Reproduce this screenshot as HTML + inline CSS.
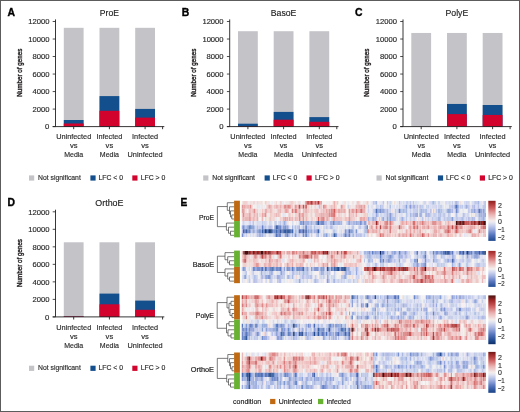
<!DOCTYPE html><html><head><meta charset="utf-8"><style>html,body{margin:0;padding:0;background:#fff;width:520px;height:412px;overflow:hidden;font-family:"Liberation Sans",sans-serif}</style></head><body><div style="position:absolute;left:0;top:0;width:520px;height:412px;will-change:transform"><svg width="520" height="412" viewBox="0 0 520 412" style="position:absolute;left:0;top:0" font-family="&quot;Liberation Sans&quot;, sans-serif">
<rect width="520" height="412" fill="#fff"/>
<defs><filter id="bl" x="-0.01" y="-0.05" width="1.02" height="1.1"><feGaussianBlur stdDeviation="0.45"/></filter></defs>
<path d="M55.50 19.40V126.60" stroke="#231f20" stroke-width="0.9" fill="none"/>
<path d="M52.70 126.60H55.50" stroke="#231f20" stroke-width="0.8"/>
<text x="45.10" y="129.45" font-size="6.9" textLength="4.3" lengthAdjust="spacingAndGlyphs" fill="#2a2a2a" stroke="#2a2a2a" stroke-width="0.15">0</text>
<path d="M52.70 109.08H55.50" stroke="#231f20" stroke-width="0.8"/>
<text x="32.40" y="111.93" font-size="6.9" textLength="17.0" lengthAdjust="spacingAndGlyphs" fill="#2a2a2a" stroke="#2a2a2a" stroke-width="0.15">2000</text>
<path d="M52.70 91.57H55.50" stroke="#231f20" stroke-width="0.8"/>
<text x="32.40" y="94.42" font-size="6.9" textLength="17.0" lengthAdjust="spacingAndGlyphs" fill="#2a2a2a" stroke="#2a2a2a" stroke-width="0.15">4000</text>
<path d="M52.70 74.05H55.50" stroke="#231f20" stroke-width="0.8"/>
<text x="32.40" y="76.90" font-size="6.9" textLength="17.0" lengthAdjust="spacingAndGlyphs" fill="#2a2a2a" stroke="#2a2a2a" stroke-width="0.15">6000</text>
<path d="M52.70 56.53H55.50" stroke="#231f20" stroke-width="0.8"/>
<text x="32.40" y="59.38" font-size="6.9" textLength="17.0" lengthAdjust="spacingAndGlyphs" fill="#2a2a2a" stroke="#2a2a2a" stroke-width="0.15">8000</text>
<path d="M52.70 39.02H55.50" stroke="#231f20" stroke-width="0.8"/>
<text x="28.20" y="41.87" font-size="6.9" textLength="21.2" lengthAdjust="spacingAndGlyphs" fill="#2a2a2a" stroke="#2a2a2a" stroke-width="0.15">10000</text>
<path d="M52.70 21.50H55.50" stroke="#231f20" stroke-width="0.8"/>
<text x="28.20" y="24.35" font-size="6.9" textLength="21.2" lengthAdjust="spacingAndGlyphs" fill="#2a2a2a" stroke="#2a2a2a" stroke-width="0.15">12000</text>
<rect x="63.80" y="27.81" width="19.8" height="98.79" fill="#c4c3c8"/>
<rect x="63.80" y="120.00" width="19.8" height="6.60" fill="#134f8c"/>
<rect x="63.80" y="123.50" width="19.8" height="3.10" fill="#d2042d"/>
<rect x="99.50" y="27.81" width="19.8" height="98.79" fill="#c4c3c8"/>
<rect x="99.50" y="96.10" width="19.8" height="30.50" fill="#134f8c"/>
<rect x="99.50" y="110.80" width="19.8" height="15.80" fill="#d2042d"/>
<rect x="135.20" y="27.81" width="19.8" height="98.79" fill="#c4c3c8"/>
<rect x="135.20" y="108.91" width="19.8" height="17.69" fill="#134f8c"/>
<rect x="135.20" y="117.61" width="19.8" height="8.99" fill="#d2042d"/>
<path d="M52.70 126.60H164.30" stroke="#231f20" stroke-width="0.9" fill="none"/>
<path d="M73.70 126.60V129.20" stroke="#231f20" stroke-width="0.9"/>
<path d="M109.40 126.60V129.20" stroke="#231f20" stroke-width="0.9"/>
<path d="M145.10 126.60V129.20" stroke="#231f20" stroke-width="0.9"/>
<path d="M162.60 126.60V129.20" stroke="#231f20" stroke-width="0.9"/>
<text x="73.70" y="139.20" font-size="7.4" text-anchor="middle" textLength="35.1" lengthAdjust="spacingAndGlyphs" fill="#2a2a2a" stroke="#2a2a2a" stroke-width="0.15">Uninfected</text>
<text x="73.70" y="148.30" font-size="7.4" text-anchor="middle" textLength="7.6" lengthAdjust="spacingAndGlyphs" fill="#2a2a2a" stroke="#2a2a2a" stroke-width="0.15">vs</text>
<text x="73.70" y="157.40" font-size="7.4" text-anchor="middle" textLength="19.1" lengthAdjust="spacingAndGlyphs" fill="#2a2a2a" stroke="#2a2a2a" stroke-width="0.15">Media</text>
<text x="109.40" y="139.20" font-size="7.4" text-anchor="middle" textLength="26.0" lengthAdjust="spacingAndGlyphs" fill="#2a2a2a" stroke="#2a2a2a" stroke-width="0.15">Infected</text>
<text x="109.40" y="148.30" font-size="7.4" text-anchor="middle" textLength="7.6" lengthAdjust="spacingAndGlyphs" fill="#2a2a2a" stroke="#2a2a2a" stroke-width="0.15">vs</text>
<text x="109.40" y="157.40" font-size="7.4" text-anchor="middle" textLength="19.1" lengthAdjust="spacingAndGlyphs" fill="#2a2a2a" stroke="#2a2a2a" stroke-width="0.15">Media</text>
<text x="145.10" y="139.20" font-size="7.4" text-anchor="middle" textLength="26.0" lengthAdjust="spacingAndGlyphs" fill="#2a2a2a" stroke="#2a2a2a" stroke-width="0.15">Infected</text>
<text x="145.10" y="148.30" font-size="7.4" text-anchor="middle" textLength="7.6" lengthAdjust="spacingAndGlyphs" fill="#2a2a2a" stroke="#2a2a2a" stroke-width="0.15">vs</text>
<text x="145.10" y="157.40" font-size="7.4" text-anchor="middle" textLength="35.1" lengthAdjust="spacingAndGlyphs" fill="#2a2a2a" stroke="#2a2a2a" stroke-width="0.15">Uninfected</text>
<text transform="translate(21.50,72.70) rotate(-90)" x="0" y="0" font-size="8.0" text-anchor="middle" textLength="48" lengthAdjust="spacingAndGlyphs" fill="#231f20" stroke="#231f20" stroke-width="0.4">Number of genes</text>
<text x="109.40" y="15.80" font-size="9.8" text-anchor="middle" textLength="19.1" lengthAdjust="spacingAndGlyphs" fill="#222" stroke="#222" stroke-width="0.15">ProE</text>
<text x="7.50" y="15.60" font-size="10.4" font-weight="bold" fill="#000" stroke="#000" stroke-width="0.35">A</text>
<rect x="29.00" y="175.40" width="5.2" height="5.2" fill="#c4c3c8"/>
<text x="38.10" y="180.10" font-size="6.9" textLength="42.7" lengthAdjust="spacingAndGlyphs" fill="#2a2a2a" stroke="#2a2a2a" stroke-width="0.15">Not significant</text>
<rect x="90.40" y="175.40" width="5.2" height="5.2" fill="#134f8c"/>
<text x="98.50" y="180.10" font-size="6.9" textLength="24.5" lengthAdjust="spacingAndGlyphs" fill="#2a2a2a" stroke="#2a2a2a" stroke-width="0.15">LFC &lt; 0</text>
<rect x="132.30" y="175.40" width="5.2" height="5.2" fill="#d2042d"/>
<text x="140.70" y="180.10" font-size="6.9" textLength="24.7" lengthAdjust="spacingAndGlyphs" fill="#2a2a2a" stroke="#2a2a2a" stroke-width="0.15">LFC &gt; 0</text>
<path d="M229.70 19.40V126.60" stroke="#231f20" stroke-width="0.9" fill="none"/>
<path d="M226.90 126.60H229.70" stroke="#231f20" stroke-width="0.8"/>
<text x="219.30" y="129.45" font-size="6.9" textLength="4.3" lengthAdjust="spacingAndGlyphs" fill="#2a2a2a" stroke="#2a2a2a" stroke-width="0.15">0</text>
<path d="M226.90 109.08H229.70" stroke="#231f20" stroke-width="0.8"/>
<text x="206.60" y="111.93" font-size="6.9" textLength="17.0" lengthAdjust="spacingAndGlyphs" fill="#2a2a2a" stroke="#2a2a2a" stroke-width="0.15">2000</text>
<path d="M226.90 91.57H229.70" stroke="#231f20" stroke-width="0.8"/>
<text x="206.60" y="94.42" font-size="6.9" textLength="17.0" lengthAdjust="spacingAndGlyphs" fill="#2a2a2a" stroke="#2a2a2a" stroke-width="0.15">4000</text>
<path d="M226.90 74.05H229.70" stroke="#231f20" stroke-width="0.8"/>
<text x="206.60" y="76.90" font-size="6.9" textLength="17.0" lengthAdjust="spacingAndGlyphs" fill="#2a2a2a" stroke="#2a2a2a" stroke-width="0.15">6000</text>
<path d="M226.90 56.53H229.70" stroke="#231f20" stroke-width="0.8"/>
<text x="206.60" y="59.38" font-size="6.9" textLength="17.0" lengthAdjust="spacingAndGlyphs" fill="#2a2a2a" stroke="#2a2a2a" stroke-width="0.15">8000</text>
<path d="M226.90 39.02H229.70" stroke="#231f20" stroke-width="0.8"/>
<text x="202.40" y="41.87" font-size="6.9" textLength="21.2" lengthAdjust="spacingAndGlyphs" fill="#2a2a2a" stroke="#2a2a2a" stroke-width="0.15">10000</text>
<path d="M226.90 21.50H229.70" stroke="#231f20" stroke-width="0.8"/>
<text x="202.40" y="24.35" font-size="6.9" textLength="21.2" lengthAdjust="spacingAndGlyphs" fill="#2a2a2a" stroke="#2a2a2a" stroke-width="0.15">12000</text>
<rect x="238.00" y="31.22" width="19.8" height="95.38" fill="#c4c3c8"/>
<rect x="238.00" y="123.71" width="19.8" height="2.89" fill="#134f8c"/>
<rect x="238.00" y="126.25" width="19.8" height="0.35" fill="#d2042d"/>
<rect x="273.70" y="31.22" width="19.8" height="95.38" fill="#c4c3c8"/>
<rect x="273.70" y="111.90" width="19.8" height="14.70" fill="#134f8c"/>
<rect x="273.70" y="119.70" width="19.8" height="6.90" fill="#d2042d"/>
<rect x="309.40" y="31.22" width="19.8" height="95.38" fill="#c4c3c8"/>
<rect x="309.40" y="117.11" width="19.8" height="9.49" fill="#134f8c"/>
<rect x="309.40" y="121.80" width="19.8" height="4.80" fill="#d2042d"/>
<path d="M226.90 126.60H338.50" stroke="#231f20" stroke-width="0.9" fill="none"/>
<path d="M247.90 126.60V129.20" stroke="#231f20" stroke-width="0.9"/>
<path d="M283.60 126.60V129.20" stroke="#231f20" stroke-width="0.9"/>
<path d="M319.30 126.60V129.20" stroke="#231f20" stroke-width="0.9"/>
<path d="M336.80 126.60V129.20" stroke="#231f20" stroke-width="0.9"/>
<text x="247.90" y="139.20" font-size="7.4" text-anchor="middle" textLength="35.1" lengthAdjust="spacingAndGlyphs" fill="#2a2a2a" stroke="#2a2a2a" stroke-width="0.15">Uninfected</text>
<text x="247.90" y="148.30" font-size="7.4" text-anchor="middle" textLength="7.6" lengthAdjust="spacingAndGlyphs" fill="#2a2a2a" stroke="#2a2a2a" stroke-width="0.15">vs</text>
<text x="247.90" y="157.40" font-size="7.4" text-anchor="middle" textLength="19.1" lengthAdjust="spacingAndGlyphs" fill="#2a2a2a" stroke="#2a2a2a" stroke-width="0.15">Media</text>
<text x="283.60" y="139.20" font-size="7.4" text-anchor="middle" textLength="26.0" lengthAdjust="spacingAndGlyphs" fill="#2a2a2a" stroke="#2a2a2a" stroke-width="0.15">Infected</text>
<text x="283.60" y="148.30" font-size="7.4" text-anchor="middle" textLength="7.6" lengthAdjust="spacingAndGlyphs" fill="#2a2a2a" stroke="#2a2a2a" stroke-width="0.15">vs</text>
<text x="283.60" y="157.40" font-size="7.4" text-anchor="middle" textLength="19.1" lengthAdjust="spacingAndGlyphs" fill="#2a2a2a" stroke="#2a2a2a" stroke-width="0.15">Media</text>
<text x="319.30" y="139.20" font-size="7.4" text-anchor="middle" textLength="26.0" lengthAdjust="spacingAndGlyphs" fill="#2a2a2a" stroke="#2a2a2a" stroke-width="0.15">Infected</text>
<text x="319.30" y="148.30" font-size="7.4" text-anchor="middle" textLength="7.6" lengthAdjust="spacingAndGlyphs" fill="#2a2a2a" stroke="#2a2a2a" stroke-width="0.15">vs</text>
<text x="319.30" y="157.40" font-size="7.4" text-anchor="middle" textLength="35.1" lengthAdjust="spacingAndGlyphs" fill="#2a2a2a" stroke="#2a2a2a" stroke-width="0.15">Uninfected</text>
<text transform="translate(195.70,72.70) rotate(-90)" x="0" y="0" font-size="8.0" text-anchor="middle" textLength="48" lengthAdjust="spacingAndGlyphs" fill="#231f20" stroke="#231f20" stroke-width="0.4">Number of genes</text>
<text x="283.60" y="15.80" font-size="9.8" text-anchor="middle" textLength="25.7" lengthAdjust="spacingAndGlyphs" fill="#222" stroke="#222" stroke-width="0.15">BasoE</text>
<text x="181.70" y="15.60" font-size="10.4" font-weight="bold" fill="#000" stroke="#000" stroke-width="0.35">B</text>
<rect x="203.20" y="175.40" width="5.2" height="5.2" fill="#c4c3c8"/>
<text x="212.30" y="180.10" font-size="6.9" textLength="42.7" lengthAdjust="spacingAndGlyphs" fill="#2a2a2a" stroke="#2a2a2a" stroke-width="0.15">Not significant</text>
<rect x="264.60" y="175.40" width="5.2" height="5.2" fill="#134f8c"/>
<text x="272.70" y="180.10" font-size="6.9" textLength="24.5" lengthAdjust="spacingAndGlyphs" fill="#2a2a2a" stroke="#2a2a2a" stroke-width="0.15">LFC &lt; 0</text>
<rect x="306.50" y="175.40" width="5.2" height="5.2" fill="#d2042d"/>
<text x="314.90" y="180.10" font-size="6.9" textLength="24.7" lengthAdjust="spacingAndGlyphs" fill="#2a2a2a" stroke="#2a2a2a" stroke-width="0.15">LFC &gt; 0</text>
<path d="M403.00 19.40V126.60" stroke="#231f20" stroke-width="0.9" fill="none"/>
<path d="M400.20 126.60H403.00" stroke="#231f20" stroke-width="0.8"/>
<text x="392.60" y="129.45" font-size="6.9" textLength="4.3" lengthAdjust="spacingAndGlyphs" fill="#2a2a2a" stroke="#2a2a2a" stroke-width="0.15">0</text>
<path d="M400.20 109.08H403.00" stroke="#231f20" stroke-width="0.8"/>
<text x="379.90" y="111.93" font-size="6.9" textLength="17.0" lengthAdjust="spacingAndGlyphs" fill="#2a2a2a" stroke="#2a2a2a" stroke-width="0.15">2000</text>
<path d="M400.20 91.57H403.00" stroke="#231f20" stroke-width="0.8"/>
<text x="379.90" y="94.42" font-size="6.9" textLength="17.0" lengthAdjust="spacingAndGlyphs" fill="#2a2a2a" stroke="#2a2a2a" stroke-width="0.15">4000</text>
<path d="M400.20 74.05H403.00" stroke="#231f20" stroke-width="0.8"/>
<text x="379.90" y="76.90" font-size="6.9" textLength="17.0" lengthAdjust="spacingAndGlyphs" fill="#2a2a2a" stroke="#2a2a2a" stroke-width="0.15">6000</text>
<path d="M400.20 56.53H403.00" stroke="#231f20" stroke-width="0.8"/>
<text x="379.90" y="59.38" font-size="6.9" textLength="17.0" lengthAdjust="spacingAndGlyphs" fill="#2a2a2a" stroke="#2a2a2a" stroke-width="0.15">8000</text>
<path d="M400.20 39.02H403.00" stroke="#231f20" stroke-width="0.8"/>
<text x="375.70" y="41.87" font-size="6.9" textLength="21.2" lengthAdjust="spacingAndGlyphs" fill="#2a2a2a" stroke="#2a2a2a" stroke-width="0.15">10000</text>
<path d="M400.20 21.50H403.00" stroke="#231f20" stroke-width="0.8"/>
<text x="375.70" y="24.35" font-size="6.9" textLength="21.2" lengthAdjust="spacingAndGlyphs" fill="#2a2a2a" stroke="#2a2a2a" stroke-width="0.15">12000</text>
<rect x="411.30" y="32.97" width="19.8" height="93.63" fill="#c4c3c8"/>
<rect x="447.00" y="32.97" width="19.8" height="93.63" fill="#c4c3c8"/>
<rect x="447.00" y="103.95" width="19.8" height="22.65" fill="#134f8c"/>
<rect x="447.00" y="114.10" width="19.8" height="12.50" fill="#d2042d"/>
<rect x="482.70" y="32.97" width="19.8" height="93.63" fill="#c4c3c8"/>
<rect x="482.70" y="105.00" width="19.8" height="21.60" fill="#134f8c"/>
<rect x="482.70" y="114.95" width="19.8" height="11.65" fill="#d2042d"/>
<path d="M400.20 126.60H511.80" stroke="#231f20" stroke-width="0.9" fill="none"/>
<path d="M421.20 126.60V129.20" stroke="#231f20" stroke-width="0.9"/>
<path d="M456.90 126.60V129.20" stroke="#231f20" stroke-width="0.9"/>
<path d="M492.60 126.60V129.20" stroke="#231f20" stroke-width="0.9"/>
<path d="M510.10 126.60V129.20" stroke="#231f20" stroke-width="0.9"/>
<text x="421.20" y="139.20" font-size="7.4" text-anchor="middle" textLength="35.1" lengthAdjust="spacingAndGlyphs" fill="#2a2a2a" stroke="#2a2a2a" stroke-width="0.15">Uninfected</text>
<text x="421.20" y="148.30" font-size="7.4" text-anchor="middle" textLength="7.6" lengthAdjust="spacingAndGlyphs" fill="#2a2a2a" stroke="#2a2a2a" stroke-width="0.15">vs</text>
<text x="421.20" y="157.40" font-size="7.4" text-anchor="middle" textLength="19.1" lengthAdjust="spacingAndGlyphs" fill="#2a2a2a" stroke="#2a2a2a" stroke-width="0.15">Media</text>
<text x="456.90" y="139.20" font-size="7.4" text-anchor="middle" textLength="26.0" lengthAdjust="spacingAndGlyphs" fill="#2a2a2a" stroke="#2a2a2a" stroke-width="0.15">Infected</text>
<text x="456.90" y="148.30" font-size="7.4" text-anchor="middle" textLength="7.6" lengthAdjust="spacingAndGlyphs" fill="#2a2a2a" stroke="#2a2a2a" stroke-width="0.15">vs</text>
<text x="456.90" y="157.40" font-size="7.4" text-anchor="middle" textLength="19.1" lengthAdjust="spacingAndGlyphs" fill="#2a2a2a" stroke="#2a2a2a" stroke-width="0.15">Media</text>
<text x="492.60" y="139.20" font-size="7.4" text-anchor="middle" textLength="26.0" lengthAdjust="spacingAndGlyphs" fill="#2a2a2a" stroke="#2a2a2a" stroke-width="0.15">Infected</text>
<text x="492.60" y="148.30" font-size="7.4" text-anchor="middle" textLength="7.6" lengthAdjust="spacingAndGlyphs" fill="#2a2a2a" stroke="#2a2a2a" stroke-width="0.15">vs</text>
<text x="492.60" y="157.40" font-size="7.4" text-anchor="middle" textLength="35.1" lengthAdjust="spacingAndGlyphs" fill="#2a2a2a" stroke="#2a2a2a" stroke-width="0.15">Uninfected</text>
<text transform="translate(369.00,72.70) rotate(-90)" x="0" y="0" font-size="8.0" text-anchor="middle" textLength="48" lengthAdjust="spacingAndGlyphs" fill="#231f20" stroke="#231f20" stroke-width="0.4">Number of genes</text>
<text x="456.90" y="15.80" font-size="9.8" text-anchor="middle" textLength="22.8" lengthAdjust="spacingAndGlyphs" fill="#222" stroke="#222" stroke-width="0.15">PolyE</text>
<text x="355.00" y="15.60" font-size="10.4" font-weight="bold" fill="#000" stroke="#000" stroke-width="0.35">C</text>
<rect x="376.50" y="175.40" width="5.2" height="5.2" fill="#c4c3c8"/>
<text x="385.60" y="180.10" font-size="6.9" textLength="42.7" lengthAdjust="spacingAndGlyphs" fill="#2a2a2a" stroke="#2a2a2a" stroke-width="0.15">Not significant</text>
<rect x="437.90" y="175.40" width="5.2" height="5.2" fill="#134f8c"/>
<text x="446.00" y="180.10" font-size="6.9" textLength="24.5" lengthAdjust="spacingAndGlyphs" fill="#2a2a2a" stroke="#2a2a2a" stroke-width="0.15">LFC &lt; 0</text>
<rect x="479.80" y="175.40" width="5.2" height="5.2" fill="#d2042d"/>
<text x="488.20" y="180.10" font-size="6.9" textLength="24.7" lengthAdjust="spacingAndGlyphs" fill="#2a2a2a" stroke="#2a2a2a" stroke-width="0.15">LFC &gt; 0</text>
<path d="M55.50 209.70V316.90" stroke="#231f20" stroke-width="0.9" fill="none"/>
<path d="M52.70 316.90H55.50" stroke="#231f20" stroke-width="0.8"/>
<text x="45.10" y="319.75" font-size="6.9" textLength="4.3" lengthAdjust="spacingAndGlyphs" fill="#2a2a2a" stroke="#2a2a2a" stroke-width="0.15">0</text>
<path d="M52.70 299.38H55.50" stroke="#231f20" stroke-width="0.8"/>
<text x="32.40" y="302.23" font-size="6.9" textLength="17.0" lengthAdjust="spacingAndGlyphs" fill="#2a2a2a" stroke="#2a2a2a" stroke-width="0.15">2000</text>
<path d="M52.70 281.87H55.50" stroke="#231f20" stroke-width="0.8"/>
<text x="32.40" y="284.72" font-size="6.9" textLength="17.0" lengthAdjust="spacingAndGlyphs" fill="#2a2a2a" stroke="#2a2a2a" stroke-width="0.15">4000</text>
<path d="M52.70 264.35H55.50" stroke="#231f20" stroke-width="0.8"/>
<text x="32.40" y="267.20" font-size="6.9" textLength="17.0" lengthAdjust="spacingAndGlyphs" fill="#2a2a2a" stroke="#2a2a2a" stroke-width="0.15">6000</text>
<path d="M52.70 246.83H55.50" stroke="#231f20" stroke-width="0.8"/>
<text x="32.40" y="249.68" font-size="6.9" textLength="17.0" lengthAdjust="spacingAndGlyphs" fill="#2a2a2a" stroke="#2a2a2a" stroke-width="0.15">8000</text>
<path d="M52.70 229.32H55.50" stroke="#231f20" stroke-width="0.8"/>
<text x="28.20" y="232.17" font-size="6.9" textLength="21.2" lengthAdjust="spacingAndGlyphs" fill="#2a2a2a" stroke="#2a2a2a" stroke-width="0.15">10000</text>
<path d="M52.70 211.80H55.50" stroke="#231f20" stroke-width="0.8"/>
<text x="28.20" y="214.65" font-size="6.9" textLength="21.2" lengthAdjust="spacingAndGlyphs" fill="#2a2a2a" stroke="#2a2a2a" stroke-width="0.15">12000</text>
<rect x="63.80" y="242.28" width="19.8" height="74.62" fill="#c4c3c8"/>
<rect x="63.80" y="316.37" width="19.8" height="0.53" fill="#134f8c"/>
<rect x="63.80" y="316.37" width="19.8" height="0.53" fill="#d2042d"/>
<rect x="99.50" y="242.28" width="19.8" height="74.62" fill="#c4c3c8"/>
<rect x="99.50" y="293.60" width="19.8" height="23.30" fill="#134f8c"/>
<rect x="99.50" y="304.31" width="19.8" height="12.59" fill="#d2042d"/>
<rect x="135.20" y="242.28" width="19.8" height="74.62" fill="#c4c3c8"/>
<rect x="135.20" y="300.60" width="19.8" height="16.30" fill="#134f8c"/>
<rect x="135.20" y="309.81" width="19.8" height="7.09" fill="#d2042d"/>
<path d="M52.70 316.90H164.30" stroke="#231f20" stroke-width="0.9" fill="none"/>
<path d="M73.70 316.90V319.50" stroke="#231f20" stroke-width="0.9"/>
<path d="M109.40 316.90V319.50" stroke="#231f20" stroke-width="0.9"/>
<path d="M145.10 316.90V319.50" stroke="#231f20" stroke-width="0.9"/>
<path d="M162.60 316.90V319.50" stroke="#231f20" stroke-width="0.9"/>
<text x="73.70" y="329.50" font-size="7.4" text-anchor="middle" textLength="35.1" lengthAdjust="spacingAndGlyphs" fill="#2a2a2a" stroke="#2a2a2a" stroke-width="0.15">Uninfected</text>
<text x="73.70" y="338.60" font-size="7.4" text-anchor="middle" textLength="7.6" lengthAdjust="spacingAndGlyphs" fill="#2a2a2a" stroke="#2a2a2a" stroke-width="0.15">vs</text>
<text x="73.70" y="347.70" font-size="7.4" text-anchor="middle" textLength="19.1" lengthAdjust="spacingAndGlyphs" fill="#2a2a2a" stroke="#2a2a2a" stroke-width="0.15">Media</text>
<text x="109.40" y="329.50" font-size="7.4" text-anchor="middle" textLength="26.0" lengthAdjust="spacingAndGlyphs" fill="#2a2a2a" stroke="#2a2a2a" stroke-width="0.15">Infected</text>
<text x="109.40" y="338.60" font-size="7.4" text-anchor="middle" textLength="7.6" lengthAdjust="spacingAndGlyphs" fill="#2a2a2a" stroke="#2a2a2a" stroke-width="0.15">vs</text>
<text x="109.40" y="347.70" font-size="7.4" text-anchor="middle" textLength="19.1" lengthAdjust="spacingAndGlyphs" fill="#2a2a2a" stroke="#2a2a2a" stroke-width="0.15">Media</text>
<text x="145.10" y="329.50" font-size="7.4" text-anchor="middle" textLength="26.0" lengthAdjust="spacingAndGlyphs" fill="#2a2a2a" stroke="#2a2a2a" stroke-width="0.15">Infected</text>
<text x="145.10" y="338.60" font-size="7.4" text-anchor="middle" textLength="7.6" lengthAdjust="spacingAndGlyphs" fill="#2a2a2a" stroke="#2a2a2a" stroke-width="0.15">vs</text>
<text x="145.10" y="347.70" font-size="7.4" text-anchor="middle" textLength="35.1" lengthAdjust="spacingAndGlyphs" fill="#2a2a2a" stroke="#2a2a2a" stroke-width="0.15">Uninfected</text>
<text transform="translate(21.50,263.00) rotate(-90)" x="0" y="0" font-size="8.0" text-anchor="middle" textLength="48" lengthAdjust="spacingAndGlyphs" fill="#231f20" stroke="#231f20" stroke-width="0.4">Number of genes</text>
<text x="109.40" y="206.10" font-size="9.8" text-anchor="middle" textLength="28.2" lengthAdjust="spacingAndGlyphs" fill="#222" stroke="#222" stroke-width="0.15">OrthoE</text>
<text x="7.50" y="205.90" font-size="10.4" font-weight="bold" fill="#000" stroke="#000" stroke-width="0.35">D</text>
<rect x="29.00" y="365.70" width="5.2" height="5.2" fill="#c4c3c8"/>
<text x="38.10" y="370.40" font-size="6.9" textLength="42.7" lengthAdjust="spacingAndGlyphs" fill="#2a2a2a" stroke="#2a2a2a" stroke-width="0.15">Not significant</text>
<rect x="90.40" y="365.70" width="5.2" height="5.2" fill="#134f8c"/>
<text x="98.50" y="370.40" font-size="6.9" textLength="24.5" lengthAdjust="spacingAndGlyphs" fill="#2a2a2a" stroke="#2a2a2a" stroke-width="0.15">LFC &lt; 0</text>
<rect x="132.30" y="365.70" width="5.2" height="5.2" fill="#d2042d"/>
<text x="140.70" y="370.40" font-size="6.9" textLength="24.7" lengthAdjust="spacingAndGlyphs" fill="#2a2a2a" stroke="#2a2a2a" stroke-width="0.15">LFC &gt; 0</text>
<text x="180.50" y="205.90" font-size="10.2" font-weight="bold" fill="#000" stroke="#000" stroke-width="0.35">E</text>
<g stroke-width="4.07" filter="url(#bl)">
<path stroke="#f0e8e0" d="M241.7 202.73h1.4M268.8 202.73h1.4M328.5 202.73h1.4M338.0 202.73h1.4M309.5 206.80h1.4M366.5 206.80h1.4M434.3 210.88h1.4M268.8 214.94h1.4M267.5 219.01h1.4M426.1 231.22h1.4M468.2 235.29h1.4"/>
<path stroke="#f0d0d0" d="M243.1 202.73h4.1M252.5 202.73h1.4M279.7 202.73h1.4M289.2 202.73h1.4M291.9 202.73h1.4M335.3 202.73h1.4M266.1 206.80h1.4M271.5 206.80h1.4M310.9 206.80h1.4M329.8 206.80h1.4M332.6 206.80h1.4M244.4 210.88h1.4M256.6 210.88h1.4M267.5 210.88h2.7M271.5 210.88h1.4M277.0 210.88h1.4M290.5 210.88h1.4M300.0 210.88h1.4M313.6 210.88h1.4M317.6 210.88h1.4M321.7 210.88h1.4M350.2 210.88h1.4M251.2 214.94h1.4M266.1 214.94h1.4M271.5 214.94h1.4M294.6 214.94h2.7M304.1 214.94h1.4M306.8 214.94h1.4M310.9 214.94h1.4M338.0 214.94h2.7M343.4 214.94h1.4M362.4 214.94h1.4M268.8 219.01h1.4M274.2 219.01h1.4M279.7 219.01h1.4M287.8 219.01h1.4M306.8 219.01h1.4M310.9 219.01h2.7M352.9 219.01h2.7M424.8 219.01h1.4M370.5 223.08h1.4M382.7 223.08h1.4M446.5 223.08h1.4M451.9 223.08h1.4M377.3 227.16h1.4M388.2 227.16h1.4M392.2 227.16h2.7M476.3 227.16h1.4M380.0 231.22h1.4M385.4 231.22h1.4M388.2 231.22h1.4M390.9 231.22h6.8M404.4 231.22h1.4M415.3 231.22h1.4M418.0 231.22h1.4M422.1 231.22h1.4M430.2 231.22h1.4M437.0 231.22h1.4M442.4 231.22h1.4M450.5 231.22h1.4M462.7 231.22h2.7M481.7 231.22h1.4M413.9 235.29h2.7M428.8 235.29h1.4"/>
<path stroke="#f0d8d8" d="M247.1 202.73h1.4M253.9 202.73h1.4M256.6 202.73h1.4M259.3 202.73h1.4M266.1 202.73h1.4M275.6 202.73h1.4M281.0 202.73h1.4M293.2 202.73h1.4M343.4 202.73h1.4M272.9 206.80h1.4M314.9 206.80h1.4M365.1 206.80h1.4M259.3 210.88h1.4M263.4 210.88h1.4M274.2 210.88h1.4M281.0 210.88h2.7M309.5 210.88h1.4M365.1 210.88h1.4M392.2 210.88h1.4M272.9 214.94h1.4M287.8 214.94h1.4M309.5 214.94h1.4M340.7 214.94h1.4M358.3 214.94h1.4M470.9 214.94h1.4M264.8 219.01h1.4M272.9 219.01h1.4M308.1 219.01h1.4M342.1 219.01h1.4M344.8 227.16h1.4M404.4 227.16h1.4M420.7 227.16h1.4M437.0 227.16h1.4M462.7 227.16h1.4M399.0 231.22h1.4M401.7 231.22h1.4M411.2 231.22h1.4M424.8 231.22h1.4M431.6 231.22h1.4M439.7 231.22h1.4M367.8 235.29h1.4M370.5 235.29h1.4M376.0 235.29h1.4M396.3 235.29h1.4M443.8 235.29h2.7M456.0 235.29h1.4M458.7 235.29h1.4M480.4 235.29h1.4"/>
<path stroke="#f0e8e8" d="M248.5 202.73h1.4M262.0 202.73h1.4M278.3 202.73h1.4M285.1 202.73h4.1M304.1 202.73h1.4M359.7 202.73h1.4M363.8 202.73h1.4M378.7 202.73h1.4M394.9 202.73h1.4M461.4 202.73h1.4M255.3 206.80h1.4M260.7 206.80h2.7M293.2 206.80h1.4M312.2 206.80h1.4M339.3 206.80h1.4M351.5 206.80h2.7M373.2 206.80h1.4M258.0 210.88h1.4M260.7 210.88h1.4M289.2 210.88h1.4M258.0 214.94h1.4M267.5 214.94h1.4M293.2 214.94h1.4M313.6 214.94h1.4M336.6 214.94h1.4M342.1 214.94h1.4M347.5 214.94h1.4M359.7 214.94h1.4M403.1 214.94h1.4M472.2 214.94h2.7M278.3 219.01h1.4M314.9 219.01h1.4M380.0 219.01h1.4M287.8 223.08h1.4M293.2 223.08h1.4M343.4 223.08h1.4M366.5 223.08h1.4M443.8 223.08h1.4M325.8 231.22h1.4M342.1 231.22h1.4M427.5 231.22h1.4M476.3 231.22h1.4M247.1 235.29h2.7M371.9 235.29h1.4M437.0 235.29h1.4M466.8 235.29h1.4M469.5 235.29h1.4M481.7 235.29h1.4"/>
<path stroke="#f0e0e0" d="M249.8 202.73h2.7M255.3 202.73h1.4M258.0 202.73h1.4M267.5 202.73h1.4M274.2 202.73h1.4M297.3 202.73h2.7M351.5 202.73h1.4M355.6 202.73h1.4M362.4 202.73h1.4M365.1 202.73h1.4M367.8 202.73h1.4M460.0 202.73h1.4M256.6 206.80h1.4M313.6 206.80h1.4M316.3 206.80h1.4M321.7 206.80h1.4M327.1 206.80h1.4M344.8 206.80h1.4M348.8 206.80h2.7M354.3 206.80h1.4M245.8 210.88h1.4M275.6 210.88h1.4M290.5 214.94h1.4M312.2 214.94h1.4M354.3 214.94h1.4M357.0 214.94h1.4M258.0 219.01h1.4M293.2 219.01h1.4M309.5 219.01h1.4M355.6 219.01h1.4M418.0 219.01h1.4M378.7 223.08h1.4M393.6 223.08h1.4M396.3 223.08h1.4M442.4 223.08h1.4M450.5 223.08h1.4M453.3 223.08h1.4M373.2 227.16h1.4M381.4 231.22h1.4M420.7 231.22h1.4M423.4 231.22h1.4M472.2 231.22h1.4M390.9 235.29h1.4M461.4 235.29h1.4"/>
<path stroke="#f0e0d8" d="M260.7 202.73h1.4M294.6 202.73h1.4M344.8 202.73h1.4M393.6 202.73h1.4M272.9 210.88h1.4M347.5 210.88h1.4M308.1 214.94h1.4M361.0 214.94h1.4M260.7 219.01h1.4M266.1 219.01h1.4M313.6 219.01h1.4M358.3 219.01h1.4M399.0 223.08h1.4M479.0 227.16h1.4M441.0 231.22h1.4M453.3 235.29h1.4"/>
<path stroke="#f8f0e8" d="M263.4 202.73h1.4M302.7 202.73h1.4M324.4 202.73h1.4M331.2 202.73h1.4M392.2 202.73h1.4M252.5 206.80h1.4M277.0 219.01h1.4M272.9 227.16h1.4M290.5 227.16h1.4M367.8 227.16h1.4M397.7 231.22h1.4M369.2 235.29h1.4"/>
<path stroke="#f0d0c8" d="M264.8 202.73h1.4M332.6 202.73h1.4M306.8 206.80h1.4M310.9 210.88h1.4M363.8 214.94h1.4M343.4 219.01h1.4M394.9 227.16h1.4M408.5 231.22h1.4"/>
<path stroke="#f0f0f0" d="M270.2 202.73h1.4M277.0 202.73h1.4M321.7 202.73h1.4M325.8 202.73h2.7M346.1 202.73h1.4M348.8 202.73h1.4M354.3 202.73h1.4M369.2 202.73h1.4M384.1 202.73h1.4M443.8 202.73h1.4M462.7 202.73h1.4M469.5 202.73h1.4M253.9 206.80h1.4M264.8 206.80h1.4M336.6 206.80h2.7M369.2 206.80h1.4M384.1 206.80h1.4M394.9 206.80h1.4M443.8 206.80h1.4M247.1 210.88h1.4M460.0 210.88h1.4M464.1 210.88h2.7M286.5 214.94h1.4M423.4 214.94h1.4M469.5 214.94h1.4M263.4 219.01h1.4M357.0 219.01h1.4M397.7 219.01h1.4M416.6 219.01h1.4M476.3 219.01h1.4M267.5 223.08h1.4M277.0 223.08h1.4M297.3 223.08h1.4M300.0 227.16h1.4M321.7 227.16h1.4M338.0 227.16h1.4M346.1 227.16h1.4M355.6 227.16h2.7M328.5 231.22h2.7M338.0 231.22h1.4M358.3 231.22h1.4M361.0 231.22h1.4M428.8 231.22h1.4M266.1 235.29h1.4M374.6 235.29h1.4M457.3 235.29h1.4"/>
<path stroke="#e8e8f0" d="M271.5 202.73h1.4M300.0 202.73h1.4M342.1 202.73h1.4M347.5 202.73h1.4M352.9 202.73h1.4M380.0 202.73h1.4M396.3 202.73h2.7M419.4 202.73h1.4M422.1 202.73h1.4M427.5 202.73h1.4M435.6 202.73h2.7M439.7 202.73h4.1M453.3 202.73h1.4M458.7 202.73h1.4M470.9 202.73h1.4M258.0 206.80h2.7M263.4 206.80h1.4M385.4 206.80h1.4M388.2 206.80h1.4M390.9 206.80h1.4M397.7 206.80h1.4M446.5 206.80h2.7M319.0 210.88h1.4M366.5 210.88h1.4M369.2 210.88h2.7M390.9 210.88h1.4M393.6 210.88h1.4M461.4 210.88h1.4M283.7 214.94h2.7M370.5 214.94h1.4M378.7 214.94h1.4M397.7 214.94h1.4M404.4 214.94h1.4M418.0 214.94h1.4M446.5 214.94h1.4M458.7 214.94h2.7M275.6 219.01h1.4M329.8 219.01h1.4M407.1 219.01h1.4M244.4 223.08h4.1M251.2 223.08h1.4M253.9 223.08h1.4M271.5 223.08h1.4M295.9 223.08h1.4M344.8 223.08h1.4M394.9 223.08h1.4M397.7 223.08h1.4M312.2 227.16h1.4M340.7 227.16h1.4M350.2 227.16h1.4M405.8 227.16h1.4M320.4 231.22h2.7M331.2 231.22h1.4M336.6 231.22h1.4M359.7 231.22h1.4M403.1 231.22h1.4M473.6 231.22h1.4M251.2 235.29h1.4M253.9 235.29h1.4M267.5 235.29h1.4M309.5 235.29h1.4M312.2 235.29h1.4M314.9 235.29h1.4M321.7 235.29h1.4M329.8 235.29h1.4M465.5 235.29h1.4"/>
<path stroke="#f8f0f0" d="M272.9 202.73h1.4M283.7 202.73h1.4M295.9 202.73h1.4M301.4 202.73h1.4M323.1 202.73h1.4M329.8 202.73h1.4M339.3 202.73h2.7M350.2 202.73h1.4M361.0 202.73h1.4M385.4 202.73h1.4M420.7 202.73h1.4M346.1 206.80h1.4M301.4 210.88h1.4M346.1 210.88h1.4M431.6 210.88h1.4M281.0 214.94h1.4M346.1 214.94h1.4M450.5 214.94h4.1M259.3 219.01h1.4M377.3 219.01h1.4M272.9 223.08h1.4M289.2 223.08h2.7M294.6 223.08h1.4M407.1 227.16h1.4M373.2 235.29h1.4M462.7 235.29h1.4"/>
<path stroke="#e0e8f0" d="M282.4 202.73h1.4M370.5 202.73h1.4M401.7 202.73h1.4M413.9 202.73h1.4M416.6 202.73h2.7M437.0 206.80h1.4M418.0 210.88h1.4M462.7 210.88h1.4M367.8 214.94h1.4M441.0 219.01h1.4M343.4 227.16h1.4M354.3 227.16h1.4M324.4 231.22h1.4M327.1 231.22h1.4"/>
<path stroke="#f0c8c8" d="M290.5 202.73h1.4M336.6 202.73h1.4M357.0 202.73h2.7M251.2 206.80h1.4M281.0 206.80h1.4M290.5 206.80h2.7M308.1 206.80h1.4M251.2 210.88h1.4M255.3 210.88h1.4M262.0 210.88h1.4M283.7 210.88h1.4M306.8 210.88h2.7M314.9 210.88h1.4M245.8 214.94h1.4M252.5 214.94h1.4M259.3 214.94h1.4M277.0 214.94h1.4M297.3 214.94h1.4M314.9 214.94h4.1M335.3 214.94h1.4M350.2 214.94h2.7M365.1 214.94h1.4M241.7 219.01h1.4M255.3 219.01h1.4M301.4 219.01h1.4M324.4 219.01h1.4M328.5 219.01h1.4M331.2 219.01h1.4M338.0 219.01h4.1M351.5 219.01h1.4M378.7 219.01h1.4M381.4 223.08h1.4M388.2 223.08h1.4M404.4 223.08h1.4M407.1 223.08h2.7M418.0 223.08h1.4M441.0 223.08h1.4M396.3 227.16h1.4M401.7 227.16h1.4M430.2 227.16h2.7M465.5 227.16h2.7M475.0 227.16h1.4M377.3 231.22h1.4M382.7 231.22h1.4M407.1 231.22h1.4M432.9 231.22h1.4M453.3 231.22h1.4M385.4 235.29h1.4M392.2 235.29h1.4M407.1 235.29h1.4M424.8 235.29h1.4M430.2 235.29h2.7M442.4 235.29h1.4M454.6 235.29h1.4M460.0 235.29h1.4M470.9 235.29h1.4"/>
<path stroke="#d88080" d="M305.4 202.73h1.4M319.0 202.73h1.4M285.1 206.80h1.4M289.2 206.80h1.4M323.1 206.80h1.4M291.9 210.88h1.4M332.6 214.94h1.4M320.4 219.01h1.4M377.3 223.08h1.4M386.8 223.08h1.4M457.3 227.16h1.4M457.3 231.22h1.4M468.2 231.22h1.4"/>
<path stroke="#d06060" d="M306.8 202.73h1.4M314.9 202.73h1.4M331.2 214.94h1.4M317.6 219.01h1.4M466.8 223.08h1.4M447.8 231.22h1.4M456.0 231.22h1.4"/>
<path stroke="#c05050" d="M308.1 202.73h1.4M302.7 206.80h1.4M399.0 227.16h1.4M484.4 227.16h1.4"/>
<path stroke="#c85858" d="M309.5 202.73h1.4M312.2 202.73h1.4M483.1 227.16h1.4"/>
<path stroke="#b03838" d="M310.9 202.73h1.4M468.2 223.08h1.4M380.0 227.16h1.4M456.0 227.16h1.4"/>
<path stroke="#e08888" d="M313.6 202.73h1.4M287.8 206.80h1.4M324.4 206.80h1.4M295.9 210.88h1.4M328.5 210.88h1.4M359.7 210.88h1.4M298.7 214.94h1.4M298.7 219.01h1.4M412.6 227.16h1.4M454.6 231.22h1.4M381.4 235.29h1.4M423.4 235.29h1.4M427.5 235.29h1.4"/>
<path stroke="#d87878" d="M316.3 202.73h1.4M294.6 210.88h1.4M355.6 210.88h1.4M243.1 214.94h1.4M328.5 214.94h1.4M323.1 219.01h1.4M376.0 227.16h1.4M454.6 227.16h1.4M445.1 231.22h1.4M449.2 231.22h1.4M479.0 231.22h1.4"/>
<path stroke="#a83030" d="M317.6 202.73h1.4M472.2 223.08h1.4"/>
<path stroke="#e09090" d="M320.4 202.73h1.4M249.8 206.80h1.4M283.7 206.80h1.4M253.9 210.88h1.4M332.6 210.88h1.4M343.4 210.88h1.4M351.5 210.88h1.4M264.8 214.94h1.4M320.4 214.94h1.4M248.5 219.01h1.4M321.7 219.01h1.4M432.9 223.08h1.4M384.1 227.16h1.4M386.8 227.16h1.4M423.4 227.16h1.4M434.3 227.16h1.4M449.2 227.16h1.4M460.0 227.16h2.7M480.4 227.16h2.7M367.8 231.22h1.4M434.3 231.22h1.4M382.7 235.29h1.4M419.4 235.29h1.4"/>
<path stroke="#e8b0b0" d="M333.9 202.73h1.4M275.6 206.80h1.4M279.7 206.80h1.4M300.0 206.80h1.4M304.1 206.80h1.4M333.9 206.80h1.4M359.7 206.80h1.4M362.4 206.80h1.4M252.5 210.88h1.4M264.8 210.88h2.7M270.2 210.88h1.4M278.3 210.88h1.4M297.3 210.88h1.4M316.3 210.88h1.4M340.7 210.88h1.4M354.3 210.88h1.4M363.8 210.88h1.4M278.3 214.94h1.4M324.4 214.94h1.4M355.6 214.94h1.4M243.1 219.01h1.4M247.1 219.01h1.4M252.5 219.01h1.4M256.6 219.01h1.4M332.6 219.01h1.4M400.4 223.08h1.4M403.1 223.08h1.4M420.7 223.08h1.4M435.6 223.08h1.4M447.8 223.08h1.4M371.9 227.16h1.4M408.5 227.16h1.4M419.4 227.16h1.4M426.1 227.16h1.4M441.0 227.16h1.4M443.8 227.16h1.4M468.2 227.16h1.4M371.9 231.22h1.4M405.8 231.22h1.4M413.9 231.22h1.4M438.3 231.22h1.4M443.8 231.22h1.4M480.4 231.22h1.4M401.7 235.29h1.4M404.4 235.29h1.4M412.6 235.29h1.4M416.6 235.29h1.4M420.7 235.29h1.4M432.9 235.29h1.4M439.7 235.29h1.4M446.5 235.29h1.4M473.6 235.29h2.7M484.4 235.29h1.4"/>
<path stroke="#f0c8c0" d="M366.5 202.73h1.4M335.3 206.80h1.4M336.6 210.88h1.4M432.9 210.88h1.4M366.5 214.94h1.4M411.2 223.08h1.4M374.6 227.16h1.4M477.7 227.16h1.4M460.0 231.22h1.4M451.9 235.29h1.4"/>
<path stroke="#e0e0f0" d="M371.9 202.73h1.4M388.2 202.73h1.4M404.4 202.73h1.4M450.5 202.73h1.4M317.6 206.80h1.4M371.9 206.80h1.4M378.7 206.80h1.4M393.6 206.80h1.4M400.4 206.80h1.4M418.0 206.80h1.4M423.4 206.80h1.4M428.8 206.80h1.4M442.4 206.80h1.4M445.1 206.80h1.4M462.7 206.80h1.4M469.5 206.80h2.7M371.9 210.88h1.4M411.2 210.88h1.4M428.8 210.88h1.4M453.3 210.88h1.4M458.7 210.88h1.4M282.4 214.94h1.4M393.6 214.94h1.4M399.0 214.94h1.4M401.7 214.94h1.4M431.6 214.94h1.4M437.0 214.94h1.4M457.3 214.94h1.4M461.4 214.94h1.4M465.5 214.94h1.4M404.4 219.01h1.4M420.7 219.01h1.4M426.1 219.01h1.4M428.8 219.01h2.7M475.0 219.01h1.4M241.7 223.08h1.4M255.3 223.08h1.4M281.0 223.08h1.4M286.5 223.08h1.4M342.1 223.08h1.4M320.4 227.16h1.4M328.5 227.16h1.4M336.6 227.16h1.4M339.3 227.16h1.4M342.1 227.16h1.4M347.5 227.16h1.4M354.3 231.22h1.4M362.4 231.22h1.4M244.4 235.29h1.4M271.5 235.29h1.4M300.0 235.29h1.4M354.3 235.29h1.4M365.1 235.29h1.4M464.1 235.29h1.4"/>
<path stroke="#b0c0e8" d="M373.2 202.73h1.4M476.3 202.73h1.4M380.0 206.80h1.4M416.6 206.80h1.4M461.4 206.80h1.4M466.8 206.80h1.4M483.1 206.80h1.4M404.4 210.88h1.4M422.1 210.88h2.7M441.0 210.88h1.4M450.5 210.88h1.4M484.4 210.88h1.4M377.3 214.94h1.4M390.9 214.94h1.4M428.8 214.94h1.4M442.4 214.94h1.4M456.0 214.94h1.4M390.9 219.01h4.1M481.7 219.01h1.4M309.5 223.08h1.4M245.8 227.16h1.4M253.9 227.16h1.4M256.6 227.16h1.4M263.4 227.16h1.4M268.8 227.16h1.4M352.9 231.22h1.4M295.9 235.29h1.4M306.8 235.29h2.7M316.3 235.29h1.4M327.1 235.29h1.4M331.2 235.29h1.4M351.5 235.29h1.4"/>
<path stroke="#c0c8e8" d="M374.6 202.73h1.4M382.7 202.73h1.4M386.8 202.73h1.4M399.0 202.73h1.4M407.1 202.73h1.4M409.9 202.73h1.4M412.6 202.73h1.4M475.0 202.73h1.4M411.2 206.80h1.4M415.3 206.80h1.4M427.5 206.80h1.4M438.3 206.80h1.4M450.5 206.80h1.4M453.3 206.80h1.4M460.0 206.80h1.4M394.9 210.88h1.4M416.6 210.88h1.4M435.6 210.88h1.4M442.4 210.88h1.4M454.6 210.88h1.4M385.4 214.94h1.4M388.2 214.94h1.4M392.2 214.94h1.4M394.9 214.94h1.4M411.2 214.94h1.4M443.8 214.94h1.4M447.8 214.94h1.4M464.1 214.94h1.4M477.7 214.94h1.4M376.0 219.01h1.4M394.9 219.01h1.4M405.8 219.01h1.4M431.6 219.01h1.4M434.3 219.01h1.4M443.8 219.01h1.4M456.0 219.01h2.7M462.7 219.01h1.4M465.5 219.01h1.4M262.0 223.08h1.4M279.7 223.08h1.4M282.4 223.08h1.4M312.2 223.08h2.7M267.5 227.16h1.4M306.8 227.16h1.4M309.5 227.16h2.7M325.8 227.16h1.4M351.5 227.16h2.7M358.3 227.16h2.7M363.8 227.16h1.4M251.2 231.22h1.4M255.3 231.22h1.4M297.3 231.22h1.4M332.6 231.22h1.4M363.8 231.22h1.4M258.0 235.29h1.4M263.4 235.29h1.4M283.7 235.29h1.4M340.7 235.29h1.4M357.0 235.29h1.4M361.0 235.29h1.4"/>
<path stroke="#a8b8e0" d="M376.0 202.73h1.4M432.9 202.73h1.4M477.7 202.73h1.4M389.5 206.80h1.4M408.5 206.80h1.4M412.6 206.80h1.4M384.1 210.88h1.4M386.8 210.88h1.4M400.4 210.88h1.4M405.8 210.88h1.4M419.4 210.88h1.4M426.1 210.88h1.4M470.9 210.88h2.7M386.8 214.94h1.4M409.9 214.94h1.4M420.7 214.94h1.4M434.3 214.94h1.4M438.3 214.94h1.4M371.9 219.01h1.4M381.4 219.01h1.4M336.6 223.08h1.4M340.7 223.08h1.4M352.9 223.08h2.7M357.0 223.08h2.7M291.9 227.16h1.4M298.7 227.16h1.4M302.7 227.16h1.4M253.9 231.22h1.4M294.6 231.22h1.4M346.1 231.22h1.4M365.1 231.22h1.4M274.2 235.29h1.4M289.2 235.29h1.4M291.9 235.29h1.4M317.6 235.29h1.4M323.1 235.29h2.7M352.9 235.29h1.4M358.3 235.29h1.4"/>
<path stroke="#f0e8f0" d="M377.3 202.73h1.4M426.1 202.73h1.4M481.7 202.73h1.4M374.6 206.80h1.4M424.8 206.80h1.4M466.8 210.88h1.4M423.4 219.01h1.4M475.0 231.22h1.4M313.6 235.29h1.4M319.0 235.29h1.4"/>
<path stroke="#d8d8f0" d="M381.4 202.73h1.4M400.4 202.73h1.4M445.1 202.73h2.7M386.8 206.80h1.4M401.7 206.80h1.4M431.6 206.80h2.7M475.0 206.80h1.4M427.5 210.88h1.4M396.3 214.94h1.4M454.6 214.94h1.4M396.3 219.01h1.4M399.0 219.01h1.4M411.2 219.01h1.4M415.3 219.01h1.4M466.8 219.01h1.4M256.6 223.08h1.4M266.1 223.08h1.4M317.6 227.16h2.7M332.6 227.16h1.4M335.3 227.16h1.4M340.7 231.22h1.4M343.4 231.22h1.4M252.5 235.29h1.4M255.3 235.29h1.4M268.8 235.29h1.4M338.0 235.29h1.4"/>
<path stroke="#c0d0e8" d="M389.5 202.73h1.4M426.1 206.80h1.4M470.9 219.01h1.4"/>
<path stroke="#d8e0f0" d="M390.9 202.73h1.4M411.2 202.73h1.4M428.8 202.73h1.4M447.8 202.73h1.4M480.4 202.73h1.4M370.5 206.80h1.4M392.2 206.80h1.4M479.0 206.80h2.7M408.5 210.88h1.4M443.8 210.88h1.4M369.2 214.94h1.4M382.7 214.94h1.4M408.5 214.94h1.4M422.1 214.94h1.4M408.5 219.01h1.4M419.4 219.01h1.4M258.0 223.08h1.4M260.7 223.08h1.4M291.9 223.08h1.4M289.2 227.16h1.4M333.9 227.16h1.4M348.8 227.16h1.4M361.0 227.16h1.4M339.3 231.22h1.4M249.8 235.29h1.4"/>
<path stroke="#d0d8f0" d="M403.1 202.73h1.4M408.5 202.73h1.4M415.3 202.73h1.4M424.8 202.73h1.4M464.1 202.73h1.4M466.8 202.73h1.4M472.2 202.73h1.4M479.0 202.73h1.4M483.1 202.73h1.4M382.7 206.80h1.4M396.3 206.80h1.4M407.1 206.80h1.4M430.2 206.80h1.4M458.7 206.80h1.4M476.3 206.80h1.4M481.7 206.80h1.4M407.1 210.88h1.4M437.0 210.88h1.4M445.1 210.88h1.4M469.5 210.88h1.4M371.9 214.94h1.4M380.0 214.94h2.7M400.4 214.94h1.4M435.6 214.94h1.4M441.0 214.94h1.4M445.1 214.94h1.4M466.8 214.94h2.7M475.0 214.94h1.4M384.1 219.01h1.4M412.6 219.01h1.4M432.9 219.01h1.4M454.6 219.01h1.4M464.1 219.01h1.4M248.5 223.08h1.4M259.3 223.08h1.4M264.8 223.08h1.4M268.8 223.08h1.4M327.1 223.08h2.7M266.1 227.16h1.4M293.2 227.16h1.4M295.9 227.16h1.4M314.9 227.16h1.4M323.1 227.16h2.7M362.4 227.16h1.4M293.2 231.22h1.4M357.0 231.22h1.4M270.2 235.29h1.4M272.9 235.29h1.4M290.5 235.29h1.4M293.2 235.29h1.4M301.4 235.29h1.4M320.4 235.29h1.4M342.1 235.29h1.4M366.5 235.29h1.4"/>
<path stroke="#c8d0f0" d="M405.8 202.73h1.4M465.5 202.73h1.4M377.3 206.80h1.4M464.1 206.80h1.4M388.2 210.88h1.4M409.9 210.88h1.4M413.9 210.88h1.4M373.2 214.94h1.4M384.1 214.94h1.4M370.5 219.01h1.4M413.9 219.01h1.4M437.0 219.01h1.4M460.0 219.01h1.4M243.1 223.08h1.4M346.1 223.08h1.4M301.4 227.16h1.4M323.1 231.22h1.4M245.8 235.29h1.4"/>
<path stroke="#c8d0e8" d="M423.4 202.73h1.4M449.2 202.73h1.4M451.9 202.73h1.4M468.2 202.73h1.4M473.6 202.73h1.4M347.5 206.80h1.4M367.8 206.80h1.4M376.0 206.80h1.4M399.0 206.80h1.4M403.1 206.80h1.4M420.7 206.80h1.4M434.3 206.80h1.4M439.7 206.80h2.7M389.5 210.88h1.4M396.3 210.88h1.4M412.6 210.88h1.4M476.3 214.94h1.4M385.4 219.01h1.4M409.9 219.01h1.4M427.5 219.01h1.4M435.6 219.01h1.4M445.1 219.01h1.4M453.3 219.01h1.4M469.5 219.01h1.4M477.7 219.01h1.4M484.4 219.01h1.4M263.4 223.08h1.4M270.2 223.08h1.4M274.2 223.08h2.7M278.3 223.08h1.4M298.7 223.08h1.4M255.3 227.16h1.4M304.1 227.16h1.4M316.3 227.16h1.4M327.1 227.16h1.4M312.2 231.22h1.4M335.3 231.22h1.4M264.8 235.29h1.4M281.0 235.29h2.7M297.3 235.29h2.7M310.9 235.29h1.4M328.5 235.29h1.4M339.3 235.29h1.4M350.2 235.29h1.4"/>
<path stroke="#d0d0f0" d="M430.2 202.73h1.4M435.6 206.80h1.4M367.8 210.88h1.4M374.6 214.94h1.4M407.1 214.94h1.4M432.9 214.94h1.4M442.4 219.01h1.4M458.7 219.01h1.4M249.8 223.08h1.4M258.0 227.16h1.4M271.5 227.16h1.4M336.6 235.29h1.4M362.4 235.29h1.4"/>
<path stroke="#b8c8e8" d="M431.6 202.73h1.4M434.3 202.73h1.4M438.3 202.73h1.4M457.3 202.73h1.4M422.1 206.80h1.4M373.2 210.88h1.4M401.7 210.88h1.4M439.7 210.88h1.4M405.8 214.94h1.4M430.2 214.94h1.4M449.2 214.94h1.4M369.2 219.01h1.4M388.2 219.01h1.4M403.1 219.01h1.4M439.7 219.01h1.4M447.8 219.01h1.4M362.4 223.08h1.4M260.7 227.16h1.4M313.6 227.16h1.4M295.9 231.22h1.4M333.9 231.22h1.4M304.1 235.29h1.4M363.8 235.29h1.4"/>
<path stroke="#b8c0e8" d="M454.6 202.73h1.4M381.4 206.80h1.4M404.4 206.80h1.4M449.2 206.80h1.4M451.9 206.80h1.4M468.2 206.80h1.4M477.7 206.80h1.4M385.4 210.88h1.4M397.7 210.88h1.4M415.3 210.88h1.4M424.8 210.88h1.4M468.2 210.88h1.4M476.3 210.88h1.4M481.7 210.88h1.4M413.9 214.94h1.4M424.8 214.94h1.4M439.7 214.94h1.4M462.7 214.94h1.4M481.7 214.94h1.4M400.4 219.01h1.4M422.1 219.01h1.4M446.5 219.01h1.4M449.2 219.01h1.4M473.6 219.01h1.4M479.0 219.01h1.4M252.5 223.08h1.4M285.1 223.08h1.4M324.4 223.08h2.7M350.2 223.08h2.7M259.3 227.16h1.4M264.8 227.16h1.4M287.8 227.16h1.4M294.6 227.16h1.4M308.1 227.16h1.4M329.8 227.16h1.4M243.1 235.29h1.4M256.6 235.29h1.4M260.7 235.29h1.4M359.7 235.29h1.4"/>
<path stroke="#b0b8e0" d="M456.0 202.73h1.4M484.4 202.73h1.4M419.4 206.80h1.4M472.2 206.80h1.4M484.4 206.80h1.4M430.2 210.88h1.4M450.5 219.01h1.4M480.4 219.01h1.4M304.1 223.08h1.4M314.9 223.08h1.4M297.3 227.16h1.4M314.9 231.22h1.4M319.0 231.22h1.4"/>
<path stroke="#e09898" d="M241.7 206.80h1.4M286.5 206.80h1.4M294.6 206.80h1.4M340.7 206.80h1.4M358.3 206.80h1.4M243.1 210.88h1.4M348.8 210.88h1.4M248.5 214.94h1.4M285.1 219.01h1.4M289.2 219.01h1.4M302.7 219.01h1.4M348.8 219.01h1.4M419.4 223.08h1.4M431.6 223.08h1.4M438.3 223.08h1.4M370.5 227.16h1.4M400.4 227.16h1.4M439.7 227.16h1.4M446.5 227.16h1.4M450.5 227.16h1.4M472.2 227.16h1.4M419.4 231.22h1.4M472.2 235.29h1.4"/>
<path stroke="#e8a8a8" d="M243.1 206.80h2.7M270.2 206.80h1.4M295.9 206.80h1.4M301.4 206.80h1.4M342.1 206.80h1.4M293.2 210.88h1.4M325.8 210.88h1.4M335.3 210.88h1.4M338.0 210.88h2.7M357.0 210.88h1.4M263.4 214.94h1.4M323.1 214.94h1.4M327.1 214.94h1.4M329.8 214.94h1.4M348.8 214.94h1.4M249.8 219.01h1.4M286.5 219.01h1.4M305.4 219.01h1.4M359.7 219.01h2.7M363.8 219.01h1.4M373.2 223.08h1.4M392.2 223.08h1.4M401.7 223.08h1.4M416.6 223.08h1.4M427.5 223.08h1.4M439.7 223.08h1.4M382.7 227.16h1.4M422.1 227.16h1.4M453.3 227.16h1.4M458.7 227.16h1.4M469.5 227.16h2.7M473.6 227.16h1.4M376.0 231.22h1.4M435.6 231.22h1.4M470.9 231.22h1.4M483.1 231.22h1.4M411.2 235.29h1.4M447.8 235.29h1.4"/>
<path stroke="#f0c0c0" d="M245.8 206.80h1.4M278.3 206.80h1.4M282.4 206.80h1.4M320.4 206.80h1.4M325.8 206.80h1.4M343.4 206.80h1.4M357.0 206.80h1.4M248.5 210.88h2.7M287.8 210.88h1.4M304.1 210.88h1.4M320.4 210.88h1.4M324.4 210.88h1.4M344.8 210.88h1.4M241.7 214.94h1.4M244.4 214.94h1.4M247.1 214.94h1.4M255.3 214.94h1.4M274.2 214.94h1.4M289.2 214.94h1.4M319.0 214.94h1.4M352.9 214.94h1.4M251.2 219.01h1.4M253.9 219.01h1.4M290.5 219.01h1.4M295.9 219.01h2.7M316.3 219.01h1.4M335.3 219.01h2.7M344.8 219.01h2.7M365.1 219.01h2.7M380.0 223.08h1.4M426.1 223.08h1.4M437.0 223.08h1.4M445.1 223.08h1.4M369.2 227.16h1.4M403.1 227.16h1.4M411.2 227.16h1.4M418.0 227.16h1.4M424.8 227.16h1.4M428.8 227.16h1.4M432.9 227.16h1.4M435.6 227.16h1.4M464.1 227.16h1.4M370.5 231.22h1.4M384.1 231.22h1.4M386.8 231.22h1.4M412.6 231.22h1.4M416.6 231.22h1.4M451.9 231.22h1.4M458.7 231.22h1.4M377.3 235.29h1.4M384.1 235.29h1.4M388.2 235.29h2.7M394.9 235.29h1.4M400.4 235.29h1.4M426.1 235.29h1.4M449.2 235.29h2.7M476.3 235.29h1.4M483.1 235.29h1.4"/>
<path stroke="#e8b8b8" d="M247.1 206.80h2.7M267.5 206.80h1.4M274.2 206.80h1.4M277.0 206.80h1.4M297.3 206.80h1.4M319.0 206.80h1.4M331.2 206.80h1.4M355.6 206.80h1.4M279.7 210.88h1.4M298.7 210.88h1.4M302.7 210.88h1.4M323.1 210.88h1.4M327.1 210.88h1.4M329.8 210.88h1.4M342.1 210.88h1.4M249.8 214.94h1.4M253.9 214.94h1.4M256.6 214.94h1.4M275.6 214.94h1.4M300.0 214.94h1.4M305.4 214.94h1.4M321.7 214.94h1.4M325.8 214.94h1.4M244.4 219.01h2.7M262.0 219.01h1.4M270.2 219.01h1.4M282.4 219.01h2.7M291.9 219.01h1.4M294.6 219.01h1.4M300.0 219.01h1.4M319.0 219.01h1.4M325.8 219.01h1.4M347.5 219.01h1.4M350.2 219.01h1.4M367.8 223.08h2.7M371.9 223.08h1.4M409.9 223.08h1.4M415.3 223.08h1.4M424.8 223.08h1.4M430.2 223.08h1.4M454.6 223.08h1.4M378.7 227.16h1.4M381.4 227.16h1.4M390.9 227.16h1.4M397.7 227.16h1.4M445.1 227.16h1.4M369.2 231.22h1.4M374.6 231.22h1.4M378.7 231.22h1.4M461.4 231.22h1.4M465.5 231.22h2.7M477.7 231.22h1.4M484.4 231.22h1.4M378.7 235.29h1.4M386.8 235.29h1.4M397.7 235.29h1.4M408.5 235.29h1.4M418.0 235.29h1.4M435.6 235.29h1.4M438.3 235.29h1.4M441.0 235.29h1.4M477.7 235.29h1.4"/>
<path stroke="#e8a0a0" d="M268.8 206.80h1.4M361.0 206.80h1.4M285.1 210.88h2.7M352.9 210.88h1.4M362.4 210.88h1.4M262.0 214.94h1.4M301.4 214.94h2.7M327.1 219.01h1.4M333.9 219.01h1.4M362.4 219.01h1.4M374.6 223.08h1.4M384.1 223.08h1.4M390.9 223.08h1.4M405.8 223.08h1.4M409.9 227.16h1.4M415.3 227.16h1.4M442.4 227.16h1.4M373.2 231.22h1.4M409.9 231.22h1.4M403.1 235.29h1.4M405.8 235.29h1.4M434.3 235.29h1.4"/>
<path stroke="#c04848" d="M298.7 206.80h1.4M305.4 206.80h1.4M465.5 223.08h1.4M451.9 227.16h1.4"/>
<path stroke="#f0d8d0" d="M328.5 206.80h1.4M312.2 210.88h1.4M260.7 214.94h1.4M279.7 214.94h1.4M291.9 214.94h1.4M344.8 214.94h1.4M271.5 219.01h1.4M281.0 219.01h1.4M304.1 219.01h1.4M428.8 223.08h1.4M400.4 231.22h1.4M393.6 235.29h1.4M479.0 235.29h1.4"/>
<path stroke="#e0a0a0" d="M363.8 206.80h1.4M241.7 210.88h1.4M305.4 210.88h1.4M358.3 210.88h1.4M423.4 223.08h1.4M438.3 227.16h1.4M399.0 235.29h1.4"/>
<path stroke="#88a0d8" d="M405.8 206.80h1.4M457.3 206.80h1.4M438.3 210.88h1.4M373.2 219.01h1.4M451.9 219.01h1.4M300.0 223.08h2.7M305.4 223.08h1.4M319.0 223.08h1.4M282.4 227.16h2.7M272.9 231.22h1.4M350.2 231.22h2.7M366.5 231.22h1.4M325.8 235.29h1.4"/>
<path stroke="#8898d8" d="M409.9 206.80h1.4M252.5 227.16h1.4"/>
<path stroke="#a8b0e0" d="M413.9 206.80h1.4M420.7 210.88h1.4M427.5 214.94h1.4M468.2 219.01h1.4M270.2 227.16h1.4M306.8 231.22h1.4"/>
<path stroke="#7890d0" d="M454.6 206.80h1.4M380.0 210.88h1.4M389.5 219.01h1.4M359.7 223.08h1.4M247.1 231.22h1.4M241.7 235.29h1.4M277.0 235.29h1.4M302.7 235.29h1.4"/>
<path stroke="#5070b8" d="M456.0 206.80h1.4M376.0 210.88h1.4M277.0 227.16h1.4M305.4 227.16h1.4M248.5 231.22h1.4M271.5 231.22h1.4M298.7 231.22h1.4M275.6 235.29h1.4M305.4 235.29h1.4"/>
<path stroke="#98a8d8" d="M465.5 206.80h1.4M378.7 210.88h1.4M355.6 223.08h1.4M247.1 227.16h1.4M274.2 227.16h1.4M249.8 231.22h1.4M347.5 235.29h1.4"/>
<path stroke="#b0b8e8" d="M473.6 206.80h1.4M451.9 210.88h1.4M475.0 210.88h1.4M412.6 214.94h1.4M374.6 219.01h1.4M244.4 227.16h1.4M281.0 227.16h1.4M241.7 231.22h1.4M355.6 235.29h1.4"/>
<path stroke="#d87070" d="M331.2 210.88h1.4M361.0 210.88h1.4M333.9 214.94h1.4M385.4 223.08h1.4M412.6 223.08h2.7M422.1 223.08h1.4M434.3 223.08h1.4M469.5 223.08h1.4M389.5 227.16h1.4M413.9 227.16h1.4M416.6 227.16h1.4M389.5 231.22h1.4M446.5 231.22h1.4M469.5 231.22h1.4M380.0 235.29h1.4M409.9 235.29h1.4"/>
<path stroke="#d05858" d="M333.9 210.88h1.4"/>
<path stroke="#a0b0e0" d="M374.6 210.88h1.4M403.1 210.88h1.4M446.5 210.88h1.4M457.3 210.88h1.4M426.1 214.94h1.4M479.0 214.94h1.4M367.8 219.01h1.4M401.7 219.01h1.4M461.4 219.01h1.4M472.2 219.01h1.4M306.8 223.08h2.7M310.9 223.08h1.4M329.8 223.08h1.4M338.0 223.08h2.7M347.5 223.08h1.4M331.2 227.16h1.4M365.1 227.16h1.4M313.6 231.22h1.4M262.0 235.29h1.4M287.8 235.29h1.4"/>
<path stroke="#8098d0" d="M377.3 210.88h1.4M381.4 210.88h1.4M449.2 210.88h1.4M480.4 210.88h1.4M483.1 210.88h1.4M484.4 214.94h1.4M304.1 231.22h1.4M308.1 231.22h1.4M344.8 231.22h1.4M355.6 231.22h1.4M285.1 235.29h1.4M294.6 235.29h1.4"/>
<path stroke="#98a8e0" d="M382.7 210.88h1.4M376.0 214.94h1.4M416.6 214.94h1.4M483.1 214.94h1.4M382.7 219.01h1.4M335.3 223.08h1.4M241.7 227.16h1.4M256.6 231.22h1.4M260.7 231.22h1.4M310.9 231.22h1.4M347.5 231.22h1.4M332.6 235.29h1.4"/>
<path stroke="#6888c8" d="M399.0 210.88h1.4M332.6 223.08h1.4"/>
<path stroke="#90a8d8" d="M447.8 210.88h1.4M480.4 214.94h1.4M386.8 219.01h1.4M483.1 219.01h1.4M333.9 223.08h1.4M258.0 231.22h1.4"/>
<path stroke="#7088c8" d="M456.0 210.88h1.4M302.7 223.08h1.4M321.7 223.08h2.7M243.1 227.16h1.4M279.7 227.16h1.4M285.1 227.16h1.4M277.0 231.22h1.4M281.0 231.22h1.4M278.3 235.29h2.7"/>
<path stroke="#90a0d8" d="M473.6 210.88h1.4M419.4 214.94h1.4M438.3 219.01h1.4M331.2 223.08h1.4M348.8 223.08h1.4M361.0 223.08h1.4M363.8 223.08h2.7M286.5 227.16h1.4M252.5 231.22h1.4M343.4 235.29h1.4M346.1 235.29h1.4"/>
<path stroke="#8898d0" d="M477.7 210.88h1.4M415.3 214.94h1.4M316.3 231.22h1.4M259.3 235.29h1.4"/>
<path stroke="#5878c0" d="M479.0 210.88h1.4M248.5 227.16h1.4M278.3 227.16h1.4M259.3 231.22h1.4M263.4 231.22h1.4M278.3 231.22h1.4M348.8 231.22h1.4M335.3 235.29h1.4"/>
<path stroke="#f0c0b8" d="M270.2 214.94h1.4M449.2 223.08h1.4"/>
<path stroke="#8090d0" d="M389.5 214.94h1.4"/>
<path stroke="#98b0e0" d="M283.7 223.08h1.4M309.5 231.22h1.4"/>
<path stroke="#6080c0" d="M316.3 223.08h1.4M366.5 227.16h1.4M274.2 231.22h1.4M344.8 235.29h1.4"/>
<path stroke="#3058a0" d="M317.6 223.08h1.4M243.1 231.22h1.4"/>
<path stroke="#6078c0" d="M320.4 223.08h1.4M244.4 231.22h1.4M286.5 235.29h1.4"/>
<path stroke="#982828" d="M376.0 223.08h1.4M473.6 223.08h1.4"/>
<path stroke="#d06868" d="M389.5 223.08h1.4M385.4 227.16h1.4M447.8 227.16h1.4"/>
<path stroke="#481010" d="M456.0 223.08h1.4M461.4 223.08h1.4M483.1 223.08h2.7"/>
<path stroke="#581010" d="M457.3 223.08h1.4"/>
<path stroke="#902020" d="M458.7 223.08h1.4"/>
<path stroke="#701818" d="M460.0 223.08h1.4M462.7 223.08h1.4"/>
<path stroke="#a02828" d="M464.1 223.08h1.4M481.7 223.08h1.4"/>
<path stroke="#b84040" d="M470.9 223.08h1.4M476.3 223.08h1.4"/>
<path stroke="#b04040" d="M475.0 223.08h1.4"/>
<path stroke="#882020" d="M477.7 223.08h1.4"/>
<path stroke="#601818" d="M479.0 223.08h1.4"/>
<path stroke="#501010" d="M480.4 223.08h1.4"/>
<path stroke="#7090c8" d="M249.8 227.16h1.4"/>
<path stroke="#7890c8" d="M251.2 227.16h1.4"/>
<path stroke="#6880c8" d="M262.0 227.16h1.4M290.5 231.22h1.4M300.0 231.22h1.4M348.8 235.29h1.4"/>
<path stroke="#4060a8" d="M275.6 227.16h1.4M245.8 231.22h1.4M282.4 231.22h1.4M302.7 231.22h1.4"/>
<path stroke="#d88888" d="M427.5 227.16h1.4"/>
<path stroke="#3860a8" d="M262.0 231.22h1.4M283.7 231.22h1.4"/>
<path stroke="#184078" d="M264.8 231.22h1.4"/>
<path stroke="#285098" d="M266.1 231.22h1.4M286.5 231.22h1.4"/>
<path stroke="#3858a0" d="M267.5 231.22h1.4M279.7 231.22h1.4M305.4 231.22h1.4"/>
<path stroke="#184080" d="M268.8 231.22h1.4"/>
<path stroke="#082860" d="M270.2 231.22h1.4"/>
<path stroke="#4068b0" d="M275.6 231.22h1.4M291.9 231.22h1.4M317.6 231.22h1.4"/>
<path stroke="#204890" d="M285.1 231.22h1.4M289.2 231.22h1.4"/>
<path stroke="#3860a0" d="M287.8 231.22h1.4M333.9 235.29h1.4"/>
<path stroke="#5870b8" d="M301.4 231.22h1.4"/>
<path stroke="#c85050" d="M422.1 235.29h1.4"/>
</g>
<rect x="234.1" y="200.70" width="5.8" height="20.35" fill="#bf6912"/>
<rect x="234.1" y="221.05" width="5.8" height="16.28" fill="#68b232"/>
<path d="M234.10 214.94H231.80V219.01H234.10M234.10 210.88H230.50V216.98H231.80M234.10 206.80H229.50V213.93H230.50M234.10 202.73H227.30V210.37H229.50M234.10 231.22H230.50V235.29H234.10M234.10 227.16H228.50V233.26H230.50M234.10 223.08H226.40V230.21H228.50M227.30 206.55H217.40V226.65H226.40" stroke="#444" stroke-width="0.7" fill="none"/>
<text x="214.00" y="219.80" font-size="7.5" text-anchor="end" textLength="15.0" lengthAdjust="spacingAndGlyphs" fill="#222" stroke="#222" stroke-width="0.2">ProE</text>
<g stroke-width="4.07" filter="url(#bl)">
<path stroke="#e8b8b8" d="M241.7 252.63h1.4M282.4 252.63h1.4M294.6 252.63h1.4M348.8 252.63h1.4M245.8 256.70h1.4M332.6 256.70h2.7M359.7 256.70h1.4M245.8 260.77h1.4M274.2 260.77h1.4M263.4 264.84h2.7M267.5 264.84h1.4M275.6 264.84h2.7M287.8 264.84h1.4M297.3 264.84h1.4M332.6 264.84h1.4M428.8 268.92h1.4M434.3 268.92h2.7M449.2 268.92h1.4M380.0 272.99h1.4M411.2 272.99h1.4M413.9 272.99h2.7M419.4 272.99h1.4M424.8 272.99h1.4M438.3 272.99h1.4M441.0 272.99h1.4M450.5 272.99h1.4M456.0 272.99h1.4M465.5 272.99h1.4M385.4 277.06h1.4M392.2 277.06h1.4M408.5 277.06h1.4M411.2 277.06h1.4M416.6 277.06h1.4M420.7 277.06h1.4M470.9 277.06h1.4M366.5 281.12h1.4M369.2 281.12h1.4M371.9 281.12h1.4M382.7 281.12h2.7M390.9 281.12h1.4M405.8 281.12h2.7M462.7 281.12h1.4M481.7 281.12h1.4"/>
<path stroke="#b04040" d="M243.1 252.63h1.4M367.8 268.92h1.4M423.4 268.92h1.4"/>
<path stroke="#481010" d="M244.4 252.63h4.1M252.5 252.63h1.4M260.7 252.63h2.7M327.1 252.63h1.4M373.2 268.92h2.7M404.4 268.92h1.4M424.8 268.92h1.4"/>
<path stroke="#601818" d="M248.5 252.63h1.4"/>
<path stroke="#a83030" d="M249.8 252.63h1.4M263.4 252.63h1.4M268.8 252.63h1.4M392.2 268.92h1.4"/>
<path stroke="#b03838" d="M251.2 252.63h1.4M266.1 252.63h1.4M278.3 252.63h1.4M324.4 252.63h2.7M365.1 268.92h1.4M371.9 268.92h1.4M376.0 268.92h1.4M381.4 268.92h4.1M388.2 268.92h1.4M390.9 268.92h1.4M401.7 268.92h1.4"/>
<path stroke="#a02828" d="M253.9 252.63h1.4M258.0 252.63h1.4M393.6 268.92h1.4M400.4 268.92h1.4"/>
<path stroke="#782020" d="M255.3 252.63h1.4M403.1 268.92h1.4"/>
<path stroke="#902020" d="M256.6 252.63h1.4"/>
<path stroke="#781818" d="M259.3 252.63h1.4"/>
<path stroke="#882020" d="M264.8 252.63h1.4M267.5 252.63h1.4M380.0 268.92h1.4"/>
<path stroke="#902828" d="M270.2 252.63h1.4"/>
<path stroke="#c85858" d="M271.5 252.63h1.4M346.1 252.63h1.4M255.3 256.70h1.4M331.2 256.70h1.4M386.8 268.92h1.4M397.7 268.92h1.4M466.8 268.92h1.4M413.9 277.06h1.4"/>
<path stroke="#d87070" d="M272.9 252.63h1.4M302.7 252.63h1.4M317.6 252.63h1.4M279.7 256.70h1.4M370.5 268.92h1.4M416.6 268.92h1.4M443.8 268.92h1.4M389.5 272.99h1.4M426.1 277.06h1.4M428.8 277.06h1.4M424.8 281.12h1.4M451.9 281.12h1.4"/>
<path stroke="#d06868" d="M274.2 252.63h1.4M293.2 252.63h1.4M320.4 252.63h1.4M340.7 252.63h1.4M343.4 256.70h1.4M396.3 268.92h1.4M413.9 268.92h1.4M461.4 268.92h1.4M431.6 277.06h1.4M419.4 281.12h1.4"/>
<path stroke="#c05050" d="M275.6 252.63h1.4M314.9 252.63h1.4M336.6 252.63h1.4M385.4 268.92h1.4M451.9 268.92h1.4M424.8 277.06h1.4"/>
<path stroke="#982828" d="M277.0 252.63h1.4M366.5 268.92h1.4M407.1 268.92h1.4"/>
<path stroke="#c04848" d="M279.7 252.63h1.4M343.4 252.63h2.7M422.1 281.12h1.4"/>
<path stroke="#e8a0a0" d="M281.0 252.63h1.4M300.0 252.63h1.4M306.8 252.63h1.4M309.5 252.63h1.4M342.1 252.63h1.4M281.0 256.70h1.4M309.5 256.70h1.4M327.1 256.70h1.4M340.7 256.70h1.4M352.9 256.70h1.4M270.2 260.77h1.4M335.3 260.77h1.4M359.7 260.77h1.4M301.4 264.84h1.4M477.7 268.92h1.4M371.9 272.99h1.4M385.4 272.99h1.4M392.2 272.99h1.4M371.9 277.06h1.4"/>
<path stroke="#e8b0b0" d="M283.7 252.63h1.4M297.3 252.63h1.4M308.1 252.63h1.4M243.1 256.70h1.4M255.3 260.77h1.4M271.5 260.77h1.4M275.6 260.77h1.4M291.9 260.77h1.4M302.7 260.77h1.4M313.6 260.77h1.4M300.0 264.84h1.4M335.3 264.84h1.4M350.2 264.84h1.4M409.9 268.92h1.4M412.6 268.92h1.4M431.6 268.92h1.4M445.1 268.92h1.4M465.5 268.92h1.4M483.1 268.92h1.4M382.7 272.99h2.7M386.8 272.99h1.4M393.6 272.99h1.4M423.4 272.99h1.4M437.0 272.99h1.4M453.3 272.99h1.4M468.2 272.99h1.4M470.9 272.99h1.4M381.4 277.06h1.4M384.1 277.06h1.4M393.6 277.06h1.4M432.9 277.06h1.4M451.9 277.06h2.7M476.3 277.06h1.4M365.1 281.12h1.4M392.2 281.12h1.4M409.9 281.12h1.4M443.8 281.12h1.4M446.5 281.12h1.4M465.5 281.12h1.4"/>
<path stroke="#f0e0e0" d="M285.1 252.63h1.4M411.2 252.63h1.4M282.4 256.70h2.7M294.6 256.70h1.4M325.8 256.70h1.4M357.0 256.70h1.4M362.4 256.70h1.4M258.0 260.77h1.4M262.0 260.77h2.7M281.0 260.77h1.4M286.5 260.77h1.4M320.4 260.77h2.7M325.8 260.77h1.4M342.1 260.77h1.4M249.8 264.84h1.4M260.7 264.84h2.7M294.6 264.84h1.4M310.9 264.84h2.7M329.8 264.84h1.4M357.0 264.84h1.4M359.7 264.84h1.4M393.6 264.84h1.4M361.0 268.92h1.4M426.1 272.99h1.4M434.3 272.99h1.4M461.4 272.99h1.4M348.8 277.06h1.4M362.4 277.06h1.4M378.7 277.06h1.4M396.3 277.06h1.4M437.0 277.06h1.4M446.5 277.06h1.4M363.8 281.12h1.4M377.3 281.12h1.4M380.0 281.12h1.4M394.9 281.12h1.4M460.0 281.12h1.4M473.6 281.12h1.4M483.1 281.12h1.4"/>
<path stroke="#e09898" d="M286.5 252.63h1.4M301.4 252.63h1.4M304.1 252.63h1.4M328.5 252.63h1.4M350.2 252.63h1.4M253.9 256.70h1.4M268.8 256.70h1.4M278.3 256.70h1.4M300.0 256.70h1.4M313.6 256.70h1.4M333.9 260.77h1.4M255.3 264.84h2.7M270.2 264.84h1.4M286.5 264.84h1.4M331.2 264.84h1.4M333.9 264.84h1.4M408.5 268.92h1.4M419.4 268.92h1.4M426.1 268.92h1.4M454.6 268.92h1.4M430.2 277.06h1.4M443.8 277.06h1.4M413.9 281.12h1.4M426.1 281.12h2.7"/>
<path stroke="#e8a8a8" d="M287.8 252.63h1.4M298.7 252.63h1.4M305.4 252.63h1.4M335.3 252.63h1.4M357.0 252.63h1.4M259.3 256.70h1.4M266.1 256.70h1.4M344.8 256.70h1.4M277.0 260.77h1.4M358.3 260.77h1.4M258.0 264.84h1.4M268.8 264.84h1.4M291.9 264.84h1.4M411.2 268.92h1.4M415.3 268.92h1.4M427.5 268.92h1.4M472.2 268.92h1.4M409.9 277.06h1.4M415.3 277.06h1.4M458.7 277.06h1.4M399.0 281.12h1.4M401.7 281.12h1.4M412.6 281.12h1.4M461.4 281.12h1.4M466.8 281.12h1.4M476.3 281.12h1.4"/>
<path stroke="#e09090" d="M289.2 252.63h1.4M301.4 256.70h1.4M268.8 260.77h1.4M323.1 264.84h1.4M416.6 272.99h1.4M445.1 272.99h1.4M373.2 277.06h1.4M382.7 277.06h1.4M423.4 277.06h1.4M418.0 281.12h1.4M431.6 281.12h1.4M445.1 281.12h1.4M450.5 281.12h1.4M468.2 281.12h1.4"/>
<path stroke="#f0c8c8" d="M290.5 252.63h1.4M358.3 252.63h1.4M248.5 256.70h1.4M291.9 256.70h1.4M317.6 256.70h1.4M328.5 256.70h1.4M346.1 256.70h1.4M361.0 256.70h1.4M248.5 260.77h1.4M264.8 260.77h2.7M278.3 260.77h2.7M316.3 260.77h2.7M328.5 260.77h1.4M339.3 260.77h2.7M243.1 264.84h1.4M252.5 264.84h1.4M259.3 264.84h1.4M272.9 264.84h1.4M281.0 264.84h1.4M290.5 264.84h1.4M298.7 264.84h1.4M309.5 264.84h1.4M343.4 264.84h2.7M347.5 264.84h1.4M457.3 268.92h1.4M475.0 268.92h1.4M481.7 268.92h1.4M367.8 272.99h1.4M370.5 272.99h1.4M403.1 272.99h1.4M409.9 272.99h1.4M418.0 272.99h1.4M439.7 272.99h1.4M447.8 272.99h1.4M457.3 272.99h2.7M464.1 272.99h1.4M388.2 277.06h1.4M407.1 277.06h1.4M419.4 277.06h1.4M456.0 277.06h1.4M468.2 277.06h1.4M357.0 281.12h1.4M370.5 281.12h1.4M373.2 281.12h1.4M381.4 281.12h1.4M385.4 281.12h1.4M396.3 281.12h2.7M437.0 281.12h2.7"/>
<path stroke="#d88080" d="M291.9 252.63h1.4M331.2 252.63h1.4M264.8 256.70h1.4M270.2 256.70h1.4M298.7 256.70h1.4M308.1 256.70h1.4M456.0 268.92h1.4M476.3 268.92h1.4M369.2 272.99h1.4M443.8 272.99h1.4M451.9 272.99h1.4"/>
<path stroke="#e08888" d="M295.9 252.63h1.4M263.4 256.70h1.4M316.3 256.70h1.4M243.1 260.77h1.4M331.2 260.77h1.4M327.1 264.84h1.4M432.9 268.92h1.4M462.7 268.92h1.4M469.5 268.92h1.4M388.2 272.99h1.4M420.7 272.99h1.4M442.4 272.99h1.4M466.8 272.99h1.4M400.4 281.12h1.4M428.8 281.12h1.4M432.9 281.12h1.4"/>
<path stroke="#d06060" d="M310.9 252.63h1.4M313.6 252.63h1.4M319.0 252.63h1.4M321.7 252.63h1.4M304.1 256.70h1.4M363.8 268.92h1.4M378.7 268.92h1.4M394.9 268.92h1.4M458.7 268.92h2.7M390.9 272.99h1.4M412.6 277.06h1.4M427.5 277.06h1.4M430.2 281.12h1.4"/>
<path stroke="#b84040" d="M312.2 252.63h1.4M377.3 268.92h1.4M405.8 268.92h1.4"/>
<path stroke="#d87878" d="M316.3 252.63h1.4M244.4 256.70h1.4M260.7 256.70h1.4M302.7 256.70h1.4M420.7 268.92h1.4M470.9 268.92h1.4M416.6 281.12h1.4"/>
<path stroke="#701818" d="M323.1 252.63h1.4"/>
<path stroke="#f0d0d0" d="M329.8 252.63h1.4M352.9 252.63h4.1M287.8 256.70h2.7M293.2 256.70h1.4M297.3 256.70h1.4M312.2 256.70h1.4M335.3 256.70h2.7M350.2 256.70h1.4M247.1 260.77h1.4M256.6 260.77h1.4M267.5 260.77h1.4M272.9 260.77h1.4M300.0 260.77h1.4M314.9 260.77h1.4M329.8 260.77h1.4M338.0 260.77h1.4M343.4 260.77h1.4M355.6 260.77h1.4M361.0 260.77h1.4M278.3 264.84h1.4M285.1 264.84h1.4M302.7 264.84h1.4M317.6 264.84h1.4M320.4 264.84h1.4M336.6 264.84h1.4M352.9 264.84h1.4M358.3 264.84h1.4M418.0 268.92h1.4M438.3 268.92h1.4M446.5 268.92h2.7M464.1 268.92h1.4M366.5 272.99h1.4M373.2 272.99h1.4M397.7 272.99h1.4M412.6 272.99h1.4M473.6 272.99h2.7M481.7 272.99h1.4M367.8 277.06h1.4M376.0 277.06h1.4M380.0 277.06h1.4M389.5 277.06h1.4M400.4 277.06h1.4M418.0 277.06h1.4M434.3 277.06h1.4M438.3 277.06h1.4M445.1 277.06h1.4M447.8 277.06h1.4M460.0 277.06h1.4M469.5 277.06h1.4M473.6 277.06h2.7M393.6 281.12h1.4M411.2 281.12h1.4M435.6 281.12h1.4M447.8 281.12h2.7M472.2 281.12h1.4"/>
<path stroke="#f0c0c0" d="M332.6 252.63h1.4M339.3 252.63h1.4M351.5 252.63h1.4M247.1 256.70h1.4M252.5 256.70h1.4M256.6 256.70h1.4M267.5 256.70h1.4M329.8 256.70h1.4M339.3 256.70h1.4M342.1 256.70h1.4M241.7 260.77h1.4M252.5 260.77h2.7M289.2 260.77h2.7M293.2 260.77h1.4M301.4 260.77h1.4M304.1 260.77h1.4M327.1 260.77h1.4M332.6 260.77h1.4M357.0 260.77h1.4M244.4 264.84h1.4M253.9 264.84h1.4M266.1 264.84h1.4M274.2 264.84h1.4M279.7 264.84h1.4M289.2 264.84h1.4M321.7 264.84h1.4M324.4 264.84h2.7M346.1 264.84h1.4M351.5 264.84h1.4M354.3 264.84h2.7M430.2 268.92h1.4M442.4 268.92h1.4M450.5 268.92h1.4M394.9 272.99h2.7M399.0 272.99h1.4M446.5 272.99h1.4M449.2 272.99h1.4M462.7 272.99h1.4M469.5 272.99h1.4M369.2 277.06h1.4M374.6 277.06h1.4M394.9 277.06h1.4M449.2 277.06h1.4M466.8 277.06h1.4M481.7 277.06h4.1M389.5 281.12h1.4M403.1 281.12h1.4M408.5 281.12h1.4M434.3 281.12h1.4M439.7 281.12h4.1M453.3 281.12h1.4M469.5 281.12h2.7"/>
<path stroke="#e0a0a0" d="M333.9 252.63h1.4M338.0 252.63h1.4M314.9 256.70h1.4M422.1 277.06h1.4M404.4 281.12h1.4"/>
<path stroke="#e8b8b0" d="M347.5 252.63h1.4"/>
<path stroke="#d8d8f0" d="M359.7 252.63h1.4M389.5 252.63h1.4M418.0 252.63h1.4M428.8 252.63h1.4M363.8 256.70h1.4M393.6 256.70h1.4M408.5 256.70h2.7M446.5 256.70h2.7M450.5 256.70h1.4M469.5 256.70h1.4M282.4 260.77h1.4M378.7 260.77h1.4M401.7 260.77h1.4M430.2 260.77h1.4M458.7 260.77h1.4M367.8 264.84h1.4M385.4 264.84h1.4M431.6 264.84h1.4M454.6 264.84h1.4M351.5 268.92h1.4M354.3 268.92h1.4M358.3 268.92h1.4M251.2 272.99h1.4M300.0 272.99h1.4M352.9 272.99h1.4M358.3 272.99h1.4M316.3 277.06h1.4M328.5 277.06h1.4M357.0 277.06h1.4M271.5 281.12h1.4M293.2 281.12h1.4M317.6 281.12h1.4M320.4 281.12h1.4M325.8 281.12h1.4M339.3 281.12h1.4"/>
<path stroke="#e0e0f0" d="M361.0 252.63h1.4M426.1 252.63h1.4M272.9 256.70h1.4M413.9 256.70h1.4M426.1 256.70h2.7M431.6 256.70h1.4M445.1 256.70h1.4M481.7 256.70h1.4M308.1 260.77h1.4M439.7 260.77h1.4M442.4 260.77h1.4M457.3 260.77h1.4M470.9 260.77h1.4M386.8 264.84h1.4M403.1 264.84h1.4M408.5 264.84h1.4M430.2 264.84h1.4M435.6 264.84h1.4M445.1 264.84h2.7M469.5 264.84h1.4M473.6 264.84h1.4M309.5 268.92h1.4M324.4 268.92h1.4M255.3 272.99h1.4M277.0 272.99h1.4M309.5 272.99h1.4M329.8 272.99h1.4M335.3 272.99h1.4M359.7 272.99h1.4M362.4 272.99h1.4M477.7 272.99h2.7M251.2 277.06h1.4M259.3 277.06h1.4M272.9 277.06h1.4M298.7 277.06h1.4M312.2 277.06h1.4M319.0 277.06h1.4M324.4 277.06h1.4M241.7 281.12h1.4M249.8 281.12h1.4M258.0 281.12h2.7M262.0 281.12h1.4M264.8 281.12h1.4M274.2 281.12h1.4M281.0 281.12h1.4M305.4 281.12h1.4M310.9 281.12h1.4M457.3 281.12h2.7"/>
<path stroke="#e8e8f0" d="M362.4 252.63h1.4M409.9 252.63h1.4M274.2 256.70h1.4M323.1 256.70h1.4M458.7 256.70h1.4M464.1 256.70h1.4M483.1 256.70h2.7M283.7 260.77h1.4M309.5 260.77h1.4M324.4 260.77h1.4M354.3 260.77h1.4M377.3 260.77h1.4M420.7 260.77h1.4M431.6 260.77h1.4M473.6 260.77h1.4M340.7 264.84h1.4M365.1 264.84h1.4M384.1 264.84h1.4M389.5 264.84h1.4M392.2 264.84h1.4M394.9 264.84h1.4M409.9 264.84h1.4M426.1 264.84h1.4M450.5 264.84h1.4M456.0 264.84h1.4M461.4 264.84h1.4M470.9 264.84h1.4M359.7 268.92h1.4M241.7 272.99h1.4M248.5 272.99h1.4M253.9 272.99h1.4M275.6 272.99h1.4M285.1 272.99h1.4M247.1 277.06h1.4M249.8 277.06h1.4M313.6 277.06h1.4M325.8 277.06h1.4M365.1 277.06h1.4M243.1 281.12h2.7M282.4 281.12h1.4M286.5 281.12h1.4M304.1 281.12h1.4M312.2 281.12h1.4M319.0 281.12h1.4M321.7 281.12h2.7M329.8 281.12h1.4M344.8 281.12h1.4M351.5 281.12h1.4M361.0 281.12h1.4"/>
<path stroke="#a8b8e0" d="M363.8 252.63h2.7M386.8 252.63h1.4M423.4 252.63h1.4M366.5 256.70h1.4M385.4 256.70h1.4M404.4 256.70h1.4M432.9 256.70h1.4M472.2 256.70h1.4M367.8 260.77h1.4M390.9 260.77h1.4M420.7 264.84h1.4M263.4 268.92h1.4M290.5 268.92h1.4M302.7 272.99h1.4M321.7 272.99h2.7M348.8 272.99h2.7M255.3 277.06h1.4M287.8 277.06h1.4M291.9 277.06h1.4M333.9 281.12h1.4"/>
<path stroke="#98b0e0" d="M366.5 252.63h1.4M392.2 256.70h1.4M281.0 268.92h1.4M277.0 277.06h1.4"/>
<path stroke="#a0b0e0" d="M367.8 252.63h1.4M384.1 252.63h1.4M400.4 252.63h1.4M472.2 252.63h1.4M381.4 256.70h1.4M451.9 256.70h1.4M434.3 260.77h1.4M446.5 260.77h1.4M415.3 264.84h1.4M422.1 264.84h1.4M451.9 264.84h1.4M476.3 264.84h1.4M305.4 268.92h1.4M317.6 268.92h1.4M355.6 268.92h1.4M260.7 272.99h1.4M270.2 272.99h2.7M293.2 272.99h1.4M327.1 272.99h1.4M344.8 272.99h2.7M264.8 277.06h1.4"/>
<path stroke="#6880c8" d="M369.2 252.63h1.4M404.4 252.63h1.4M432.9 252.63h1.4M475.0 252.63h1.4M477.7 252.63h1.4M382.7 260.77h1.4M266.1 268.92h1.4"/>
<path stroke="#b8c0e8" d="M370.5 252.63h1.4M390.9 252.63h1.4M396.3 252.63h1.4M401.7 252.63h1.4M430.2 252.63h1.4M453.3 252.63h1.4M405.8 256.70h1.4M416.6 256.70h1.4M422.1 256.70h1.4M442.4 256.70h1.4M468.2 256.70h1.4M470.9 256.70h1.4M393.6 260.77h1.4M449.2 260.77h2.7M461.4 260.77h1.4M374.6 264.84h2.7M477.7 264.84h1.4M325.8 268.92h1.4M291.9 272.99h1.4M298.7 272.99h1.4M306.8 272.99h1.4M260.7 277.06h1.4M279.7 277.06h1.4M289.2 277.06h1.4M301.4 277.06h2.7M309.5 277.06h2.7M253.9 281.12h1.4M278.3 281.12h2.7M332.6 281.12h1.4"/>
<path stroke="#6080c8" d="M371.9 252.63h1.4M458.7 252.63h1.4M470.9 252.63h1.4M380.0 256.70h1.4"/>
<path stroke="#8098d0" d="M373.2 252.63h1.4M424.8 252.63h1.4M438.3 252.63h1.4M473.6 252.63h1.4M388.2 256.70h1.4M423.4 256.70h1.4M244.4 268.92h1.4M255.3 268.92h1.4M314.9 268.92h1.4"/>
<path stroke="#88a0d8" d="M374.6 252.63h1.4M393.6 252.63h1.4M439.7 252.63h1.4M400.4 256.70h1.4M413.9 260.77h2.7M274.2 268.92h1.4M295.9 268.92h1.4M328.5 268.92h1.4M266.1 277.06h1.4M278.3 277.06h1.4"/>
<path stroke="#98a8e0" d="M376.0 252.63h1.4M399.0 256.70h1.4M434.3 256.70h1.4M369.2 260.77h1.4M389.5 260.77h1.4M447.8 260.77h1.4M355.6 272.99h1.4M344.8 277.06h1.4M298.7 281.12h1.4"/>
<path stroke="#8898d8" d="M377.3 252.63h1.4M268.8 268.92h1.4M300.0 268.92h1.4"/>
<path stroke="#98a8d8" d="M378.7 252.63h1.4M394.9 252.63h1.4M415.3 252.63h1.4M390.9 256.70h1.4M453.3 256.70h1.4M473.6 256.70h1.4M346.1 268.92h1.4M270.2 277.06h1.4M327.1 277.06h1.4"/>
<path stroke="#082860" d="M380.0 252.63h1.4M343.4 268.92h1.4"/>
<path stroke="#6078c0" d="M381.4 252.63h2.7M399.0 252.63h1.4M451.9 252.63h1.4M465.5 252.63h1.4M252.5 268.92h1.4"/>
<path stroke="#c8d0f0" d="M385.4 252.63h1.4M420.7 256.70h1.4M430.2 256.70h1.4M443.8 256.70h1.4M396.3 260.77h1.4M423.4 260.77h1.4M426.1 260.77h1.4M443.8 260.77h1.4M457.3 264.84h1.4M484.4 264.84h1.4M333.9 272.99h1.4M243.1 277.06h1.4M252.5 277.06h1.4M293.2 277.06h1.4M335.3 281.12h1.4"/>
<path stroke="#c8d0e8" d="M388.2 252.63h1.4M408.5 252.63h1.4M365.1 256.70h1.4M373.2 256.70h2.7M407.1 256.70h1.4M415.3 256.70h1.4M435.6 256.70h1.4M462.7 256.70h1.4M465.5 256.70h1.4M394.9 260.77h1.4M397.7 260.77h1.4M403.1 260.77h1.4M438.3 260.77h1.4M465.5 260.77h1.4M469.5 260.77h1.4M476.3 260.77h1.4M481.7 260.77h1.4M369.2 264.84h1.4M419.4 264.84h1.4M443.8 264.84h1.4M480.4 264.84h1.4M248.5 268.92h1.4M294.6 268.92h1.4M319.0 268.92h1.4M262.0 272.99h1.4M264.8 272.99h1.4M295.9 272.99h2.7M308.1 272.99h1.4M324.4 272.99h1.4M245.8 277.06h1.4M248.5 277.06h1.4M271.5 277.06h1.4M274.2 277.06h1.4M283.7 277.06h1.4M314.9 277.06h1.4M333.9 277.06h1.4M297.3 281.12h1.4M338.0 281.12h1.4M340.7 281.12h1.4M343.4 281.12h1.4M347.5 281.12h1.4M354.3 281.12h1.4"/>
<path stroke="#90a0d8" d="M392.2 252.63h1.4M466.8 256.70h1.4M399.0 260.77h1.4M432.9 260.77h1.4M458.7 264.84h1.4M267.5 268.92h1.4M283.7 268.92h1.4M332.6 268.92h1.4M347.5 268.92h1.4M281.0 272.99h1.4M320.4 272.99h1.4M343.4 277.06h1.4"/>
<path stroke="#b0c0e8" d="M397.7 252.63h1.4M403.1 252.63h1.4M367.8 256.70h1.4M377.3 256.70h1.4M386.8 256.70h1.4M397.7 256.70h1.4M441.0 256.70h1.4M371.9 260.77h1.4M435.6 260.77h1.4M445.1 260.77h1.4M412.6 264.84h2.7M438.3 264.84h1.4M241.7 268.92h1.4M304.1 268.92h1.4M312.2 268.92h1.4M329.8 268.92h1.4M348.8 268.92h1.4M268.8 272.99h1.4M279.7 272.99h1.4M305.4 272.99h1.4M253.9 277.06h1.4M305.4 277.06h1.4M308.1 277.06h1.4M270.2 281.12h1.4M316.3 281.12h1.4"/>
<path stroke="#b0b8e8" d="M405.8 252.63h1.4M401.7 256.70h1.4M468.2 260.77h1.4M418.0 264.84h1.4M282.4 272.99h1.4M347.5 272.99h1.4M286.5 277.06h1.4"/>
<path stroke="#c0c8e8" d="M407.1 252.63h1.4M413.9 252.63h1.4M431.6 252.63h1.4M456.0 252.63h2.7M376.0 256.70h1.4M382.7 256.70h2.7M419.4 256.70h1.4M449.2 256.70h1.4M461.4 256.70h1.4M479.0 256.70h1.4M363.8 260.77h1.4M384.1 260.77h1.4M392.2 260.77h1.4M404.4 260.77h1.4M427.5 260.77h1.4M437.0 260.77h1.4M462.7 260.77h1.4M466.8 260.77h1.4M380.0 264.84h1.4M382.7 264.84h1.4M396.3 264.84h1.4M399.0 264.84h2.7M441.0 264.84h1.4M466.8 264.84h1.4M483.1 264.84h1.4M251.2 268.92h1.4M282.4 268.92h1.4M308.1 268.92h1.4M357.0 268.92h1.4M245.8 272.99h1.4M252.5 272.99h1.4M263.4 272.99h1.4M283.7 272.99h1.4M328.5 272.99h1.4M343.4 272.99h1.4M263.4 277.06h1.4M281.0 277.06h2.7M306.8 277.06h1.4M320.4 277.06h1.4M323.1 277.06h1.4M331.2 277.06h1.4M340.7 277.06h2.7M358.3 277.06h1.4M248.5 281.12h1.4M252.5 281.12h1.4M277.0 281.12h1.4M300.0 281.12h1.4M313.6 281.12h1.4M328.5 281.12h1.4M352.9 281.12h1.4"/>
<path stroke="#f0e8f0" d="M412.6 252.63h1.4M373.2 260.77h1.4M479.0 260.77h1.4M245.8 268.92h1.4M256.6 272.99h1.4M464.1 277.06h1.4M480.4 281.12h1.4"/>
<path stroke="#5878c0" d="M416.6 252.63h1.4M442.4 252.63h2.7M480.4 252.63h1.4M424.8 256.70h1.4M416.6 260.77h1.4M453.3 260.77h1.4M279.7 268.92h1.4M291.9 268.92h1.4M316.3 268.92h1.4"/>
<path stroke="#d0d8f0" d="M419.4 252.63h1.4M418.0 256.70h1.4M412.6 260.77h1.4M428.8 260.77h1.4M456.0 260.77h1.4M480.4 260.77h1.4M366.5 264.84h1.4M373.2 264.84h1.4M377.3 264.84h1.4M401.7 264.84h1.4M411.2 264.84h1.4M439.7 264.84h1.4M468.2 264.84h1.4M475.0 264.84h1.4M481.7 264.84h1.4M285.1 268.92h1.4M350.2 268.92h1.4M352.9 268.92h1.4M259.3 272.99h1.4M266.1 272.99h2.7M289.2 272.99h1.4M294.6 272.99h1.4M310.9 272.99h1.4M319.0 272.99h1.4M325.8 272.99h1.4M351.5 272.99h1.4M361.0 272.99h1.4M256.6 277.06h1.4M290.5 277.06h1.4M300.0 277.06h1.4M332.6 277.06h1.4M256.6 281.12h1.4M260.7 281.12h1.4M266.1 281.12h1.4M268.8 281.12h1.4M295.9 281.12h1.4M302.7 281.12h1.4M306.8 281.12h1.4M331.2 281.12h1.4M336.6 281.12h1.4M342.1 281.12h1.4M348.8 281.12h2.7"/>
<path stroke="#b0b8e0" d="M420.7 252.63h1.4M477.7 256.70h1.4M385.4 260.77h2.7M262.0 277.06h1.4M255.3 281.12h1.4M314.9 281.12h1.4"/>
<path stroke="#b8c8e8" d="M422.1 252.63h1.4M370.5 256.70h1.4M378.7 256.70h1.4M370.5 260.77h1.4M483.1 260.77h1.4M381.4 264.84h1.4M437.0 264.84h1.4M442.4 264.84h1.4M453.3 264.84h1.4M460.0 264.84h1.4M465.5 264.84h1.4M479.0 264.84h1.4M244.4 272.99h1.4M301.4 272.99h1.4M304.1 272.99h1.4M346.1 277.06h1.4"/>
<path stroke="#f0f0f0" d="M427.5 252.63h1.4M275.6 256.70h1.4M319.0 256.70h1.4M324.4 256.70h1.4M411.2 256.70h1.4M428.8 256.70h1.4M456.0 256.70h1.4M306.8 260.77h1.4M362.4 260.77h1.4M365.1 260.77h1.4M407.1 260.77h2.7M441.0 260.77h1.4M477.7 260.77h1.4M308.1 264.84h1.4M314.9 264.84h1.4M342.1 264.84h1.4M370.5 264.84h1.4M388.2 264.84h1.4M404.4 264.84h1.4M447.8 264.84h2.7M472.2 264.84h1.4M249.8 268.92h1.4M362.4 268.92h1.4M258.0 272.99h1.4M313.6 272.99h1.4M332.6 272.99h1.4M405.8 272.99h1.4M484.4 272.99h1.4M258.0 277.06h1.4M285.1 277.06h1.4M338.0 277.06h1.4M354.3 277.06h1.4M403.1 277.06h1.4M441.0 277.06h1.4M251.2 281.12h1.4M272.9 281.12h1.4M275.6 281.12h1.4M285.1 281.12h1.4M291.9 281.12h1.4M308.1 281.12h1.4M479.0 281.12h1.4"/>
<path stroke="#90a8d8" d="M434.3 252.63h1.4M464.1 252.63h1.4M369.2 256.70h1.4M475.0 256.70h1.4M381.4 260.77h1.4M306.8 268.92h1.4M321.7 268.92h1.4"/>
<path stroke="#7890d0" d="M435.6 252.63h2.7M441.0 252.63h1.4M469.5 252.63h1.4M476.3 256.70h1.4M424.8 260.77h1.4M423.4 264.84h1.4M243.1 268.92h1.4M253.9 268.92h1.4M256.6 268.92h4.1M293.2 268.92h1.4M323.1 268.92h1.4M244.4 277.06h1.4M267.5 277.06h1.4"/>
<path stroke="#205090" d="M445.1 252.63h1.4M335.3 268.92h1.4"/>
<path stroke="#285098" d="M446.5 252.63h1.4M483.1 252.63h1.4M342.1 268.92h1.4"/>
<path stroke="#3858a0" d="M447.8 252.63h1.4M479.0 252.63h1.4"/>
<path stroke="#3058a0" d="M449.2 252.63h1.4M462.7 252.63h1.4M336.6 268.92h1.4"/>
<path stroke="#8898d0" d="M450.5 252.63h1.4M416.6 264.84h1.4M287.8 268.92h2.7M310.9 268.92h1.4M313.6 268.92h1.4M268.8 277.06h1.4"/>
<path stroke="#d8e0f0" d="M454.6 252.63h1.4M394.9 256.70h1.4M439.7 256.70h1.4M480.4 256.70h1.4M310.9 260.77h1.4M366.5 260.77h1.4M464.1 260.77h1.4M484.4 260.77h1.4M371.9 264.84h1.4M397.7 264.84h1.4M434.3 264.84h1.4M243.1 272.99h1.4M272.9 272.99h1.4M278.3 272.99h1.4M290.5 272.99h1.4M354.3 272.99h1.4M428.8 272.99h1.4M241.7 277.06h1.4M321.7 277.06h1.4M335.3 277.06h1.4M247.1 281.12h1.4M294.6 281.12h1.4M301.4 281.12h1.4M346.1 281.12h1.4M355.6 281.12h1.4"/>
<path stroke="#5070b8" d="M460.0 252.63h1.4M262.0 268.92h1.4M264.8 268.92h1.4M270.2 268.92h1.4M278.3 268.92h1.4M301.4 268.92h1.4"/>
<path stroke="#4868b0" d="M461.4 252.63h1.4M468.2 252.63h1.4M476.3 252.63h1.4M451.9 260.77h1.4M297.3 268.92h1.4M302.7 268.92h1.4M340.7 268.92h1.4"/>
<path stroke="#184078" d="M466.8 252.63h1.4"/>
<path stroke="#4068b0" d="M481.7 252.63h1.4"/>
<path stroke="#103068" d="M484.4 252.63h1.4"/>
<path stroke="#f0c8c0" d="M241.7 256.70h1.4M354.3 256.70h1.4M348.8 264.84h1.4M435.6 272.99h1.4M454.6 272.99h1.4M472.2 272.99h1.4"/>
<path stroke="#f0e8e8" d="M249.8 256.70h1.4M285.1 256.70h2.7M295.9 256.70h1.4M321.7 256.70h1.4M437.0 256.70h2.7M259.3 260.77h1.4M312.2 260.77h1.4M319.0 260.77h1.4M351.5 260.77h1.4M405.8 260.77h1.4M419.4 260.77h1.4M316.3 264.84h1.4M362.4 264.84h1.4M407.1 264.84h1.4M462.7 264.84h1.4M484.4 268.92h1.4M249.8 272.99h1.4M274.2 272.99h1.4M340.7 272.99h1.4M378.7 272.99h1.4M400.4 272.99h1.4M404.4 272.99h1.4M432.9 272.99h1.4M483.1 272.99h1.4M294.6 277.06h1.4M297.3 277.06h1.4M339.3 277.06h1.4M352.9 277.06h1.4M366.5 277.06h1.4M386.8 277.06h1.4M401.7 277.06h1.4M465.5 277.06h1.4M479.0 277.06h1.4M289.2 281.12h2.7M309.5 281.12h1.4M378.7 281.12h1.4M454.6 281.12h1.4M484.4 281.12h1.4"/>
<path stroke="#f0d8d8" d="M251.2 256.70h1.4M258.0 256.70h1.4M277.0 256.70h1.4M338.0 256.70h1.4M347.5 256.70h1.4M351.5 256.70h1.4M355.6 256.70h1.4M358.3 256.70h1.4M260.7 260.77h1.4M287.8 260.77h1.4M294.6 260.77h1.4M297.3 260.77h1.4M347.5 260.77h1.4M350.2 260.77h1.4M245.8 264.84h1.4M251.2 264.84h1.4M283.7 264.84h1.4M305.4 264.84h2.7M313.6 264.84h1.4M319.0 264.84h1.4M439.7 268.92h1.4M381.4 272.99h1.4M401.7 272.99h1.4M460.0 272.99h1.4M476.3 272.99h1.4M295.9 277.06h1.4M351.5 277.06h1.4M363.8 277.06h1.4M370.5 277.06h1.4M377.3 277.06h1.4M397.7 277.06h1.4M404.4 277.06h2.7M435.6 277.06h1.4M439.7 277.06h1.4M450.5 277.06h1.4M454.6 277.06h1.4M457.3 277.06h1.4M367.8 281.12h1.4M386.8 281.12h1.4M464.1 281.12h1.4M477.7 281.12h1.4"/>
<path stroke="#b84848" d="M262.0 256.70h1.4M244.4 260.77h1.4M369.2 268.92h1.4M453.3 268.92h1.4M420.7 281.12h1.4"/>
<path stroke="#f0e0d8" d="M271.5 256.70h1.4M374.6 260.77h1.4M247.1 264.84h1.4M437.0 268.92h1.4M480.4 268.92h1.4M365.1 272.99h1.4M374.6 272.99h1.4M408.5 272.99h1.4M442.4 277.06h1.4M461.4 277.06h1.4M480.4 277.06h1.4M374.6 281.12h1.4M388.2 281.12h1.4"/>
<path stroke="#f8f0f0" d="M290.5 256.70h1.4M320.4 256.70h1.4M412.6 256.70h1.4M285.1 260.77h1.4M323.1 260.77h1.4M344.8 260.77h1.4M348.8 260.77h1.4M376.0 260.77h1.4M472.2 260.77h1.4M282.4 264.84h1.4M304.1 264.84h1.4M338.0 264.84h1.4M363.8 264.84h1.4M405.8 264.84h1.4M427.5 264.84h1.4M432.9 264.84h1.4M247.1 272.99h1.4M287.8 272.99h1.4M314.9 272.99h4.1M331.2 272.99h1.4M338.0 272.99h1.4M363.8 272.99h1.4M427.5 272.99h1.4M430.2 272.99h1.4M336.6 277.06h1.4M359.7 277.06h1.4M462.7 277.06h1.4M263.4 281.12h1.4M287.8 281.12h1.4M324.4 281.12h1.4M376.0 281.12h1.4"/>
<path stroke="#a83838" d="M305.4 256.70h1.4M389.5 268.92h1.4"/>
<path stroke="#c85050" d="M306.8 256.70h1.4M422.1 268.92h1.4M468.2 268.92h1.4"/>
<path stroke="#d07070" d="M310.9 256.70h1.4"/>
<path stroke="#f0d8d0" d="M348.8 256.70h1.4M249.8 260.77h2.7M295.9 260.77h1.4M298.7 260.77h1.4M248.5 264.84h1.4M293.2 264.84h1.4M342.1 272.99h1.4M431.6 272.99h1.4M358.3 281.12h1.4M475.0 281.12h1.4"/>
<path stroke="#d0d0f0" d="M371.9 256.70h1.4M396.3 256.70h1.4M403.1 256.70h1.4M454.6 256.70h1.4M409.9 260.77h1.4M422.1 260.77h1.4M454.6 260.77h1.4M460.0 260.77h1.4M357.0 272.99h1.4M275.6 277.06h1.4M304.1 277.06h1.4M355.6 277.06h1.4M362.4 281.12h1.4"/>
<path stroke="#7088c8" d="M389.5 256.70h1.4M380.0 260.77h1.4M388.2 260.77h1.4M424.8 264.84h1.4M260.7 268.92h1.4M275.6 268.92h2.7M286.5 268.92h1.4M320.4 268.92h1.4M339.3 268.92h1.4"/>
<path stroke="#f8f0e8" d="M457.3 256.70h1.4M305.4 260.77h1.4M418.0 260.77h1.4M328.5 264.84h1.4M378.7 264.84h1.4M336.6 272.99h1.4M339.3 272.99h1.4M376.0 272.99h2.7M407.1 272.99h1.4M480.4 272.99h1.4M317.6 277.06h1.4M245.8 281.12h1.4M267.5 281.12h1.4M359.7 281.12h1.4"/>
<path stroke="#e0e8f0" d="M460.0 256.70h1.4M352.9 260.77h1.4M400.4 260.77h1.4M475.0 260.77h1.4M339.3 264.84h1.4M361.0 264.84h1.4M390.9 264.84h1.4M428.8 264.84h1.4M464.1 264.84h1.4M247.1 268.92h1.4M286.5 272.99h1.4M312.2 272.99h1.4M329.8 277.06h1.4M361.0 277.06h1.4M283.7 281.12h1.4M456.0 281.12h1.4"/>
<path stroke="#f0c0b8" d="M336.6 260.77h1.4M295.9 264.84h1.4M473.6 268.92h1.4M479.0 268.92h1.4M390.9 277.06h1.4M399.0 277.06h1.4"/>
<path stroke="#f0d0c8" d="M346.1 260.77h1.4M271.5 264.84h1.4M472.2 277.06h1.4"/>
<path stroke="#c0d0e8" d="M411.2 260.77h1.4"/>
<path stroke="#f0e8e0" d="M241.7 264.84h1.4M441.0 268.92h1.4M347.5 277.06h1.4M350.2 277.06h1.4M477.7 277.06h1.4"/>
<path stroke="#4068a8" d="M271.5 268.92h1.4"/>
<path stroke="#6888c8" d="M272.9 268.92h1.4"/>
<path stroke="#7090c8" d="M298.7 268.92h1.4"/>
<path stroke="#184088" d="M327.1 268.92h1.4"/>
<path stroke="#3860a8" d="M331.2 268.92h1.4M344.8 268.92h1.4"/>
<path stroke="#4060a8" d="M333.9 268.92h1.4"/>
<path stroke="#204890" d="M338.0 268.92h1.4"/>
<path stroke="#a03030" d="M399.0 268.92h1.4"/>
<path stroke="#d88888" d="M422.1 272.99h1.4M415.3 281.12h1.4M423.4 281.12h1.4"/>
<path stroke="#8090d0" d="M327.1 281.12h1.4"/>
</g>
<rect x="234.1" y="250.60" width="5.8" height="16.28" fill="#68b232"/>
<rect x="234.1" y="266.88" width="5.8" height="16.28" fill="#bf6912"/>
<path d="M234.10 260.77H229.50V264.84H234.10M234.10 256.70H227.70V262.81H229.50M234.10 252.63H225.00V259.76H227.70M234.10 277.06H229.50V281.12H234.10M234.10 272.99H227.70V279.09H229.50M234.10 268.92H225.00V276.04H227.70M225.00 256.20H217.40V272.48H225.00" stroke="#444" stroke-width="0.7" fill="none"/>
<text x="214.00" y="267.40" font-size="7.5" text-anchor="end" textLength="21.3" lengthAdjust="spacingAndGlyphs" fill="#222" stroke="#222" stroke-width="0.2">BasoE</text>
<g stroke-width="4.07" filter="url(#bl)">
<path stroke="#b84848" d="M241.7 297.24h1.4M451.9 325.72h1.4M386.8 329.79h1.4M426.1 329.79h1.4M432.9 333.87h1.4"/>
<path stroke="#d88888" d="M243.1 297.24h1.4M253.9 297.24h1.4M245.8 305.38h1.4M262.0 317.58h1.4M323.1 317.58h1.4M405.8 325.72h1.4M423.4 325.72h1.4M351.5 333.87h1.4"/>
<path stroke="#d88080" d="M244.4 297.24h1.4M258.0 297.24h1.4M301.4 297.24h1.4M321.7 297.24h1.4M289.2 301.31h1.4M293.2 305.38h1.4M241.7 313.51h1.4M283.7 313.51h1.4M293.2 313.51h1.4M245.8 317.58h1.4M255.3 317.58h1.4M293.2 317.58h1.4M420.7 321.65h1.4M426.1 321.65h1.4M385.4 325.72h1.4M400.4 325.72h1.4M407.1 325.72h1.4M445.1 325.72h1.4M465.5 325.72h1.4M389.5 329.79h1.4M453.3 329.79h1.4M456.0 329.79h1.4M468.2 329.79h1.4M403.1 333.87h1.4M420.7 333.87h1.4M437.0 333.87h1.4M475.0 333.87h1.4"/>
<path stroke="#d06060" d="M245.8 297.24h1.4M282.4 297.24h1.4M328.5 297.24h1.4M255.3 313.51h1.4M301.4 313.51h1.4M329.8 313.51h1.4M366.5 325.72h1.4M412.6 325.72h1.4M388.2 329.79h1.4M458.7 329.79h1.4M483.1 329.79h1.4M351.5 337.94h1.4"/>
<path stroke="#e8a0a0" d="M247.1 297.24h2.7M259.3 297.24h1.4M290.5 297.24h1.4M312.2 297.24h1.4M324.4 297.24h1.4M331.2 297.24h2.7M340.7 297.24h1.4M245.8 301.31h1.4M343.4 301.31h1.4M243.1 305.38h1.4M305.4 305.38h1.4M317.6 305.38h1.4M348.8 305.38h1.4M279.7 313.51h1.4M282.4 313.51h1.4M287.8 313.51h1.4M297.3 313.51h1.4M260.7 317.58h1.4M308.1 317.58h1.4M416.6 321.65h1.4M419.4 321.65h1.4M388.2 325.72h1.4M396.3 325.72h2.7M477.7 325.72h1.4M400.4 329.79h1.4M422.1 329.79h1.4M393.6 333.87h1.4M401.7 337.94h1.4M430.2 337.94h1.4M449.2 337.94h1.4M477.7 337.94h1.4"/>
<path stroke="#f0c0c0" d="M249.8 297.24h1.4M271.5 297.24h1.4M285.1 297.24h2.7M304.1 297.24h1.4M343.4 297.24h1.4M262.0 301.31h1.4M270.2 301.31h1.4M272.9 301.31h1.4M275.6 301.31h1.4M291.9 301.31h1.4M295.9 301.31h1.4M298.7 301.31h1.4M305.4 301.31h1.4M312.2 301.31h1.4M323.1 301.31h1.4M327.1 301.31h1.4M336.6 301.31h1.4M263.4 305.38h1.4M267.5 305.38h2.7M275.6 305.38h1.4M319.0 305.38h1.4M347.5 305.38h1.4M243.1 309.44h1.4M266.1 309.44h1.4M289.2 309.44h1.4M297.3 309.44h1.4M301.4 309.44h1.4M306.8 309.44h1.4M335.3 309.44h1.4M249.8 313.51h1.4M253.9 313.51h1.4M264.8 313.51h1.4M275.6 313.51h1.4M317.6 313.51h1.4M327.1 313.51h1.4M335.3 313.51h1.4M339.3 313.51h1.4M264.8 317.58h1.4M275.6 317.58h1.4M285.1 317.58h1.4M287.8 317.58h1.4M305.4 317.58h1.4M312.2 317.58h1.4M314.9 317.58h1.4M351.5 321.65h1.4M374.6 321.65h2.7M401.7 321.65h1.4M412.6 321.65h1.4M430.2 321.65h1.4M443.8 321.65h1.4M458.7 321.65h2.7M465.5 321.65h1.4M352.9 325.72h1.4M367.8 325.72h1.4M415.3 325.72h1.4M424.8 325.72h1.4M428.8 325.72h1.4M441.0 325.72h2.7M475.0 325.72h1.4M479.0 325.72h2.7M357.0 329.79h1.4M367.8 329.79h1.4M407.1 329.79h1.4M416.6 329.79h1.4M435.6 329.79h1.4M449.2 329.79h1.4M465.5 329.79h1.4M264.8 333.87h1.4M386.8 333.87h1.4M399.0 333.87h1.4M416.6 333.87h2.7M428.8 333.87h1.4M434.3 333.87h1.4M443.8 333.87h2.7M450.5 333.87h1.4M453.3 333.87h1.4M469.5 333.87h1.4M350.2 337.94h1.4M355.6 337.94h1.4M377.3 337.94h1.4M386.8 337.94h1.4M423.4 337.94h1.4M426.1 337.94h1.4M439.7 337.94h1.4M484.4 337.94h1.4"/>
<path stroke="#e0a0a0" d="M251.2 297.24h1.4M283.7 301.31h1.4M313.6 317.58h1.4M418.0 321.65h1.4M381.4 329.79h1.4M435.6 337.94h1.4"/>
<path stroke="#e8b0b0" d="M252.5 297.24h1.4M266.1 297.24h1.4M302.7 297.24h1.4M310.9 297.24h1.4M338.0 297.24h1.4M244.4 301.31h1.4M293.2 301.31h1.4M244.4 305.38h1.4M258.0 305.38h1.4M260.7 305.38h1.4M271.5 305.38h1.4M281.0 305.38h1.4M321.7 305.38h1.4M331.2 305.38h1.4M286.5 309.44h1.4M291.9 309.44h1.4M305.4 309.44h1.4M344.8 309.44h1.4M243.1 313.51h4.1M252.5 313.51h1.4M260.7 313.51h1.4M305.4 313.51h1.4M386.8 321.65h1.4M369.2 325.72h1.4M403.1 325.72h1.4M354.3 329.79h1.4M382.7 329.79h1.4M399.0 329.79h1.4M404.4 329.79h1.4M437.0 329.79h1.4M447.8 329.79h1.4M477.7 329.79h2.7M412.6 333.87h1.4M419.4 333.87h1.4M422.1 333.87h1.4M424.8 333.87h1.4M430.2 333.87h1.4M441.0 333.87h1.4M473.6 333.87h1.4M365.1 337.94h1.4M399.0 337.94h1.4M441.0 337.94h1.4M454.6 337.94h1.4M457.3 337.94h1.4"/>
<path stroke="#b84040" d="M255.3 297.24h1.4M328.5 313.51h1.4M454.6 325.72h1.4M426.1 333.87h1.4"/>
<path stroke="#d06868" d="M256.6 297.24h1.4M283.7 297.24h1.4M289.2 297.24h1.4M309.5 297.24h1.4M320.4 297.24h1.4M320.4 305.38h1.4M325.8 313.51h1.4M351.5 325.72h1.4M365.1 325.72h1.4M384.1 325.72h1.4M427.5 325.72h1.4M371.9 329.79h1.4M397.7 329.79h1.4M394.9 333.87h1.4M477.7 333.87h1.4M476.3 337.94h1.4"/>
<path stroke="#f0c8c8" d="M260.7 297.24h1.4M243.1 301.31h1.4M253.9 301.31h1.4M268.8 301.31h1.4M301.4 301.31h1.4M321.7 301.31h1.4M264.8 305.38h1.4M274.2 305.38h1.4M277.0 305.38h1.4M287.8 305.38h1.4M301.4 305.38h1.4M306.8 305.38h1.4M327.1 305.38h1.4M333.9 305.38h1.4M264.8 309.44h1.4M283.7 309.44h2.7M314.9 309.44h2.7M320.4 309.44h1.4M338.0 309.44h1.4M340.7 309.44h1.4M248.5 313.51h1.4M263.4 313.51h1.4M266.1 313.51h1.4M271.5 313.51h1.4M278.3 313.51h1.4M290.5 313.51h1.4M294.6 313.51h1.4M309.5 313.51h1.4M243.1 317.58h1.4M258.0 317.58h1.4M274.2 317.58h1.4M278.3 317.58h1.4M283.7 317.58h1.4M286.5 317.58h1.4M295.9 317.58h4.1M306.8 317.58h1.4M309.5 317.58h1.4M377.3 321.65h1.4M384.1 321.65h2.7M396.3 321.65h2.7M413.9 321.65h1.4M462.7 321.65h1.4M357.0 325.72h1.4M363.8 325.72h1.4M376.0 325.72h1.4M389.5 325.72h1.4M401.7 325.72h1.4M435.6 325.72h1.4M466.8 325.72h1.4M403.1 329.79h1.4M408.5 329.79h1.4M450.5 329.79h1.4M466.8 329.79h1.4M369.2 333.87h1.4M377.3 333.87h1.4M389.5 333.87h1.4M413.9 333.87h1.4M454.6 333.87h2.7M466.8 333.87h1.4M484.4 333.87h1.4M354.3 337.94h1.4M378.7 337.94h1.4M389.5 337.94h2.7M416.6 337.94h2.7M461.4 337.94h1.4M464.1 337.94h1.4M479.0 337.94h1.4M481.7 337.94h2.7"/>
<path stroke="#f0d8d8" d="M262.0 297.24h1.4M294.6 297.24h1.4M316.3 297.24h1.4M342.1 297.24h1.4M260.7 301.31h1.4M314.9 301.31h1.4M340.7 301.31h1.4M347.5 301.31h1.4M461.4 301.31h1.4M253.9 305.38h1.4M285.1 305.38h1.4M289.2 305.38h1.4M295.9 305.38h1.4M298.7 305.38h2.7M304.1 305.38h1.4M309.5 305.38h1.4M370.5 305.38h1.4M258.0 309.44h1.4M263.4 309.44h1.4M272.9 309.44h2.7M343.4 309.44h1.4M363.8 309.44h1.4M304.1 313.51h1.4M306.8 313.51h2.7M310.9 313.51h1.4M332.6 313.51h1.4M267.5 317.58h4.1M302.7 317.58h2.7M310.9 317.58h1.4M338.0 317.58h1.4M339.3 321.65h1.4M347.5 321.65h1.4M355.6 321.65h1.4M362.4 321.65h1.4M370.5 321.65h2.7M392.2 321.65h1.4M431.6 321.65h1.4M437.0 321.65h1.4M447.8 321.65h1.4M450.5 321.65h1.4M479.0 321.65h2.7M268.8 325.72h1.4M373.2 325.72h1.4M380.0 325.72h1.4M390.9 325.72h2.7M399.0 325.72h1.4M437.0 325.72h1.4M460.0 325.72h1.4M361.0 329.79h2.7M369.2 329.79h1.4M427.5 329.79h1.4M460.0 329.79h1.4M473.6 329.79h1.4M476.3 329.79h1.4M350.2 333.87h1.4M380.0 333.87h4.1M358.3 337.94h1.4M367.8 337.94h1.4M373.2 337.94h1.4M385.4 337.94h1.4M407.1 337.94h1.4M411.2 337.94h1.4M413.9 337.94h1.4M419.4 337.94h1.4M473.6 337.94h1.4"/>
<path stroke="#f0f0f0" d="M263.4 297.24h1.4M409.9 297.24h1.4M422.1 297.24h1.4M281.0 301.31h1.4M304.1 301.31h1.4M310.9 301.31h1.4M358.3 301.31h1.4M363.8 301.31h4.1M373.2 301.31h1.4M422.1 301.31h1.4M441.0 301.31h1.4M302.7 305.38h1.4M312.2 305.38h1.4M342.1 305.38h1.4M472.2 305.38h1.4M245.8 309.44h1.4M268.8 309.44h1.4M324.4 309.44h1.4M350.2 309.44h1.4M355.6 309.44h1.4M369.2 309.44h1.4M430.2 309.44h1.4M470.9 309.44h1.4M267.5 313.51h1.4M390.9 313.51h1.4M251.2 317.58h1.4M332.6 317.58h1.4M354.3 317.58h1.4M241.7 321.65h1.4M259.3 321.65h2.7M264.8 321.65h2.7M274.2 321.65h2.7M282.4 321.65h1.4M300.0 321.65h1.4M309.5 321.65h1.4M319.0 321.65h1.4M331.2 321.65h2.7M342.1 321.65h1.4M348.8 321.65h1.4M361.0 321.65h1.4M369.2 321.65h1.4M439.7 321.65h2.7M473.6 321.65h1.4M348.8 325.72h1.4M358.3 325.72h1.4M260.7 333.87h1.4M359.7 333.87h1.4M300.0 337.94h1.4M320.4 337.94h1.4M427.5 337.94h1.4"/>
<path stroke="#e8e8f0" d="M264.8 297.24h1.4M350.2 297.24h1.4M363.8 297.24h1.4M378.7 297.24h1.4M408.5 297.24h1.4M442.4 297.24h1.4M446.5 297.24h1.4M475.0 297.24h1.4M278.3 301.31h1.4M376.0 301.31h1.4M412.6 301.31h1.4M420.7 301.31h1.4M424.8 301.31h1.4M439.7 301.31h1.4M464.1 301.31h1.4M469.5 301.31h1.4M480.4 301.31h1.4M484.4 301.31h1.4M290.5 305.38h1.4M310.9 305.38h1.4M343.4 305.38h1.4M358.3 305.38h1.4M371.9 305.38h1.4M423.4 305.38h1.4M438.3 305.38h1.4M457.3 305.38h1.4M469.5 305.38h1.4M481.7 305.38h1.4M247.1 309.44h1.4M348.8 309.44h1.4M376.0 309.44h1.4M381.4 309.44h1.4M401.7 309.44h4.1M454.6 309.44h1.4M336.6 313.51h2.7M355.6 313.51h1.4M376.0 313.51h1.4M418.0 313.51h1.4M461.4 313.51h2.7M249.8 317.58h1.4M252.5 317.58h1.4M333.9 317.58h1.4M378.7 317.58h1.4M405.8 317.58h1.4M418.0 317.58h1.4M428.8 317.58h1.4M437.0 317.58h1.4M445.1 317.58h1.4M244.4 321.65h1.4M249.8 321.65h1.4M271.5 321.65h1.4M289.2 321.65h1.4M297.3 321.65h2.7M302.7 321.65h1.4M305.4 321.65h1.4M308.1 321.65h1.4M313.6 321.65h1.4M336.6 321.65h1.4M344.8 321.65h1.4M468.2 321.65h1.4M483.1 321.65h1.4M300.0 325.72h1.4M355.6 329.79h1.4M418.0 329.79h1.4M283.7 337.94h1.4M313.6 337.94h1.4M319.0 337.94h1.4M336.6 337.94h1.4M340.7 337.94h2.7"/>
<path stroke="#e09898" d="M267.5 297.24h1.4M339.3 297.24h1.4M344.8 297.24h1.4M286.5 301.31h1.4M325.8 301.31h1.4M338.0 301.31h1.4M259.3 313.51h1.4M319.0 317.58h2.7M329.8 317.58h1.4M409.9 321.65h1.4M428.8 321.65h1.4M361.0 325.72h1.4M371.9 325.72h1.4M374.6 325.72h1.4M377.3 325.72h1.4M381.4 325.72h1.4M408.5 325.72h1.4M416.6 325.72h1.4M483.1 325.72h1.4M376.0 329.79h1.4M385.4 329.79h1.4M438.3 329.79h2.7M442.4 329.79h1.4M481.7 329.79h1.4M484.4 329.79h1.4M362.4 333.87h1.4M411.2 333.87h1.4M439.7 333.87h1.4M449.2 333.87h1.4M476.3 333.87h1.4M362.4 337.94h1.4M366.5 337.94h1.4M431.6 337.94h1.4M450.5 337.94h1.4M458.7 337.94h1.4"/>
<path stroke="#e09090" d="M268.8 297.24h1.4M256.6 305.38h1.4M332.6 305.38h1.4M258.0 313.51h1.4M298.7 313.51h1.4M313.6 313.51h1.4M323.1 313.51h1.4M348.8 313.51h1.4M325.8 317.58h1.4M415.3 321.65h1.4M423.4 321.65h1.4M409.9 325.72h1.4M432.9 325.72h1.4M438.3 325.72h1.4M449.2 325.72h1.4M373.2 329.79h1.4M380.0 329.79h1.4M397.7 333.87h1.4M405.8 333.87h1.4M438.3 333.87h1.4M396.3 337.94h1.4M403.1 337.94h2.7M437.0 337.94h2.7M451.9 337.94h1.4M456.0 337.94h1.4M475.0 337.94h1.4"/>
<path stroke="#e8b8b8" d="M270.2 297.24h1.4M291.9 297.24h2.7M298.7 297.24h1.4M336.6 297.24h1.4M346.1 297.24h4.1M256.6 301.31h2.7M290.5 301.31h1.4M308.1 301.31h1.4M313.6 301.31h1.4M332.6 301.31h2.7M339.3 301.31h1.4M344.8 301.31h1.4M248.5 305.38h1.4M259.3 305.38h1.4M270.2 305.38h1.4M308.1 305.38h1.4M325.8 305.38h1.4M256.6 309.44h1.4M262.0 309.44h1.4M281.0 309.44h1.4M294.6 309.44h1.4M313.6 309.44h1.4M319.0 309.44h1.4M329.8 309.44h1.4M251.2 313.51h1.4M274.2 313.51h1.4M295.9 313.51h1.4M300.0 313.51h1.4M314.9 313.51h1.4M320.4 313.51h2.7M324.4 313.51h1.4M342.1 313.51h1.4M244.4 317.58h1.4M263.4 317.58h1.4M266.1 317.58h1.4M316.3 317.58h1.4M321.7 317.58h1.4M344.8 317.58h2.7M403.1 321.65h1.4M411.2 321.65h1.4M424.8 321.65h1.4M432.9 321.65h1.4M446.5 321.65h1.4M464.1 321.65h1.4M411.2 325.72h1.4M418.0 325.72h1.4M431.6 325.72h1.4M464.1 325.72h1.4M363.8 329.79h1.4M401.7 329.79h1.4M415.3 329.79h1.4M432.9 329.79h1.4M451.9 329.79h1.4M363.8 333.87h1.4M374.6 333.87h1.4M384.1 333.87h1.4M388.2 333.87h1.4M396.3 333.87h1.4M401.7 333.87h1.4M415.3 333.87h1.4M446.5 333.87h1.4M465.5 333.87h1.4M357.0 337.94h1.4M392.2 337.94h2.7M405.8 337.94h1.4M420.7 337.94h1.4M447.8 337.94h1.4M480.4 337.94h1.4"/>
<path stroke="#f0d0d0" d="M272.9 297.24h1.4M300.0 297.24h1.4M314.9 297.24h1.4M248.5 301.31h1.4M251.2 301.31h2.7M266.1 301.31h2.7M274.2 301.31h1.4M277.0 301.31h1.4M294.6 301.31h1.4M297.3 301.31h1.4M309.5 301.31h1.4M320.4 301.31h1.4M324.4 301.31h1.4M342.1 301.31h1.4M346.1 301.31h1.4M247.1 305.38h1.4M249.8 305.38h1.4M272.9 305.38h1.4M282.4 305.38h1.4M323.1 305.38h1.4M336.6 305.38h2.7M340.7 305.38h1.4M298.7 309.44h2.7M304.1 309.44h1.4M308.1 309.44h1.4M321.7 309.44h2.7M325.8 309.44h2.7M336.6 309.44h1.4M339.3 309.44h1.4M342.1 309.44h1.4M346.1 309.44h1.4M361.0 309.44h1.4M272.9 313.51h1.4M291.9 313.51h1.4M312.2 313.51h1.4M319.0 313.51h1.4M289.2 317.58h1.4M294.6 317.58h1.4M300.0 317.58h1.4M331.2 317.58h1.4M336.6 317.58h1.4M354.3 321.65h1.4M390.9 321.65h1.4M394.9 321.65h1.4M445.1 321.65h1.4M451.9 321.65h1.4M461.4 321.65h1.4M470.9 321.65h2.7M347.5 325.72h1.4M354.3 325.72h2.7M370.5 325.72h1.4M419.4 325.72h4.1M472.2 325.72h2.7M476.3 325.72h1.4M481.7 325.72h1.4M358.3 329.79h1.4M413.9 329.79h1.4M428.8 329.79h2.7M263.4 333.87h1.4M357.0 333.87h1.4M376.0 333.87h1.4M385.4 333.87h1.4M390.9 333.87h1.4M451.9 333.87h1.4M457.3 333.87h2.7M472.2 333.87h1.4M352.9 337.94h1.4M371.9 337.94h1.4M380.0 337.94h1.4M388.2 337.94h1.4M409.9 337.94h1.4M442.4 337.94h2.7M446.5 337.94h1.4M466.8 337.94h1.4M469.5 337.94h1.4"/>
<path stroke="#b03838" d="M274.2 297.24h2.7M306.8 297.24h1.4M480.4 333.87h1.4"/>
<path stroke="#982828" d="M277.0 297.24h1.4M374.6 329.79h1.4"/>
<path stroke="#c04848" d="M278.3 297.24h1.4M328.5 301.31h1.4M443.8 329.79h1.4"/>
<path stroke="#c05050" d="M279.7 297.24h1.4M287.8 301.31h1.4M386.8 325.72h1.4M450.5 325.72h1.4M352.9 329.79h1.4M396.3 329.79h1.4"/>
<path stroke="#a02828" d="M281.0 297.24h1.4M426.1 325.72h1.4M453.3 325.72h1.4M366.5 329.79h1.4"/>
<path stroke="#d87878" d="M287.8 297.24h1.4M313.6 297.24h1.4M317.6 297.24h1.4M335.3 297.24h1.4M241.7 305.38h1.4M256.6 313.51h1.4M400.4 321.65h1.4M394.9 325.72h1.4M423.4 329.79h1.4M441.0 329.79h1.4M480.4 329.79h1.4M404.4 333.87h1.4M407.1 333.87h1.4M400.4 337.94h1.4M460.0 337.94h1.4"/>
<path stroke="#f0d0c8" d="M295.9 297.24h1.4M316.3 301.31h1.4M279.7 305.38h1.4M283.7 305.38h1.4M302.7 313.51h1.4M357.0 321.65h1.4M431.6 329.79h1.4M359.7 337.94h1.4"/>
<path stroke="#f0e0e0" d="M297.3 297.24h1.4M249.8 301.31h1.4M300.0 301.31h1.4M462.7 301.31h1.4M470.9 301.31h1.4M278.3 305.38h1.4M294.6 305.38h1.4M373.2 305.38h1.4M267.5 309.44h1.4M279.7 309.44h1.4M290.5 309.44h1.4M302.7 309.44h1.4M331.2 309.44h1.4M362.4 309.44h1.4M277.0 313.51h1.4M399.0 313.51h1.4M248.5 317.58h1.4M271.5 317.58h1.4M279.7 317.58h4.1M247.1 321.65h1.4M314.9 321.65h1.4M346.1 321.65h1.4M350.2 321.65h1.4M363.8 321.65h1.4M393.6 321.65h1.4M434.3 321.65h1.4M453.3 321.65h1.4M469.5 321.65h1.4M477.7 321.65h1.4M481.7 321.65h1.4M267.5 325.72h1.4M411.2 329.79h2.7M434.3 329.79h1.4M475.0 329.79h1.4M355.6 333.87h1.4M442.4 333.87h1.4M460.0 333.87h1.4M468.2 333.87h1.4M316.3 337.94h1.4M363.8 337.94h1.4M369.2 337.94h1.4M376.0 337.94h1.4M384.1 337.94h1.4M408.5 337.94h1.4M422.1 337.94h1.4M468.2 337.94h1.4M472.2 337.94h1.4"/>
<path stroke="#802020" d="M305.4 297.24h1.4"/>
<path stroke="#782020" d="M308.1 297.24h1.4"/>
<path stroke="#d87070" d="M319.0 297.24h1.4M328.5 305.38h1.4M293.2 309.44h1.4M328.5 309.44h1.4M281.0 313.51h1.4M399.0 321.65h1.4M413.9 325.72h1.4M443.8 325.72h1.4M446.5 325.72h2.7M458.7 325.72h1.4M367.8 333.87h1.4M423.4 333.87h1.4M479.0 333.87h1.4M481.7 333.87h1.4M394.9 337.94h1.4M397.7 337.94h1.4"/>
<path stroke="#b04040" d="M323.1 297.24h1.4M456.0 325.72h1.4M365.1 329.79h1.4"/>
<path stroke="#c85858" d="M325.8 297.24h1.4M317.6 309.44h1.4M457.3 325.72h1.4M392.2 329.79h2.7M469.5 329.79h1.4M408.5 333.87h2.7"/>
<path stroke="#f0c0b8" d="M327.1 297.24h1.4M277.0 317.58h1.4"/>
<path stroke="#e8a8a8" d="M329.8 297.24h1.4M241.7 301.31h1.4M271.5 301.31h1.4M306.8 301.31h1.4M317.6 301.31h1.4M331.2 301.31h1.4M329.8 305.38h1.4M335.3 305.38h1.4M241.7 309.44h1.4M255.3 309.44h1.4M282.4 309.44h1.4M295.9 309.44h1.4M262.0 313.51h1.4M286.5 313.51h1.4M331.2 313.51h1.4M340.7 313.51h1.4M256.6 317.58h1.4M259.3 317.58h1.4M324.4 317.58h1.4M404.4 321.65h5.4M427.5 321.65h1.4M362.4 325.72h1.4M382.7 325.72h1.4M393.6 325.72h1.4M430.2 325.72h1.4M468.2 325.72h2.7M484.4 325.72h1.4M350.2 329.79h1.4M370.5 329.79h1.4M384.1 329.79h1.4M405.8 329.79h1.4M409.9 329.79h1.4M424.8 329.79h1.4M445.1 329.79h2.7M454.6 329.79h1.4M470.9 329.79h1.4M361.0 333.87h1.4M365.1 333.87h1.4M427.5 333.87h1.4M431.6 333.87h1.4M447.8 333.87h1.4M374.6 337.94h1.4M434.3 337.94h1.4M453.3 337.94h1.4"/>
<path stroke="#f0e8e0" d="M333.9 297.24h1.4M401.7 297.24h1.4M247.1 301.31h1.4M302.7 301.31h1.4M297.3 305.38h1.4M316.3 305.38h1.4M344.8 305.38h1.4M259.3 309.44h1.4M316.3 313.51h1.4M335.3 317.58h1.4M245.8 321.65h1.4M365.1 321.65h2.7M438.3 321.65h1.4M470.9 325.72h1.4M464.1 329.79h1.4M464.1 333.87h1.4M304.1 337.94h1.4"/>
<path stroke="#305898" d="M351.5 297.24h1.4"/>
<path stroke="#7088c8" d="M352.9 297.24h1.4M458.7 309.44h1.4M282.4 325.72h1.4M266.1 329.79h1.4M277.0 329.79h1.4M320.4 329.79h1.4M241.7 333.87h1.4M248.5 333.87h1.4"/>
<path stroke="#7890d0" d="M354.3 297.24h1.4M351.5 301.31h1.4M351.5 305.38h1.4M460.0 309.44h1.4M404.4 313.51h1.4M241.7 329.79h2.7M247.1 333.87h1.4M256.6 333.87h1.4M328.5 333.87h1.4M336.6 333.87h1.4M243.1 337.94h1.4"/>
<path stroke="#b0c0e8" d="M355.6 297.24h1.4M380.0 297.24h1.4M483.1 297.24h1.4M382.7 301.31h1.4M392.2 301.31h1.4M400.4 301.31h1.4M376.0 305.38h1.4M384.1 305.38h1.4M388.2 305.38h1.4M430.2 305.38h1.4M371.9 309.44h1.4M377.3 309.44h1.4M445.1 309.44h1.4M461.4 309.44h1.4M354.3 313.51h1.4M381.4 313.51h1.4M386.8 313.51h2.7M438.3 313.51h1.4M454.6 313.51h1.4M381.4 317.58h1.4M386.8 317.58h1.4M420.7 317.58h1.4M477.7 317.58h1.4M297.3 325.72h1.4M343.4 325.72h1.4M331.2 329.79h1.4M285.1 333.87h1.4M297.3 333.87h1.4M304.1 333.87h1.4M255.3 337.94h1.4M308.1 337.94h1.4M324.4 337.94h1.4"/>
<path stroke="#8098d0" d="M357.0 297.24h1.4M388.2 297.24h1.4M386.8 301.31h1.4M365.1 305.38h1.4M426.1 317.58h1.4M245.8 325.72h1.4M248.5 325.72h1.4M295.9 325.72h1.4M305.4 325.72h1.4M340.7 325.72h1.4M251.2 329.79h1.4M262.0 329.79h1.4M274.2 329.79h1.4M281.0 329.79h2.7M321.7 329.79h1.4M339.3 329.79h1.4M347.5 329.79h1.4M346.1 333.87h1.4M323.1 337.94h1.4"/>
<path stroke="#d8e0f0" d="M358.3 297.24h1.4M403.1 297.24h1.4M405.8 297.24h2.7M445.1 297.24h1.4M466.8 297.24h1.4M476.3 297.24h1.4M419.4 301.31h1.4M446.5 301.31h2.7M355.6 305.38h1.4M399.0 305.38h1.4M437.0 305.38h1.4M458.7 305.38h1.4M468.2 305.38h1.4M473.6 305.38h1.4M370.5 309.44h1.4M431.6 309.44h1.4M378.7 313.51h1.4M451.9 313.51h1.4M468.2 313.51h1.4M385.4 317.58h1.4M413.9 317.58h1.4M446.5 317.58h1.4M457.3 317.58h1.4M469.5 317.58h1.4M243.1 321.65h1.4M281.0 321.65h1.4M358.3 321.65h1.4M454.6 321.65h1.4M286.5 325.72h1.4M324.4 325.72h1.4M290.5 329.79h1.4M324.4 329.79h1.4M333.9 329.79h1.4M270.2 333.87h1.4M272.9 333.87h1.4M249.8 337.94h1.4M268.8 337.94h1.4M329.8 337.94h1.4"/>
<path stroke="#c8d0f0" d="M359.7 297.24h1.4M454.6 297.24h1.4M480.4 297.24h1.4M472.2 301.31h1.4M409.9 305.38h1.4M431.6 305.38h1.4M456.0 305.38h1.4M465.5 305.38h1.4M479.0 305.38h1.4M385.4 309.44h1.4M418.0 309.44h1.4M449.2 309.44h1.4M472.2 309.44h1.4M408.5 313.51h1.4M449.2 313.51h1.4M394.9 317.58h1.4M407.1 317.58h1.4M258.0 325.72h1.4M275.6 337.94h1.4"/>
<path stroke="#c8d0e8" d="M361.0 297.24h2.7M370.5 297.24h1.4M418.0 297.24h1.4M441.0 297.24h1.4M457.3 297.24h1.4M361.0 301.31h1.4M367.8 301.31h1.4M407.1 301.31h1.4M413.9 301.31h1.4M466.8 301.31h1.4M481.7 301.31h1.4M390.9 305.38h1.4M397.7 305.38h1.4M407.1 305.38h1.4M420.7 305.38h1.4M451.9 305.38h2.7M477.7 305.38h1.4M392.2 309.44h1.4M462.7 309.44h1.4M473.6 309.44h1.4M481.7 309.44h1.4M357.0 313.51h1.4M370.5 313.51h1.4M373.2 313.51h1.4M394.9 313.51h1.4M409.9 313.51h1.4M416.6 313.51h1.4M424.8 313.51h1.4M427.5 313.51h1.4M435.6 313.51h1.4M460.0 313.51h1.4M469.5 313.51h1.4M477.7 313.51h1.4M483.1 313.51h1.4M355.6 317.58h1.4M376.0 317.58h1.4M427.5 317.58h1.4M434.3 317.58h1.4M447.8 317.58h1.4M451.9 317.58h1.4M460.0 317.58h1.4M462.7 317.58h1.4M476.3 317.58h1.4M479.0 317.58h1.4M256.6 321.65h2.7M291.9 321.65h1.4M380.0 321.65h1.4M301.4 325.72h1.4M304.1 325.72h1.4M325.8 325.72h1.4M333.9 325.72h1.4M308.1 329.79h1.4M310.9 329.79h1.4M259.3 333.87h1.4M343.4 337.94h1.4"/>
<path stroke="#a0b0e0" d="M365.1 297.24h1.4M373.2 297.24h1.4M377.3 297.24h1.4M389.5 297.24h1.4M392.2 297.24h1.4M432.9 297.24h1.4M484.4 297.24h1.4M396.3 301.31h1.4M473.6 301.31h1.4M476.3 301.31h1.4M382.7 305.38h1.4M432.9 305.38h1.4M373.2 309.44h1.4M394.9 309.44h1.4M408.5 309.44h1.4M420.7 309.44h1.4M442.4 309.44h1.4M465.5 309.44h1.4M468.2 309.44h1.4M351.5 313.51h2.7M413.9 313.51h1.4M443.8 313.51h1.4M392.2 317.58h1.4M403.1 317.58h1.4M408.5 317.58h2.7M264.8 325.72h1.4M274.2 325.72h1.4M298.7 325.72h1.4M317.6 325.72h1.4M344.8 325.72h1.4M271.5 329.79h1.4M293.2 329.79h1.4M251.2 333.87h1.4M290.5 333.87h1.4M294.6 333.87h1.4M302.7 333.87h1.4M342.1 333.87h1.4M248.5 337.94h1.4M264.8 337.94h1.4M328.5 337.94h1.4M332.6 337.94h1.4"/>
<path stroke="#5070b8" d="M366.5 297.24h1.4M340.7 329.79h1.4M344.8 329.79h1.4"/>
<path stroke="#8898d0" d="M367.8 297.24h1.4M381.4 305.38h1.4M365.1 317.58h1.4M294.6 325.72h1.4M283.7 333.87h1.4"/>
<path stroke="#98a8d8" d="M369.2 297.24h1.4M430.2 297.24h1.4M458.7 297.24h2.7M403.1 305.38h1.4M407.1 309.44h1.4M446.5 313.51h1.4M361.0 317.58h1.4M266.1 325.72h1.4M336.6 325.72h1.4M249.8 329.79h1.4M272.9 329.79h1.4M298.7 329.79h1.4M329.8 329.79h1.4M255.3 333.87h1.4M308.1 333.87h1.4M340.7 333.87h1.4M279.7 337.94h1.4"/>
<path stroke="#b8c0e8" d="M371.9 297.24h1.4M465.5 297.24h1.4M426.1 301.31h1.4M457.3 301.31h1.4M357.0 305.38h1.4M389.5 305.38h1.4M394.9 305.38h1.4M400.4 305.38h1.4M405.8 305.38h1.4M419.4 305.38h1.4M450.5 309.44h1.4M480.4 309.44h1.4M362.4 313.51h1.4M405.8 313.51h1.4M411.2 313.51h1.4M430.2 313.51h1.4M437.0 313.51h1.4M456.0 313.51h1.4M458.7 313.51h1.4M475.0 313.51h1.4M358.3 317.58h2.7M362.4 317.58h1.4M389.5 317.58h1.4M393.6 317.58h1.4M432.9 317.58h1.4M449.2 317.58h1.4M480.4 317.58h1.4M484.4 317.58h1.4M290.5 325.72h1.4M306.8 325.72h1.4M255.3 329.79h1.4M267.5 329.79h1.4M278.3 329.79h1.4M286.5 329.79h1.4M302.7 329.79h1.4M278.3 333.87h1.4M310.9 333.87h1.4M295.9 337.94h1.4M305.4 337.94h1.4M338.0 337.94h1.4"/>
<path stroke="#285098" d="M374.6 297.24h1.4"/>
<path stroke="#b8c8e8" d="M376.0 297.24h1.4M381.4 297.24h1.4M450.5 297.24h1.4M464.1 297.24h1.4M469.5 297.24h1.4M381.4 301.31h1.4M431.6 301.31h1.4M392.2 305.38h1.4M396.3 309.44h1.4M412.6 309.44h1.4M415.3 309.44h1.4M432.9 309.44h1.4M446.5 309.44h1.4M346.1 313.51h1.4M385.4 313.51h1.4M389.5 313.51h1.4M393.6 313.51h1.4M473.6 313.51h1.4M350.2 317.58h1.4M401.7 317.58h1.4M247.1 325.72h1.4M289.2 325.72h1.4M316.3 325.72h1.4M327.1 325.72h1.4M342.1 325.72h1.4M309.5 329.79h1.4M346.1 329.79h1.4M306.8 333.87h1.4M251.2 337.94h1.4M282.4 337.94h1.4"/>
<path stroke="#d8d8f0" d="M382.7 297.24h1.4M470.9 297.24h1.4M362.4 301.31h1.4M378.7 301.31h2.7M403.1 301.31h1.4M405.8 301.31h1.4M408.5 301.31h1.4M418.0 301.31h1.4M434.3 301.31h1.4M454.6 301.31h1.4M412.6 305.38h1.4M426.1 305.38h1.4M442.4 305.38h1.4M445.1 305.38h1.4M484.4 305.38h1.4M378.7 309.44h1.4M434.3 309.44h1.4M484.4 309.44h1.4M363.8 313.51h1.4M367.8 313.51h1.4M392.2 313.51h1.4M420.7 313.51h1.4M423.4 313.51h1.4M428.8 313.51h1.4M447.8 313.51h1.4M450.5 313.51h1.4M466.8 313.51h1.4M484.4 313.51h1.4M370.5 317.58h1.4M380.0 317.58h1.4M435.6 317.58h1.4M443.8 317.58h1.4M454.6 317.58h1.4M272.9 321.65h1.4M277.0 321.65h1.4M286.5 321.65h1.4M324.4 321.65h1.4M359.7 321.65h1.4M285.1 325.72h1.4M310.9 325.72h1.4M258.0 329.79h1.4M279.7 329.79h1.4M252.5 333.87h2.7M259.3 337.94h1.4M287.8 337.94h1.4M298.7 337.94h1.4M312.2 337.94h1.4M327.1 337.94h1.4"/>
<path stroke="#b0b8e0" d="M384.1 297.24h1.4M468.2 297.24h1.4M369.2 301.31h2.7M384.1 301.31h1.4M374.6 305.38h1.4M404.4 305.38h1.4M456.0 309.44h1.4M396.3 317.58h1.4M438.3 317.58h1.4M468.2 317.58h1.4M268.8 329.79h1.4M316.3 329.79h1.4M306.8 337.94h1.4M331.2 337.94h1.4M344.8 337.94h1.4"/>
<path stroke="#a8b8e0" d="M385.4 297.24h1.4M390.9 297.24h1.4M415.3 297.24h1.4M438.3 297.24h1.4M462.7 297.24h1.4M357.0 301.31h1.4M394.9 301.31h1.4M450.5 301.31h2.7M465.5 301.31h1.4M441.0 305.38h1.4M386.8 309.44h1.4M416.6 309.44h1.4M424.8 309.44h1.4M439.7 309.44h1.4M457.3 309.44h1.4M371.9 313.51h1.4M374.6 313.51h1.4M412.6 313.51h1.4M465.5 313.51h1.4M377.3 317.58h1.4M411.2 317.58h1.4M441.0 317.58h1.4M483.1 317.58h1.4M244.4 325.72h1.4M252.5 325.72h1.4M283.7 325.72h1.4M291.9 325.72h1.4M327.1 329.79h1.4M249.8 333.87h1.4M286.5 333.87h1.4M291.9 333.87h1.4M324.4 333.87h1.4M247.1 337.94h1.4"/>
<path stroke="#6078c0" d="M386.8 297.24h1.4M244.4 333.87h1.4M305.4 333.87h1.4M321.7 333.87h1.4"/>
<path stroke="#6880c8" d="M393.6 297.24h1.4M432.9 313.51h1.4M249.8 325.72h1.4M308.1 325.72h1.4M328.5 325.72h1.4M335.3 325.72h1.4M245.8 329.79h1.4M248.5 329.79h1.4"/>
<path stroke="#5870b8" d="M394.9 297.24h1.4M289.2 333.87h1.4M338.0 333.87h1.4"/>
<path stroke="#7890c8" d="M396.3 297.24h1.4M281.0 325.72h1.4"/>
<path stroke="#5878c0" d="M397.7 297.24h1.4M366.5 317.58h1.4M241.7 325.72h1.4M251.2 325.72h1.4M277.0 325.72h1.4M348.8 329.79h1.4M245.8 333.87h1.4M300.0 333.87h1.4M323.1 333.87h1.4"/>
<path stroke="#d0d8f0" d="M399.0 297.24h1.4M412.6 297.24h1.4M419.4 297.24h1.4M443.8 297.24h1.4M479.0 297.24h1.4M481.7 297.24h1.4M352.9 301.31h2.7M371.9 301.31h1.4M389.5 301.31h2.7M409.9 301.31h2.7M423.4 301.31h1.4M427.5 301.31h2.7M460.0 301.31h1.4M468.2 301.31h1.4M380.0 305.38h1.4M396.3 305.38h1.4M408.5 305.38h1.4M413.9 305.38h1.4M418.0 305.38h1.4M446.5 305.38h1.4M449.2 305.38h1.4M454.6 305.38h1.4M475.0 305.38h1.4M483.1 305.38h1.4M389.5 309.44h1.4M405.8 309.44h1.4M411.2 309.44h1.4M419.4 309.44h1.4M437.0 309.44h1.4M451.9 309.44h1.4M475.0 309.44h1.4M358.3 313.51h1.4M365.1 313.51h1.4M384.1 313.51h1.4M419.4 313.51h1.4M457.3 313.51h1.4M464.1 313.51h1.4M472.2 313.51h1.4M476.3 313.51h1.4M479.0 313.51h1.4M369.2 317.58h1.4M384.1 317.58h1.4M388.2 317.58h1.4M399.0 317.58h1.4M416.6 317.58h1.4M419.4 317.58h1.4M424.8 317.58h1.4M442.4 317.58h1.4M453.3 317.58h1.4M456.0 317.58h1.4M458.7 317.58h1.4M464.1 317.58h1.4M473.6 317.58h2.7M262.0 321.65h2.7M283.7 321.65h1.4M294.6 321.65h1.4M456.0 321.65h1.4M243.1 325.72h1.4M319.0 325.72h1.4M263.4 329.79h1.4M306.8 329.79h1.4M252.5 337.94h1.4M285.1 337.94h1.4M291.9 337.94h1.4M301.4 337.94h1.4M325.8 337.94h1.4"/>
<path stroke="#f8f0f0" d="M400.4 297.24h1.4M420.7 297.24h1.4M423.4 297.24h1.4M447.8 297.24h1.4M264.8 301.31h1.4M369.2 305.38h1.4M378.7 305.38h1.4M447.8 305.38h1.4M461.4 305.38h4.1M466.8 305.38h1.4M249.8 309.44h1.4M253.9 309.44h1.4M260.7 309.44h1.4M333.9 309.44h1.4M351.5 309.44h2.7M359.7 309.44h1.4M366.5 309.44h1.4M384.1 309.44h1.4M427.5 309.44h2.7M397.7 313.51h1.4M327.1 317.58h1.4M352.9 317.58h1.4M279.7 321.65h1.4M301.4 321.65h1.4M306.8 321.65h1.4M312.2 321.65h1.4M320.4 321.65h2.7M329.8 321.65h1.4M333.9 321.65h1.4M381.4 321.65h1.4M435.6 321.65h1.4M449.2 321.65h1.4M466.8 321.65h1.4M359.7 325.72h1.4M461.4 325.72h1.4M267.5 333.87h2.7M382.7 337.94h1.4"/>
<path stroke="#e0e8f0" d="M404.4 297.24h1.4M401.7 301.31h1.4M438.3 301.31h1.4M453.3 309.44h1.4M268.8 313.51h1.4M359.7 313.51h1.4M481.7 313.51h1.4M371.9 317.58h1.4M415.3 317.58h1.4M253.9 321.65h1.4M287.8 321.65h1.4M343.4 321.65h1.4M312.2 329.79h1.4M258.0 337.94h1.4M286.5 337.94h1.4"/>
<path stroke="#f8f0e8" d="M411.2 297.24h1.4M449.2 297.24h1.4M270.2 309.44h1.4M278.3 309.44h1.4M312.2 309.44h1.4M347.5 313.51h1.4M396.3 313.51h1.4M343.4 317.58h1.4M267.5 321.65h1.4M310.9 321.65h1.4M340.7 321.65h1.4M462.7 329.79h1.4M354.3 333.87h1.4M358.3 333.87h1.4M373.2 333.87h1.4M462.7 333.87h1.4M272.9 337.94h1.4M302.7 337.94h1.4M314.9 337.94h1.4"/>
<path stroke="#6888c8" d="M413.9 297.24h1.4M329.8 325.72h1.4M287.8 329.79h1.4M320.4 333.87h1.4M343.4 333.87h1.4M347.5 333.87h1.4M241.7 337.94h1.4M262.0 337.94h1.4"/>
<path stroke="#b0b8e8" d="M416.6 297.24h1.4M449.2 301.31h1.4M416.6 305.38h1.4M434.3 313.51h1.4M481.7 317.58h1.4M285.1 329.79h1.4M271.5 333.87h1.4M327.1 333.87h1.4"/>
<path stroke="#e0e0f0" d="M424.8 297.24h1.4M473.6 297.24h1.4M359.7 301.31h1.4M374.6 301.31h1.4M404.4 301.31h1.4M415.3 301.31h2.7M442.4 301.31h1.4M477.7 301.31h1.4M483.1 301.31h1.4M314.9 305.38h1.4M350.2 305.38h1.4M359.7 305.38h1.4M363.8 305.38h1.4M411.2 305.38h1.4M427.5 305.38h1.4M443.8 305.38h1.4M460.0 305.38h1.4M252.5 309.44h1.4M310.9 309.44h1.4M357.0 309.44h1.4M422.1 309.44h1.4M438.3 309.44h1.4M382.7 313.51h1.4M407.1 313.51h1.4M422.1 313.51h1.4M439.7 313.51h4.1M470.9 313.51h1.4M480.4 313.51h1.4M382.7 317.58h1.4M422.1 317.58h1.4M431.6 317.58h1.4M470.9 317.58h1.4M252.5 321.65h1.4M278.3 321.65h1.4M295.9 321.65h1.4M317.6 321.65h1.4M323.1 321.65h1.4M328.5 321.65h1.4M335.3 321.65h1.4M378.7 321.65h1.4M484.4 321.65h1.4M271.5 325.72h1.4M302.7 325.72h1.4M323.1 325.72h1.4M346.1 325.72h1.4M304.1 329.79h1.4M310.9 337.94h1.4M321.7 337.94h1.4M339.3 337.94h1.4"/>
<path stroke="#88a0d8" d="M426.1 297.24h1.4M439.7 297.24h1.4M377.3 305.38h1.4M374.6 309.44h1.4M441.0 309.44h1.4M403.1 313.51h1.4M426.1 313.51h1.4M445.1 313.51h1.4M263.4 325.72h1.4M279.7 325.72h1.4M332.6 325.72h1.4M339.3 325.72h1.4M301.4 329.79h1.4M279.7 333.87h1.4M319.0 333.87h1.4M339.3 333.87h1.4M281.0 337.94h1.4"/>
<path stroke="#98a8e0" d="M427.5 297.24h1.4M456.0 297.24h1.4M435.6 305.38h1.4M397.7 309.44h1.4M423.4 309.44h1.4M400.4 313.51h1.4M367.8 317.58h1.4M400.4 317.58h1.4M439.7 317.58h1.4M270.2 329.79h1.4M305.4 329.79h1.4M338.0 329.79h1.4M243.1 333.87h1.4M295.9 333.87h1.4M332.6 333.87h1.4M266.1 337.94h1.4M347.5 337.94h1.4"/>
<path stroke="#90a8d8" d="M428.8 297.24h1.4M453.3 297.24h1.4M397.7 301.31h1.4M432.9 301.31h1.4M475.0 301.31h1.4M400.4 309.44h1.4M377.3 313.51h1.4M357.0 317.58h1.4M256.6 325.72h1.4M262.0 325.72h1.4M338.0 325.72h1.4M289.2 329.79h1.4M314.9 333.87h1.4M331.2 333.87h1.4"/>
<path stroke="#c0c8e8" d="M431.6 297.24h1.4M434.3 297.24h4.1M472.2 297.24h1.4M477.7 297.24h1.4M350.2 301.31h1.4M377.3 301.31h1.4M388.2 301.31h1.4M393.6 301.31h1.4M399.0 301.31h1.4M430.2 301.31h1.4M435.6 301.31h2.7M443.8 301.31h1.4M453.3 301.31h1.4M458.7 301.31h1.4M367.8 305.38h1.4M385.4 305.38h1.4M393.6 305.38h1.4M401.7 305.38h1.4M415.3 305.38h1.4M439.7 305.38h1.4M450.5 305.38h1.4M388.2 309.44h1.4M390.9 309.44h1.4M393.6 309.44h1.4M409.9 309.44h1.4M413.9 309.44h1.4M435.6 309.44h1.4M464.1 309.44h1.4M466.8 309.44h1.4M469.5 309.44h1.4M483.1 309.44h1.4M361.0 313.51h1.4M369.2 313.51h1.4M380.0 313.51h1.4M401.7 313.51h1.4M415.3 313.51h1.4M431.6 313.51h1.4M453.3 313.51h1.4M363.8 317.58h1.4M373.2 317.58h1.4M450.5 317.58h1.4M461.4 317.58h1.4M285.1 321.65h1.4M290.5 321.65h1.4M293.2 321.65h1.4M253.9 325.72h1.4M259.3 325.72h1.4M272.9 325.72h1.4M314.9 325.72h1.4M320.4 325.72h2.7M253.9 329.79h1.4M256.6 329.79h1.4M259.3 329.79h1.4M264.8 329.79h1.4M291.9 329.79h1.4M297.3 329.79h1.4M332.6 329.79h1.4M336.6 329.79h1.4M274.2 333.87h1.4M253.9 337.94h1.4M256.6 337.94h1.4M260.7 337.94h1.4M267.5 337.94h1.4M290.5 337.94h1.4M294.6 337.94h1.4M309.5 337.94h1.4M333.9 337.94h1.4M346.1 337.94h1.4"/>
<path stroke="#90a0d8" d="M451.9 297.24h1.4M362.4 305.38h1.4M386.8 305.38h1.4M426.1 309.44h1.4M374.6 317.58h1.4M397.7 317.58h1.4M465.5 317.58h2.7M278.3 325.72h1.4M258.0 333.87h1.4M275.6 333.87h1.4M312.2 333.87h1.4M316.3 333.87h1.4M329.8 333.87h1.4M277.0 337.94h2.7M293.2 337.94h1.4M335.3 337.94h1.4"/>
<path stroke="#a8b0e0" d="M461.4 297.24h1.4M366.5 313.51h1.4M412.6 317.58h1.4M287.8 325.72h1.4M314.9 329.79h1.4M325.8 329.79h1.4M335.3 329.79h1.4M277.0 333.87h1.4M309.5 333.87h1.4"/>
<path stroke="#e08888" d="M255.3 301.31h1.4M285.1 301.31h1.4M329.8 301.31h1.4M335.3 301.31h1.4M255.3 305.38h1.4M262.0 305.38h1.4M266.1 305.38h1.4M287.8 309.44h1.4M285.1 313.51h1.4M289.2 313.51h1.4M317.6 317.58h1.4M328.5 317.58h1.4M422.1 321.65h1.4M404.4 325.72h1.4M439.7 325.72h1.4M378.7 329.79h1.4M420.7 329.79h1.4M457.3 329.79h1.4M400.4 333.87h1.4M435.6 333.87h1.4M483.1 333.87h1.4M361.0 337.94h1.4M465.5 337.94h1.4"/>
<path stroke="#f0d8d0" d="M259.3 301.31h1.4M282.4 301.31h1.4M346.1 305.38h1.4M344.8 313.51h1.4M301.4 317.58h1.4M347.5 317.58h2.7M442.4 321.65h1.4M434.3 325.72h1.4M412.6 337.94h1.4M415.3 337.94h1.4M424.8 337.94h1.4M470.9 337.94h1.4"/>
<path stroke="#f0e8e8" d="M263.4 301.31h1.4M279.7 301.31h1.4M319.0 301.31h1.4M348.8 301.31h1.4M479.0 301.31h1.4M251.2 305.38h2.7M286.5 305.38h1.4M291.9 305.38h1.4M313.6 305.38h1.4M324.4 305.38h1.4M339.3 305.38h1.4M354.3 305.38h1.4M422.1 305.38h1.4M248.5 309.44h1.4M251.2 309.44h1.4M271.5 309.44h1.4M275.6 309.44h2.7M309.5 309.44h1.4M332.6 309.44h1.4M347.5 309.44h1.4M365.1 309.44h1.4M367.8 309.44h1.4M382.7 309.44h1.4M476.3 309.44h1.4M247.1 313.51h1.4M333.9 313.51h1.4M343.4 313.51h1.4M350.2 313.51h1.4M272.9 317.58h1.4M290.5 317.58h1.4M339.3 317.58h4.1M268.8 321.65h2.7M316.3 321.65h1.4M327.1 321.65h1.4M338.0 321.65h1.4M352.9 321.65h1.4M367.8 321.65h1.4M373.2 321.65h1.4M382.7 321.65h1.4M389.5 321.65h1.4M457.3 321.65h1.4M476.3 321.65h1.4M270.2 325.72h1.4M378.7 325.72h1.4M462.7 325.72h1.4M295.9 329.79h1.4M359.7 329.79h1.4M419.4 329.79h1.4M461.4 329.79h1.4M262.0 333.87h1.4M352.9 333.87h1.4M371.9 333.87h1.4M378.7 333.87h1.4M461.4 333.87h1.4M470.9 333.87h1.4M317.6 337.94h1.4M370.5 337.94h1.4M381.4 337.94h1.4M445.1 337.94h1.4"/>
<path stroke="#d0d0f0" d="M355.6 301.31h1.4M385.4 301.31h1.4M445.1 301.31h1.4M456.0 301.31h1.4M424.8 305.38h1.4M428.8 305.38h1.4M434.3 305.38h1.4M476.3 305.38h1.4M480.4 305.38h1.4M399.0 309.44h1.4M447.8 309.44h1.4M479.0 309.44h1.4M404.4 317.58h1.4M423.4 317.58h1.4M430.2 317.58h1.4M472.2 317.58h1.4M251.2 321.65h1.4M255.3 321.65h1.4M312.2 325.72h1.4M300.0 329.79h1.4M266.1 333.87h1.4M333.9 333.87h1.4M289.2 337.94h1.4"/>
<path stroke="#f0e8f0" d="M352.9 305.38h1.4M470.9 305.38h1.4M358.3 309.44h1.4M380.0 309.44h1.4M477.7 309.44h1.4M304.1 321.65h1.4M325.8 321.65h1.4M475.0 321.65h1.4M294.6 329.79h1.4M270.2 337.94h2.7M274.2 337.94h1.4M428.8 337.94h1.4M462.7 337.94h1.4"/>
<path stroke="#8898d8" d="M361.0 305.38h1.4M309.5 325.72h1.4M331.2 325.72h1.4M252.5 329.79h1.4M283.7 329.79h1.4M313.6 329.79h1.4M263.4 337.94h1.4"/>
<path stroke="#3058a0" d="M366.5 305.38h1.4M298.7 333.87h1.4M317.6 333.87h1.4M245.8 337.94h1.4"/>
<path stroke="#f0e0d8" d="M244.4 309.44h1.4M354.3 309.44h1.4M270.2 313.51h1.4M241.7 317.58h1.4M247.1 317.58h1.4M253.9 317.58h1.4M291.9 317.58h1.4M248.5 321.65h1.4M388.2 321.65h1.4M370.5 333.87h1.4M392.2 333.87h1.4"/>
<path stroke="#8090d0" d="M443.8 309.44h1.4"/>
<path stroke="#6080c8" d="M351.5 317.58h1.4M275.6 325.72h1.4M335.3 333.87h1.4"/>
<path stroke="#98b0e0" d="M390.9 317.58h1.4M247.1 329.79h1.4"/>
<path stroke="#4868b0" d="M255.3 325.72h1.4M313.6 325.72h1.4M282.4 333.87h1.4M348.8 333.87h1.4"/>
<path stroke="#c0d0e8" d="M260.7 325.72h1.4M260.7 329.79h1.4M297.3 337.94h1.4"/>
<path stroke="#103068" d="M293.2 325.72h1.4"/>
<path stroke="#f0c8c0" d="M350.2 325.72h1.4M472.2 329.79h1.4"/>
<path stroke="#7090c8" d="M244.4 329.79h1.4M275.6 329.79h1.4M319.0 329.79h1.4M348.8 337.94h1.4"/>
<path stroke="#3860a0" d="M317.6 329.79h1.4"/>
<path stroke="#6080c0" d="M323.1 329.79h1.4M343.4 329.79h1.4M287.8 333.87h1.4"/>
<path stroke="#204890" d="M328.5 329.79h1.4M313.6 333.87h1.4"/>
<path stroke="#4068b0" d="M342.1 329.79h1.4"/>
<path stroke="#481010" d="M351.5 329.79h1.4"/>
<path stroke="#902020" d="M377.3 329.79h1.4"/>
<path stroke="#c85050" d="M390.9 329.79h1.4"/>
<path stroke="#d07070" d="M394.9 329.79h1.4"/>
<path stroke="#4068a8" d="M281.0 333.87h1.4"/>
<path stroke="#082860" d="M293.2 333.87h1.4"/>
<path stroke="#103070" d="M301.4 333.87h1.4"/>
<path stroke="#4870b8" d="M325.8 333.87h1.4"/>
<path stroke="#4060a8" d="M344.8 333.87h1.4"/>
<path stroke="#882020" d="M366.5 333.87h1.4"/>
<path stroke="#3860a8" d="M244.4 337.94h1.4"/>
<path stroke="#a83030" d="M432.9 337.94h1.4"/>
</g>
<rect x="234.1" y="295.20" width="5.8" height="24.42" fill="#bf6912"/>
<rect x="234.1" y="319.62" width="5.8" height="20.35" fill="#68b232"/>
<path d="M234.10 301.31H231.00V305.38H234.10M234.10 313.51H232.00V317.58H234.10M234.10 309.44H230.00V315.55H232.00M231.00 303.34H229.00V312.50H230.00M234.10 297.24H227.00V307.92H229.00M234.10 321.65H229.00V325.72H234.10M234.10 333.87H231.00V337.94H234.10M234.10 329.79H228.00V335.90H231.00M229.00 323.69H226.50V332.85H228.00M227.00 302.58H217.20V328.27H226.50" stroke="#444" stroke-width="0.7" fill="none"/>
<text x="214.00" y="318.40" font-size="7.5" text-anchor="end" textLength="18.2" lengthAdjust="spacingAndGlyphs" fill="#222" stroke="#222" stroke-width="0.2">PolyE</text>
<g stroke-width="4.07" filter="url(#bl)">
<path stroke="#e8b8b8" d="M241.7 354.54h1.4M283.7 354.54h1.4M328.5 354.54h1.4M350.2 354.54h1.4M241.7 358.61h1.4M244.4 358.61h1.4M278.3 358.61h1.4M314.9 358.61h1.4M329.8 358.61h1.4M354.3 358.61h1.4M266.1 362.68h1.4M285.1 362.68h2.7M328.5 362.68h1.4M343.4 362.68h1.4M347.5 362.68h1.4M244.4 366.75h1.4M286.5 366.75h1.4M291.9 366.75h1.4M301.4 366.75h1.4M308.1 366.75h1.4M336.6 366.75h1.4M342.1 366.75h1.4M344.8 366.75h1.4M352.9 366.75h1.4M355.6 366.75h1.4M244.4 370.81h1.4M266.1 370.81h1.4M305.4 370.81h1.4M309.5 370.81h1.4M365.1 370.81h4.1M413.9 374.88h2.7M454.6 374.88h1.4M393.6 378.95h1.4M403.1 378.95h1.4M409.9 378.95h1.4M427.5 378.95h1.4M438.3 378.95h1.4M460.0 378.95h1.4M468.2 378.95h1.4M479.0 378.95h1.4M481.7 378.95h1.4M397.7 383.02h1.4M403.1 383.02h1.4M405.8 383.02h1.4M461.4 383.02h1.4M411.2 387.10h1.4M437.0 387.10h1.4M451.9 387.10h1.4M454.6 387.10h1.4M466.8 387.10h1.4"/>
<path stroke="#f0e8f0" d="M243.1 354.54h1.4M464.1 354.54h1.4M386.8 362.68h1.4M468.2 366.75h1.4M278.3 370.81h1.4M378.7 378.95h1.4M390.9 378.95h1.4M264.8 383.02h1.4M243.1 387.10h1.4M340.7 387.10h1.4"/>
<path stroke="#f8f0e8" d="M244.4 354.54h1.4M249.8 354.54h1.4M302.7 354.54h1.4M363.8 354.54h1.4M363.8 358.61h1.4M366.5 358.61h2.7M441.0 358.61h1.4M412.6 362.68h1.4M263.4 366.75h1.4M316.3 366.75h1.4M426.1 366.75h1.4M361.0 370.81h1.4M386.8 370.81h1.4M454.6 370.81h1.4M407.1 378.95h1.4M445.1 378.95h1.4M298.7 383.02h1.4M408.5 383.02h1.4M442.4 383.02h1.4M384.1 387.10h1.4M389.5 387.10h1.4M408.5 387.10h1.4"/>
<path stroke="#d8e0f0" d="M245.8 354.54h1.4M394.9 354.54h1.4M399.0 354.54h1.4M461.4 354.54h1.4M382.7 358.61h1.4M424.8 358.61h1.4M445.1 358.61h2.7M453.3 358.61h1.4M456.0 358.61h1.4M460.0 358.61h1.4M409.9 362.68h1.4M458.7 362.68h1.4M477.7 362.68h1.4M424.8 366.75h1.4M435.6 366.75h2.7M441.0 366.75h1.4M404.4 370.81h1.4M432.9 370.81h1.4M456.0 370.81h1.4M331.2 374.88h1.4M367.8 374.88h1.4M370.5 374.88h1.4M253.9 378.95h1.4M333.9 378.95h1.4M361.0 378.95h1.4M363.8 378.95h1.4M256.6 383.02h1.4M275.6 383.02h1.4M308.1 383.02h2.7M344.8 383.02h1.4M282.4 387.10h1.4M351.5 387.10h1.4"/>
<path stroke="#e8e8f0" d="M247.1 354.54h1.4M253.9 354.54h1.4M262.0 354.54h1.4M304.1 354.54h1.4M308.1 354.54h1.4M428.8 354.54h1.4M458.7 354.54h2.7M384.1 358.61h1.4M392.2 358.61h1.4M397.7 358.61h1.4M411.2 358.61h1.4M415.3 358.61h1.4M420.7 358.61h1.4M423.4 358.61h1.4M449.2 358.61h1.4M461.4 358.61h1.4M320.4 362.68h1.4M392.2 362.68h1.4M399.0 362.68h1.4M411.2 362.68h1.4M424.8 362.68h1.4M266.1 366.75h1.4M310.9 366.75h1.4M329.8 366.75h1.4M392.2 366.75h1.4M427.5 366.75h1.4M431.6 366.75h1.4M434.3 366.75h1.4M438.3 366.75h1.4M442.4 366.75h1.4M446.5 366.75h1.4M473.6 366.75h1.4M279.7 370.81h1.4M340.7 370.81h1.4M362.4 370.81h1.4M431.6 370.81h1.4M479.0 370.81h1.4M302.7 374.88h1.4M305.4 374.88h1.4M324.4 374.88h1.4M333.9 374.88h1.4M359.7 374.88h1.4M369.2 374.88h1.4M283.7 378.95h1.4M339.3 378.95h1.4M348.8 378.95h1.4M332.6 383.02h2.7M350.2 383.02h1.4M424.8 383.02h1.4M263.4 387.10h1.4M281.0 387.10h1.4M319.0 387.10h1.4M343.4 387.10h1.4"/>
<path stroke="#f0e8e8" d="M248.5 354.54h1.4M290.5 354.54h1.4M294.6 354.54h1.4M348.8 354.54h1.4M351.5 354.54h1.4M445.1 354.54h1.4M331.2 358.61h1.4M378.7 358.61h1.4M393.6 358.61h1.4M396.3 358.61h1.4M275.6 362.68h1.4M324.4 362.68h1.4M354.3 362.68h1.4M394.9 362.68h1.4M332.6 366.75h1.4M366.5 366.75h1.4M262.0 370.81h2.7M466.8 370.81h1.4M332.6 374.88h1.4M439.7 374.88h1.4M386.8 378.95h1.4M404.4 378.95h1.4M435.6 378.95h1.4M427.5 383.02h1.4M446.5 383.02h1.4M388.2 387.10h1.4M403.1 387.10h1.4"/>
<path stroke="#e0e0f0" d="M251.2 354.54h2.7M258.0 354.54h1.4M263.4 354.54h1.4M378.7 354.54h1.4M404.4 354.54h1.4M426.1 354.54h2.7M430.2 354.54h1.4M446.5 354.54h1.4M470.9 354.54h2.7M335.3 358.61h1.4M399.0 358.61h1.4M407.1 358.61h1.4M464.1 358.61h2.7M477.7 358.61h1.4M321.7 362.68h1.4M377.3 362.68h1.4M426.1 362.68h1.4M446.5 362.68h1.4M460.0 362.68h1.4M264.8 366.75h1.4M389.5 370.81h1.4M403.1 370.81h1.4M445.1 370.81h1.4M453.3 370.81h1.4M465.5 370.81h1.4M477.7 370.81h1.4M484.4 370.81h1.4M291.9 374.88h1.4M297.3 374.88h1.4M304.1 374.88h1.4M328.5 374.88h1.4M338.0 374.88h1.4M263.4 378.95h4.1M367.8 378.95h2.7M374.6 378.95h1.4M241.7 383.02h1.4M351.5 383.02h1.4M369.2 383.02h1.4M264.8 387.10h1.4M271.5 387.10h1.4M275.6 387.10h1.4M285.1 387.10h1.4M313.6 387.10h4.1M339.3 387.10h1.4"/>
<path stroke="#f0f0f0" d="M255.3 354.54h1.4M305.4 354.54h1.4M369.2 354.54h1.4M332.6 358.61h2.7M338.0 358.61h1.4M377.3 358.61h1.4M447.8 358.61h1.4M355.6 362.68h1.4M376.0 362.68h1.4M389.5 362.68h1.4M396.3 362.68h1.4M479.0 362.68h1.4M319.0 366.75h1.4M333.9 366.75h1.4M381.4 366.75h1.4M432.9 366.75h1.4M469.5 366.75h1.4M317.6 370.81h1.4M339.3 370.81h1.4M363.8 370.81h1.4M446.5 370.81h1.4M317.6 374.88h1.4M451.9 374.88h1.4M267.5 378.95h1.4M377.3 378.95h1.4M388.2 378.95h1.4M392.2 378.95h1.4M434.3 378.95h1.4M243.1 383.02h1.4M310.9 383.02h1.4M348.8 383.02h1.4M420.7 383.02h2.7M272.9 387.10h1.4M317.6 387.10h1.4M347.5 387.10h2.7M394.9 387.10h1.4"/>
<path stroke="#e0e8f0" d="M256.6 354.54h1.4M377.3 354.54h1.4M380.0 358.61h1.4M458.7 358.61h1.4M468.2 358.61h1.4M374.6 362.68h1.4M304.1 370.81h1.4M418.0 370.81h1.4M347.5 374.88h1.4M338.0 378.95h1.4M346.1 383.02h1.4M294.6 387.10h1.4"/>
<path stroke="#f8f0f0" d="M259.3 354.54h2.7M306.8 354.54h1.4M309.5 354.54h1.4M347.5 354.54h1.4M354.3 354.54h1.4M336.6 358.61h1.4M339.3 358.61h2.7M443.8 358.61h1.4M358.3 362.68h1.4M397.7 362.68h1.4M313.6 366.75h2.7M380.0 366.75h1.4M302.7 370.81h1.4M324.4 370.81h1.4M419.4 370.81h1.4M472.2 370.81h1.4M336.6 374.88h1.4M282.4 378.95h1.4M351.5 378.95h1.4M389.5 378.95h1.4M300.0 383.02h1.4M423.4 383.02h1.4M426.1 383.02h1.4"/>
<path stroke="#d8d8f0" d="M264.8 354.54h1.4M380.0 354.54h1.4M462.7 354.54h1.4M469.5 354.54h1.4M419.4 358.61h1.4M380.0 362.68h1.4M404.4 362.68h1.4M408.5 362.68h1.4M434.3 362.68h1.4M445.1 362.68h1.4M472.2 362.68h1.4M470.9 366.75h1.4M380.0 370.81h1.4M394.9 370.81h2.7M399.0 370.81h1.4M424.8 370.81h1.4M435.6 370.81h1.4M319.0 374.88h1.4M348.8 374.88h1.4M285.1 378.95h1.4M302.7 378.95h2.7M336.6 378.95h1.4M352.9 378.95h1.4M362.4 378.95h1.4M244.4 383.02h1.4M297.3 383.02h1.4M321.7 383.02h1.4M359.7 387.10h1.4"/>
<path stroke="#f0e0e0" d="M266.1 354.54h1.4M278.3 354.54h1.4M282.4 354.54h1.4M287.8 354.54h1.4M293.2 354.54h1.4M297.3 354.54h1.4M314.9 354.54h1.4M320.4 354.54h1.4M323.1 354.54h1.4M339.3 354.54h1.4M362.4 354.54h1.4M243.1 358.61h1.4M275.6 358.61h1.4M310.9 358.61h1.4M362.4 358.61h1.4M394.9 358.61h1.4M325.8 362.68h1.4M332.6 362.68h1.4M357.0 362.68h1.4M361.0 362.68h1.4M366.5 362.68h1.4M393.6 362.68h1.4M252.5 366.75h2.7M262.0 366.75h1.4M300.0 366.75h1.4M312.2 366.75h1.4M317.6 366.75h1.4M339.3 366.75h1.4M354.3 366.75h1.4M367.8 366.75h1.4M472.2 366.75h1.4M251.2 370.81h2.7M256.6 370.81h1.4M271.5 370.81h1.4M281.0 370.81h1.4M298.7 370.81h2.7M319.0 370.81h1.4M325.8 370.81h1.4M332.6 370.81h2.7M346.1 370.81h1.4M358.3 370.81h1.4M369.2 370.81h1.4M335.3 374.88h1.4M441.0 374.88h1.4M453.3 374.88h1.4M380.0 378.95h1.4M263.4 383.02h1.4M382.7 383.02h1.4M428.8 383.02h1.4M432.9 383.02h1.4M443.8 383.02h1.4M458.7 383.02h1.4M465.5 383.02h1.4M374.6 387.10h1.4M469.5 387.10h1.4"/>
<path stroke="#f0d8d8" d="M267.5 354.54h1.4M291.9 354.54h1.4M298.7 354.54h2.7M310.9 354.54h1.4M331.2 354.54h1.4M352.9 354.54h1.4M355.6 354.54h1.4M266.1 358.61h1.4M277.0 358.61h1.4M281.0 358.61h1.4M304.1 358.61h1.4M308.1 358.61h1.4M243.1 362.68h1.4M260.7 362.68h1.4M263.4 362.68h1.4M319.0 362.68h1.4M323.1 362.68h1.4M338.0 362.68h1.4M367.8 362.68h1.4M297.3 366.75h1.4M309.5 366.75h1.4M328.5 366.75h1.4M331.2 366.75h1.4M340.7 366.75h1.4M343.4 366.75h1.4M249.8 370.81h1.4M290.5 370.81h1.4M308.1 370.81h1.4M342.1 370.81h2.7M371.9 370.81h1.4M388.2 370.81h1.4M442.4 374.88h1.4M446.5 374.88h1.4M373.2 378.95h1.4M396.3 378.95h1.4M405.8 378.95h1.4M415.3 378.95h2.7M432.9 378.95h1.4M437.0 378.95h1.4M442.4 378.95h1.4M446.5 378.95h1.4M418.0 383.02h2.7M431.6 383.02h1.4M434.3 383.02h1.4M445.1 383.02h1.4M447.8 383.02h1.4M454.6 383.02h1.4M464.1 383.02h1.4M484.4 383.02h1.4M377.3 387.10h1.4M399.0 387.10h1.4M407.1 387.10h1.4M427.5 387.10h1.4M465.5 387.10h1.4M472.2 387.10h1.4M477.7 387.10h1.4"/>
<path stroke="#e8b0b0" d="M268.8 354.54h1.4M275.6 354.54h1.4M313.6 354.54h1.4M329.8 354.54h1.4M366.5 354.54h1.4M245.8 358.61h1.4M251.2 358.61h1.4M256.6 358.61h1.4M272.9 358.61h2.7M300.0 358.61h1.4M309.5 358.61h1.4M328.5 358.61h1.4M344.8 358.61h2.7M371.9 358.61h1.4M267.5 362.68h1.4M271.5 362.68h1.4M287.8 362.68h1.4M290.5 362.68h1.4M301.4 362.68h1.4M305.4 362.68h1.4M312.2 362.68h1.4M316.3 362.68h1.4M327.1 362.68h1.4M329.8 362.68h1.4M243.1 366.75h1.4M249.8 366.75h1.4M274.2 366.75h1.4M346.1 366.75h4.1M370.5 366.75h2.7M255.3 370.81h1.4M270.2 370.81h1.4M272.9 370.81h1.4M313.6 370.81h1.4M320.4 370.81h1.4M419.4 374.88h1.4M456.0 374.88h2.7M465.5 374.88h1.4M385.4 378.95h1.4M423.4 378.95h1.4M458.7 378.95h1.4M470.9 378.95h1.4M374.6 383.02h1.4M389.5 383.02h2.7M412.6 383.02h1.4M439.7 383.02h1.4M451.9 383.02h1.4M466.8 383.02h2.7M472.2 383.02h1.4M483.1 383.02h1.4M381.4 387.10h2.7M400.4 387.10h1.4M447.8 387.10h1.4M476.3 387.10h1.4M480.4 387.10h1.4"/>
<path stroke="#e09898" d="M270.2 354.54h1.4M338.0 354.54h1.4M346.1 354.54h1.4M249.8 358.61h1.4M268.8 358.61h1.4M272.9 362.68h1.4M309.5 362.68h1.4M241.7 366.75h1.4M277.0 366.75h1.4M350.2 366.75h2.7M336.6 370.81h1.4M418.0 374.88h1.4M477.7 374.88h1.4M401.7 378.95h1.4M441.0 378.95h1.4M473.6 378.95h1.4M457.3 383.02h1.4M405.8 387.10h1.4M438.3 387.10h1.4M443.8 387.10h1.4M475.0 387.10h1.4"/>
<path stroke="#e08888" d="M271.5 354.54h2.7M340.7 354.54h2.7M370.5 358.61h1.4M247.1 366.75h1.4M283.7 366.75h1.4M247.1 370.81h2.7M283.7 370.81h1.4M355.6 370.81h1.4M399.0 374.88h1.4M424.8 374.88h1.4M445.1 374.88h1.4M450.5 374.88h1.4M469.5 374.88h1.4M420.7 378.95h1.4M475.0 383.02h1.4M457.3 387.10h1.4"/>
<path stroke="#d87070" d="M274.2 354.54h1.4M351.5 358.61h1.4M289.2 362.68h1.4M401.7 374.88h2.7M411.2 374.88h1.4M453.3 378.95h1.4M483.1 378.95h1.4M473.6 383.02h1.4"/>
<path stroke="#e8a0a0" d="M277.0 354.54h1.4M336.6 354.54h1.4M245.8 362.68h1.4M249.8 362.68h5.4M295.9 362.68h1.4M313.6 362.68h1.4M351.5 362.68h1.4M323.1 366.75h1.4M327.1 366.75h1.4M241.7 370.81h1.4M245.8 370.81h1.4M268.8 370.81h1.4M285.1 370.81h1.4M397.7 378.95h2.7M439.7 378.95h1.4M388.2 383.02h1.4M415.3 383.02h1.4M390.9 387.10h1.4M449.2 387.10h1.4M456.0 387.10h1.4"/>
<path stroke="#f0d0d0" d="M279.7 354.54h2.7M295.9 354.54h1.4M316.3 354.54h1.4M321.7 354.54h1.4M324.4 354.54h2.7M335.3 354.54h1.4M358.3 354.54h1.4M361.0 354.54h1.4M253.9 358.61h1.4M286.5 358.61h1.4M317.6 358.61h2.7M325.8 358.61h1.4M343.4 358.61h1.4M365.1 358.61h1.4M264.8 362.68h1.4M300.0 362.68h1.4M317.6 362.68h1.4M362.4 362.68h1.4M371.9 362.68h1.4M251.2 366.75h1.4M271.5 366.75h1.4M298.7 366.75h1.4M304.1 366.75h1.4M324.4 366.75h1.4M358.3 366.75h1.4M363.8 366.75h1.4M282.4 370.81h1.4M301.4 370.81h1.4M323.1 370.81h1.4M327.1 370.81h1.4M338.0 370.81h1.4M347.5 370.81h1.4M352.9 370.81h1.4M432.9 374.88h1.4M411.2 378.95h1.4M413.9 378.95h1.4M431.6 378.95h1.4M477.7 378.95h1.4M386.8 383.02h1.4M400.4 383.02h1.4M411.2 383.02h1.4M449.2 383.02h1.4M460.0 383.02h1.4M376.0 387.10h1.4M386.8 387.10h1.4M393.6 387.10h1.4M409.9 387.10h1.4M419.4 387.10h1.4M428.8 387.10h1.4M431.6 387.10h1.4"/>
<path stroke="#f0c8c8" d="M285.1 354.54h1.4M289.2 354.54h1.4M327.1 354.54h1.4M359.7 354.54h1.4M367.8 354.54h1.4M371.9 354.54h1.4M279.7 358.61h1.4M290.5 358.61h1.4M347.5 358.61h2.7M369.2 358.61h1.4M442.4 358.61h1.4M244.4 362.68h1.4M258.0 362.68h1.4M262.0 362.68h1.4M270.2 362.68h1.4M274.2 362.68h1.4M277.0 362.68h1.4M279.7 362.68h2.7M298.7 362.68h1.4M333.9 362.68h2.7M340.7 362.68h1.4M352.9 362.68h1.4M363.8 362.68h1.4M369.2 362.68h2.7M256.6 366.75h1.4M272.9 366.75h1.4M278.3 366.75h1.4M282.4 366.75h1.4M287.8 366.75h1.4M290.5 366.75h1.4M302.7 366.75h1.4M305.4 366.75h2.7M321.7 366.75h1.4M335.3 366.75h1.4M359.7 366.75h4.1M264.8 370.81h1.4M277.0 370.81h1.4M291.9 370.81h1.4M314.9 370.81h2.7M329.8 370.81h1.4M335.3 370.81h1.4M438.3 374.88h1.4M447.8 374.88h1.4M384.1 378.95h1.4M394.9 378.95h1.4M412.6 378.95h1.4M418.0 378.95h2.7M381.4 383.02h1.4M385.4 383.02h1.4M396.3 383.02h1.4M404.4 383.02h1.4M409.9 383.02h1.4M435.6 383.02h2.7M441.0 383.02h1.4M396.3 387.10h2.7M434.3 387.10h1.4M446.5 387.10h1.4M453.3 387.10h1.4M462.7 387.10h1.4M468.2 387.10h1.4M470.9 387.10h1.4M479.0 387.10h1.4"/>
<path stroke="#f0e0d8" d="M286.5 354.54h1.4M282.4 358.61h1.4M285.1 358.61h1.4M339.3 362.68h1.4M267.5 366.75h1.4M253.9 370.81h1.4M344.8 370.81h1.4M408.5 378.95h1.4M380.0 383.02h1.4M392.2 383.02h1.4M404.4 387.10h1.4M418.0 387.10h1.4M464.1 387.10h1.4"/>
<path stroke="#f0c0c0" d="M301.4 354.54h1.4M319.0 354.54h1.4M333.9 354.54h1.4M365.1 354.54h1.4M370.5 354.54h1.4M252.5 358.61h1.4M289.2 358.61h1.4M291.9 358.61h1.4M312.2 358.61h1.4M316.3 358.61h1.4M320.4 358.61h1.4M323.1 358.61h2.7M327.1 358.61h1.4M361.0 358.61h1.4M256.6 362.68h1.4M259.3 362.68h1.4M268.8 362.68h1.4M291.9 362.68h1.4M297.3 362.68h1.4M304.1 362.68h1.4M306.8 362.68h2.7M310.9 362.68h1.4M336.6 362.68h1.4M346.1 362.68h1.4M365.1 362.68h1.4M260.7 366.75h1.4M281.0 366.75h1.4M320.4 366.75h1.4M338.0 366.75h1.4M365.1 366.75h1.4M243.1 370.81h1.4M258.0 370.81h1.4M260.7 370.81h1.4M267.5 370.81h1.4M274.2 370.81h1.4M287.8 370.81h2.7M297.3 370.81h1.4M312.2 370.81h1.4M328.5 370.81h1.4M348.8 370.81h1.4M370.5 370.81h1.4M434.3 374.88h1.4M458.7 374.88h2.7M422.1 378.95h1.4M424.8 378.95h2.7M428.8 378.95h1.4M465.5 378.95h1.4M472.2 378.95h1.4M378.7 383.02h1.4M393.6 383.02h1.4M401.7 383.02h1.4M430.2 383.02h1.4M453.3 383.02h1.4M456.0 383.02h1.4M462.7 383.02h1.4M469.5 383.02h1.4M477.7 383.02h1.4M481.7 383.02h1.4M380.0 387.10h1.4M385.4 387.10h1.4M422.1 387.10h2.7M435.6 387.10h1.4M442.4 387.10h1.4M445.1 387.10h1.4M458.7 387.10h1.4M481.7 387.10h1.4M484.4 387.10h1.4"/>
<path stroke="#e8a8a8" d="M312.2 354.54h1.4M302.7 358.61h1.4M313.6 358.61h1.4M358.3 358.61h1.4M282.4 362.68h1.4M314.9 362.68h1.4M348.8 362.68h1.4M245.8 366.75h1.4M258.0 366.75h2.7M285.1 366.75h1.4M286.5 370.81h1.4M295.9 370.81h1.4M321.7 370.81h1.4M351.5 370.81h1.4M431.6 374.88h1.4M461.4 374.88h1.4M464.1 374.88h1.4M466.8 374.88h2.7M382.7 378.95h1.4M430.2 378.95h1.4M443.8 378.95h1.4M447.8 378.95h1.4M466.8 378.95h1.4M469.5 378.95h1.4M476.3 378.95h1.4M413.9 383.02h1.4M479.0 383.02h1.4M378.7 387.10h1.4M392.2 387.10h1.4M401.7 387.10h1.4M416.6 387.10h1.4M420.7 387.10h1.4M460.0 387.10h1.4"/>
<path stroke="#f0d8d0" d="M317.6 354.54h1.4M306.8 358.61h1.4M342.1 358.61h1.4M359.7 358.61h1.4M359.7 362.68h1.4M394.9 383.02h1.4M438.3 383.02h1.4"/>
<path stroke="#f0d0c8" d="M332.6 354.54h1.4M357.0 354.54h1.4M267.5 358.61h1.4M287.8 358.61h1.4M305.4 358.61h1.4M321.7 358.61h1.4M302.7 362.68h1.4M331.2 362.68h1.4M306.8 370.81h1.4M310.9 370.81h1.4M399.0 383.02h1.4M412.6 387.10h1.4M424.8 387.10h2.7"/>
<path stroke="#d06060" d="M343.4 354.54h1.4M270.2 358.61h1.4M248.5 366.75h1.4M350.2 370.81h1.4M428.8 374.88h1.4M457.3 378.95h1.4M376.0 383.02h1.4M480.4 383.02h1.4"/>
<path stroke="#d06868" d="M344.8 354.54h1.4M247.1 358.61h1.4M377.3 374.88h1.4M386.8 374.88h1.4M400.4 374.88h1.4M479.0 374.88h1.4M481.7 374.88h1.4M450.5 383.02h1.4"/>
<path stroke="#7090c8" d="M373.2 354.54h1.4"/>
<path stroke="#b8c0e8" d="M374.6 354.54h1.4M407.1 354.54h1.4M480.4 354.54h1.4M427.5 358.61h1.4M434.3 358.61h1.4M461.4 362.68h1.4M388.2 366.75h1.4M415.3 366.75h1.4M449.2 366.75h1.4M475.0 366.75h1.4M393.6 370.81h1.4M426.1 370.81h1.4M437.0 370.81h1.4M447.8 370.81h1.4M475.0 370.81h1.4M290.5 374.88h1.4M309.5 374.88h1.4M316.3 374.88h1.4M351.5 374.88h1.4M361.0 374.88h1.4M366.5 374.88h1.4M258.0 378.95h1.4M281.0 378.95h1.4M297.3 378.95h1.4M308.1 378.95h1.4M319.0 378.95h1.4M321.7 378.95h1.4M358.3 378.95h1.4M328.5 383.02h1.4M278.3 387.10h1.4M283.7 387.10h1.4M287.8 387.10h1.4M297.3 387.10h1.4M302.7 387.10h1.4"/>
<path stroke="#7890d0" d="M376.0 354.54h1.4M397.7 354.54h1.4M409.9 354.54h1.4M450.5 354.54h1.4M397.7 366.75h1.4M443.8 366.75h1.4M295.9 374.88h1.4M301.4 378.95h1.4M255.3 383.02h1.4M289.2 387.10h1.4M321.7 387.10h1.4"/>
<path stroke="#b0c0e8" d="M381.4 354.54h1.4M373.2 358.61h1.4M401.7 358.61h1.4M450.5 358.61h1.4M430.2 362.68h1.4M447.8 362.68h1.4M451.9 362.68h1.4M386.8 366.75h1.4M403.1 366.75h1.4M419.4 366.75h1.4M423.4 366.75h1.4M430.2 366.75h1.4M477.7 366.75h1.4M373.2 370.81h1.4M385.4 370.81h1.4M362.4 374.88h1.4M365.1 374.88h1.4M298.7 378.95h2.7M323.1 378.95h1.4M328.5 378.95h1.4M350.2 378.95h1.4M253.9 383.02h1.4M266.1 383.02h1.4M272.9 383.02h1.4M282.4 383.02h1.4M312.2 383.02h1.4M338.0 383.02h1.4M258.0 387.10h1.4M260.7 387.10h1.4M266.1 387.10h1.4M274.2 387.10h1.4M290.5 387.10h1.4M293.2 387.10h1.4M295.9 387.10h1.4M350.2 387.10h1.4"/>
<path stroke="#a8b8e0" d="M382.7 354.54h1.4M392.2 354.54h1.4M396.3 354.54h1.4M401.7 354.54h1.4M413.9 354.54h1.4M418.0 354.54h1.4M432.9 354.54h1.4M453.3 354.54h1.4M484.4 354.54h1.4M388.2 358.61h1.4M400.4 358.61h1.4M404.4 358.61h1.4M428.8 358.61h1.4M432.9 358.61h1.4M373.2 362.68h1.4M420.7 362.68h1.4M437.0 362.68h2.7M441.0 362.68h1.4M476.3 362.68h1.4M483.1 362.68h1.4M374.6 366.75h1.4M394.9 366.75h1.4M413.9 366.75h1.4M456.0 366.75h1.4M458.7 366.75h1.4M449.2 370.81h1.4M473.6 370.81h1.4M252.5 374.88h1.4M279.7 374.88h2.7M243.1 378.95h4.1M279.7 378.95h1.4M290.5 378.95h1.4M295.9 378.95h1.4M310.9 378.95h1.4M314.9 378.95h1.4M344.8 378.95h1.4M355.6 378.95h1.4M278.3 383.02h1.4M361.0 383.02h1.4M244.4 387.10h1.4M253.9 387.10h1.4M268.8 387.10h1.4M277.0 387.10h1.4M279.7 387.10h1.4M312.2 387.10h1.4M354.3 387.10h1.4M358.3 387.10h1.4M361.0 387.10h1.4"/>
<path stroke="#c0c8e8" d="M384.1 354.54h1.4M389.5 354.54h2.7M393.6 354.54h1.4M408.5 354.54h1.4M422.1 354.54h1.4M442.4 354.54h1.4M468.2 354.54h1.4M473.6 354.54h1.4M374.6 358.61h1.4M381.4 358.61h1.4M386.8 358.61h1.4M437.0 358.61h1.4M470.9 358.61h1.4M378.7 362.68h1.4M384.1 362.68h1.4M401.7 362.68h1.4M427.5 362.68h1.4M468.2 362.68h1.4M470.9 362.68h1.4M384.1 366.75h1.4M389.5 366.75h2.7M408.5 366.75h1.4M411.2 366.75h1.4M418.0 366.75h1.4M484.4 366.75h1.4M374.6 370.81h1.4M378.7 370.81h1.4M390.9 370.81h2.7M401.7 370.81h1.4M415.3 370.81h1.4M430.2 370.81h1.4M438.3 370.81h2.7M458.7 370.81h4.1M469.5 370.81h1.4M476.3 370.81h1.4M481.7 370.81h1.4M253.9 374.88h1.4M282.4 374.88h1.4M321.7 374.88h1.4M325.8 374.88h2.7M329.8 374.88h1.4M346.1 374.88h1.4M268.8 378.95h1.4M287.8 378.95h1.4M291.9 378.95h1.4M343.4 378.95h1.4M245.8 383.02h1.4M249.8 383.02h1.4M259.3 383.02h1.4M267.5 383.02h1.4M281.0 383.02h1.4M290.5 383.02h1.4M301.4 383.02h2.7M314.9 383.02h1.4M331.2 383.02h1.4M339.3 383.02h1.4M358.3 383.02h1.4M362.4 383.02h1.4M251.2 387.10h1.4M262.0 387.10h1.4M298.7 387.10h1.4M328.5 387.10h2.7M338.0 387.10h1.4"/>
<path stroke="#a0b0e0" d="M385.4 354.54h1.4M420.7 354.54h1.4M435.6 354.54h1.4M443.8 354.54h1.4M447.8 354.54h1.4M405.8 358.61h1.4M409.9 358.61h1.4M431.6 358.61h1.4M476.3 358.61h1.4M480.4 358.61h1.4M415.3 362.68h1.4M418.0 362.68h1.4M450.5 362.68h1.4M465.5 362.68h2.7M475.0 362.68h1.4M400.4 366.75h2.7M420.7 366.75h2.7M450.5 366.75h1.4M466.8 366.75h1.4M443.8 370.81h1.4M450.5 370.81h1.4M457.3 370.81h1.4M293.2 374.88h1.4M251.2 378.95h1.4M256.6 378.95h1.4M259.3 378.95h1.4M293.2 378.95h1.4M305.4 378.95h2.7M325.8 378.95h1.4M331.2 378.95h1.4M271.5 383.02h1.4M277.0 383.02h1.4M286.5 383.02h1.4M324.4 383.02h2.7M252.5 387.10h1.4M267.5 387.10h1.4M310.9 387.10h1.4M327.1 387.10h1.4M363.8 387.10h1.4M366.5 387.10h1.4M369.2 387.10h2.7"/>
<path stroke="#b0b8e8" d="M386.8 354.54h1.4M385.4 358.61h1.4M393.6 366.75h1.4M412.6 366.75h1.4M249.8 387.10h1.4M331.2 387.10h1.4"/>
<path stroke="#a8b0e0" d="M388.2 354.54h1.4M454.6 354.54h1.4M309.5 387.10h1.4"/>
<path stroke="#d0d8f0" d="M400.4 354.54h1.4M431.6 354.54h1.4M477.7 354.54h1.4M376.0 358.61h1.4M389.5 358.61h2.7M412.6 358.61h1.4M422.1 358.61h1.4M426.1 358.61h1.4M451.9 358.61h1.4M457.3 358.61h1.4M462.7 358.61h1.4M479.0 358.61h1.4M484.4 358.61h1.4M388.2 362.68h1.4M422.1 362.68h1.4M431.6 362.68h2.7M453.3 362.68h1.4M484.4 362.68h1.4M428.8 366.75h1.4M447.8 366.75h1.4M384.1 370.81h1.4M397.7 370.81h1.4M408.5 370.81h2.7M423.4 370.81h1.4M451.9 370.81h1.4M462.7 370.81h2.7M468.2 370.81h1.4M470.9 370.81h1.4M480.4 370.81h1.4M298.7 374.88h1.4M306.8 374.88h1.4M310.9 374.88h1.4M323.1 374.88h1.4M371.9 374.88h1.4M286.5 378.95h1.4M335.3 378.95h1.4M258.0 383.02h1.4M335.3 383.02h2.7M340.7 383.02h1.4M343.4 383.02h1.4M366.5 383.02h1.4M259.3 387.10h1.4M270.2 387.10h1.4M300.0 387.10h1.4M346.1 387.10h1.4"/>
<path stroke="#c8d0e8" d="M403.1 354.54h1.4M405.8 354.54h1.4M419.4 354.54h1.4M423.4 354.54h1.4M434.3 354.54h1.4M475.0 354.54h2.7M479.0 354.54h1.4M413.9 358.61h1.4M416.6 358.61h1.4M438.3 358.61h1.4M472.2 358.61h1.4M481.7 358.61h2.7M390.9 362.68h1.4M400.4 362.68h1.4M403.1 362.68h1.4M407.1 362.68h1.4M435.6 362.68h1.4M449.2 362.68h1.4M454.6 362.68h1.4M469.5 362.68h1.4M481.7 362.68h1.4M382.7 366.75h1.4M416.6 366.75h1.4M439.7 366.75h1.4M454.6 366.75h1.4M461.4 366.75h1.4M479.0 366.75h1.4M381.4 370.81h1.4M405.8 370.81h2.7M411.2 370.81h1.4M420.7 370.81h2.7M434.3 370.81h1.4M483.1 370.81h1.4M300.0 374.88h1.4M314.9 374.88h1.4M358.3 374.88h1.4M363.8 374.88h1.4M278.3 378.95h1.4M347.5 378.95h1.4M354.3 378.95h1.4M366.5 378.95h1.4M370.5 378.95h2.7M260.7 383.02h1.4M274.2 383.02h1.4M304.1 383.02h1.4M319.0 383.02h1.4M354.3 383.02h1.4M363.8 383.02h1.4M370.5 383.02h1.4M256.6 387.10h1.4M286.5 387.10h1.4M291.9 387.10h1.4M355.6 387.10h1.4"/>
<path stroke="#88a0d8" d="M411.2 354.54h1.4M416.6 354.54h1.4M483.1 354.54h1.4M464.1 366.75h1.4M476.3 366.75h1.4M244.4 374.88h1.4M251.2 374.88h1.4M249.8 378.95h1.4M342.1 378.95h1.4M270.2 383.02h1.4M293.2 383.02h1.4M247.1 387.10h1.4"/>
<path stroke="#98a8e0" d="M412.6 354.54h1.4M443.8 362.68h1.4M405.8 366.75h1.4M275.6 374.88h1.4M287.8 374.88h1.4M340.7 374.88h1.4M252.5 378.95h1.4M320.4 378.95h1.4M327.1 378.95h1.4M332.6 378.95h1.4M346.1 378.95h1.4M365.1 378.95h1.4M252.5 383.02h1.4M241.7 387.10h1.4M245.8 387.10h1.4M306.8 387.10h1.4M325.8 387.10h1.4M332.6 387.10h1.4M336.6 387.10h1.4"/>
<path stroke="#90a0d8" d="M415.3 354.54h1.4M456.0 354.54h1.4M475.0 358.61h1.4M416.6 362.68h1.4M419.4 362.68h1.4M456.0 362.68h1.4M464.1 362.68h1.4M377.3 366.75h1.4M385.4 366.75h1.4M409.9 366.75h1.4M462.7 366.75h1.4M465.5 366.75h1.4M277.0 374.88h1.4M339.3 374.88h1.4M350.2 374.88h1.4M241.7 378.95h1.4M260.7 378.95h1.4M275.6 378.95h1.4M313.6 378.95h1.4M329.8 378.95h1.4M320.4 387.10h1.4M367.8 387.10h1.4"/>
<path stroke="#d0d0f0" d="M424.8 354.54h1.4M465.5 354.54h1.4M481.7 354.54h1.4M466.8 358.61h1.4M381.4 362.68h1.4M442.4 362.68h1.4M407.1 366.75h1.4M460.0 366.75h1.4M340.7 378.95h1.4M359.7 378.95h1.4M268.8 383.02h1.4M291.9 383.02h1.4M347.5 383.02h1.4M342.1 387.10h1.4"/>
<path stroke="#8098d0" d="M437.0 354.54h1.4M373.2 366.75h1.4M243.1 374.88h1.4M263.4 374.88h1.4M283.7 374.88h1.4M316.3 378.95h1.4M283.7 383.02h1.4M342.1 383.02h1.4M305.4 387.10h1.4"/>
<path stroke="#5870b8" d="M438.3 354.54h1.4M266.1 374.88h1.4M312.2 374.88h1.4"/>
<path stroke="#285098" d="M439.7 354.54h1.4M255.3 374.88h1.4M248.5 387.10h1.4"/>
<path stroke="#6080c0" d="M441.0 354.54h1.4"/>
<path stroke="#b8c8e8" d="M449.2 354.54h1.4M403.1 358.61h1.4M435.6 358.61h1.4M382.7 362.68h1.4M405.8 362.68h1.4M413.9 362.68h1.4M428.8 362.68h1.4M480.4 362.68h1.4M378.7 366.75h1.4M404.4 366.75h1.4M480.4 366.75h2.7M413.9 370.81h1.4M441.0 370.81h1.4M278.3 374.88h1.4M301.4 374.88h1.4M320.4 374.88h1.4M344.8 374.88h1.4M352.9 374.88h1.4M312.2 378.95h1.4M324.4 378.95h1.4M285.1 383.02h1.4M316.3 383.02h1.4M323.1 383.02h1.4M327.1 383.02h1.4M352.9 383.02h1.4M365.1 383.02h1.4M371.9 383.02h1.4M304.1 387.10h1.4"/>
<path stroke="#98a8d8" d="M451.9 354.54h1.4M462.7 362.68h1.4M399.0 366.75h1.4M377.3 370.81h1.4M262.0 378.95h1.4M270.2 378.95h1.4M294.6 378.95h1.4M317.6 378.95h1.4M251.2 383.02h1.4M287.8 383.02h2.7M362.4 387.10h1.4"/>
<path stroke="#8898d0" d="M457.3 354.54h1.4M457.3 362.68h1.4M255.3 378.95h1.4M355.6 383.02h1.4"/>
<path stroke="#98b0e0" d="M466.8 354.54h1.4M427.5 370.81h1.4"/>
<path stroke="#782020" d="M248.5 358.61h1.4M381.4 374.88h1.4M473.6 374.88h1.4"/>
<path stroke="#e09090" d="M255.3 358.61h1.4M258.0 358.61h1.4M271.5 358.61h1.4M283.7 358.61h1.4M294.6 358.61h1.4M297.3 358.61h1.4M293.2 362.68h1.4M255.3 366.75h1.4M268.8 366.75h2.7M279.7 366.75h1.4M259.3 370.81h1.4M293.2 370.81h2.7M354.3 370.81h1.4M357.0 370.81h1.4M412.6 374.88h1.4M422.1 374.88h1.4M435.6 374.88h2.7M443.8 374.88h1.4M462.7 374.88h1.4M472.2 374.88h1.4M400.4 378.95h1.4M454.6 378.95h1.4M484.4 378.95h1.4M373.2 383.02h1.4M377.3 383.02h1.4M416.6 383.02h1.4M413.9 387.10h2.7M473.6 387.10h1.4"/>
<path stroke="#d87878" d="M259.3 358.61h1.4M263.4 358.61h1.4M295.9 358.61h1.4M298.7 358.61h1.4M301.4 358.61h1.4M247.1 362.68h1.4M283.7 362.68h1.4M342.1 362.68h1.4M293.2 366.75h1.4M380.0 374.88h1.4M416.6 374.88h1.4M420.7 374.88h1.4M470.9 374.88h1.4M476.3 383.02h1.4M483.1 387.10h1.4"/>
<path stroke="#802020" d="M260.7 358.61h1.4"/>
<path stroke="#c04848" d="M262.0 358.61h1.4M255.3 362.68h1.4"/>
<path stroke="#d88080" d="M264.8 358.61h1.4M294.6 362.68h1.4M289.2 366.75h1.4M295.9 366.75h1.4M374.6 374.88h1.4M451.9 378.95h1.4M461.4 378.95h1.4M480.4 378.95h1.4M373.2 387.10h1.4M441.0 387.10h1.4"/>
<path stroke="#c85858" d="M293.2 358.61h1.4M357.0 358.61h1.4M357.0 366.75h1.4M378.7 374.88h1.4M423.4 374.88h1.4M426.1 374.88h1.4M449.2 378.95h1.4"/>
<path stroke="#c05050" d="M350.2 358.61h1.4M294.6 366.75h1.4M376.0 374.88h1.4M427.5 374.88h1.4M430.2 374.88h1.4M464.1 378.95h1.4"/>
<path stroke="#e0a0a0" d="M352.9 358.61h1.4M355.6 358.61h1.4M241.7 362.68h1.4M430.2 387.10h1.4"/>
<path stroke="#c8d0f0" d="M408.5 358.61h1.4M418.0 358.61h1.4M439.7 358.61h1.4M454.6 358.61h1.4M469.5 358.61h1.4M385.4 362.68h1.4M423.4 362.68h1.4M453.3 366.75h1.4M382.7 370.81h1.4M400.4 370.81h1.4M412.6 370.81h1.4M428.8 370.81h1.4M442.4 370.81h1.4M306.8 383.02h1.4M317.6 383.02h1.4M367.8 383.02h1.4M344.8 387.10h1.4M352.9 387.10h1.4M371.9 387.10h1.4"/>
<path stroke="#6880c8" d="M430.2 358.61h1.4M355.6 374.88h1.4"/>
<path stroke="#7088c8" d="M473.6 358.61h1.4M439.7 362.68h1.4M483.1 366.75h1.4M256.6 374.88h1.4M286.5 374.88h1.4M289.2 378.95h1.4M324.4 387.10h1.4M365.1 387.10h1.4"/>
<path stroke="#a83030" d="M248.5 362.68h1.4M392.2 374.88h1.4M396.3 374.88h2.7M408.5 374.88h1.4M476.3 374.88h1.4M450.5 378.95h1.4"/>
<path stroke="#f0c0b8" d="M278.3 362.68h1.4M275.6 366.75h1.4M325.8 366.75h1.4M470.9 383.02h1.4M432.9 387.10h1.4M461.4 387.10h1.4"/>
<path stroke="#f0c8c0" d="M344.8 362.68h1.4M275.6 370.81h1.4M376.0 378.95h1.4M381.4 378.95h1.4"/>
<path stroke="#b84848" d="M350.2 362.68h1.4M404.4 374.88h1.4"/>
<path stroke="#90a8d8" d="M473.6 362.68h1.4M289.2 374.88h1.4M279.7 383.02h1.4M305.4 383.02h1.4M320.4 383.02h1.4M308.1 387.10h1.4M333.9 387.10h1.4"/>
<path stroke="#f0e8e0" d="M369.2 366.75h1.4M331.2 370.81h1.4M359.7 370.81h1.4M449.2 374.88h1.4M384.1 383.02h1.4M407.1 383.02h1.4"/>
<path stroke="#5070b8" d="M376.0 366.75h1.4M241.7 374.88h1.4M260.7 374.88h1.4M274.2 378.95h1.4M301.4 387.10h1.4"/>
<path stroke="#b0b8e0" d="M396.3 366.75h1.4M445.1 366.75h1.4M451.9 366.75h1.4M308.1 374.88h1.4M343.4 374.88h1.4M354.3 374.88h1.4M309.5 378.95h1.4M262.0 383.02h1.4M313.6 383.02h1.4M329.8 383.02h1.4M359.7 383.02h1.4M335.3 387.10h1.4"/>
<path stroke="#8898d8" d="M457.3 366.75h1.4M272.9 378.95h1.4M247.1 383.02h1.4M255.3 387.10h1.4"/>
<path stroke="#5878c0" d="M376.0 370.81h1.4M249.8 374.88h1.4M258.0 374.88h1.4M262.0 374.88h1.4M264.8 374.88h1.4M285.1 374.88h1.4M294.6 374.88h1.4M323.1 387.10h1.4"/>
<path stroke="#c0d0e8" d="M416.6 370.81h1.4"/>
<path stroke="#4870b0" d="M245.8 374.88h1.4"/>
<path stroke="#204890" d="M247.1 374.88h1.4"/>
<path stroke="#082860" d="M248.5 374.88h1.4M248.5 378.95h1.4"/>
<path stroke="#4060a8" d="M259.3 374.88h1.4M313.6 374.88h1.4M247.1 378.95h1.4"/>
<path stroke="#4868b0" d="M267.5 374.88h1.4M272.9 374.88h1.4M357.0 374.88h1.4"/>
<path stroke="#305898" d="M268.8 374.88h1.4"/>
<path stroke="#103070" d="M270.2 374.88h1.4"/>
<path stroke="#3058a0" d="M271.5 374.88h1.4"/>
<path stroke="#6888c8" d="M274.2 374.88h1.4M342.1 374.88h1.4M277.0 378.95h1.4M295.9 383.02h1.4M357.0 383.02h1.4"/>
<path stroke="#581818" d="M373.2 374.88h1.4"/>
<path stroke="#481010" d="M382.7 374.88h1.4M390.9 374.88h1.4M483.1 374.88h1.4"/>
<path stroke="#a02828" d="M384.1 374.88h1.4M394.9 374.88h1.4M407.1 374.88h1.4M484.4 374.88h1.4M450.5 387.10h1.4"/>
<path stroke="#902828" d="M385.4 374.88h1.4"/>
<path stroke="#902020" d="M388.2 374.88h1.4M462.7 378.95h1.4"/>
<path stroke="#b03838" d="M389.5 374.88h1.4M393.6 374.88h1.4M475.0 374.88h1.4"/>
<path stroke="#601818" d="M405.8 374.88h1.4"/>
<path stroke="#701818" d="M409.9 374.88h1.4"/>
<path stroke="#b84040" d="M480.4 374.88h1.4"/>
<path stroke="#6080c8" d="M271.5 378.95h1.4"/>
<path stroke="#8090d0" d="M357.0 378.95h1.4"/>
<path stroke="#e8b8b0" d="M456.0 378.95h1.4"/>
<path stroke="#d88888" d="M475.0 378.95h1.4M439.7 387.10h1.4"/>
<path stroke="#4068b0" d="M248.5 383.02h1.4"/>
<path stroke="#7890c8" d="M294.6 383.02h1.4"/>
<path stroke="#6078c0" d="M357.0 387.10h1.4"/>
</g>
<rect x="234.1" y="352.50" width="5.8" height="20.35" fill="#bf6912"/>
<rect x="234.1" y="372.85" width="5.8" height="16.28" fill="#68b232"/>
<path d="M234.10 366.75H232.00V370.81H234.10M234.10 362.68H230.50V368.78H232.00M234.10 358.61H229.50V365.73H230.50M234.10 354.54H227.80V362.17H229.50M234.10 383.02H230.50V387.10H234.10M234.10 378.95H228.50V385.06H230.50M234.10 374.88H226.70V382.01H228.50M227.80 358.35H217.30V378.45H226.70" stroke="#444" stroke-width="0.7" fill="none"/>
<text x="214.00" y="371.60" font-size="7.5" text-anchor="end" textLength="23.2" lengthAdjust="spacingAndGlyphs" fill="#222" stroke="#222" stroke-width="0.2">OrthoE</text>
<defs><linearGradient id="lg0" x1="0" y1="0" x2="0" y2="1"><stop offset="0.00" stop-color="#862020"/><stop offset="0.05" stop-color="#a52e2e"/><stop offset="0.10" stop-color="#b54040"/><stop offset="0.15" stop-color="#c55353"/><stop offset="0.20" stop-color="#d26868"/><stop offset="0.25" stop-color="#db8383"/><stop offset="0.30" stop-color="#e49e9e"/><stop offset="0.35" stop-color="#ebb6b6"/><stop offset="0.40" stop-color="#eec8c8"/><stop offset="0.45" stop-color="#f1dbda"/><stop offset="0.50" stop-color="#f4eeec"/><stop offset="0.55" stop-color="#e4e5f0"/><stop offset="0.60" stop-color="#ced4ed"/><stop offset="0.65" stop-color="#b8c3e7"/><stop offset="0.70" stop-color="#a2b2e0"/><stop offset="0.75" stop-color="#899ed5"/><stop offset="0.80" stop-color="#7089ca"/><stop offset="0.85" stop-color="#5776be"/><stop offset="0.90" stop-color="#4467ae"/><stop offset="0.95" stop-color="#32589f"/><stop offset="1.00" stop-color="#1f4a90"/></linearGradient></defs>
<rect x="488.3" y="200.8" width="7.3" height="40.10" fill="url(#lg0)"/>
<text x="498.10" y="208.00" font-size="7.0" fill="#333" stroke="#333" stroke-width="0.15">2</text>
<text x="498.10" y="216.20" font-size="7.0" fill="#333" stroke="#333" stroke-width="0.15">1</text>
<text x="498.10" y="223.70" font-size="7.0" fill="#333" stroke="#333" stroke-width="0.15">0</text>
<text x="497.80" y="231.80" font-size="7.0" textLength="6.9" lengthAdjust="spacingAndGlyphs" fill="#333" stroke="#333" stroke-width="0.15">−1</text>
<text x="497.80" y="239.50" font-size="7.0" textLength="6.9" lengthAdjust="spacingAndGlyphs" fill="#333" stroke="#333" stroke-width="0.15">−2</text>
<defs><linearGradient id="lg1" x1="0" y1="0" x2="0" y2="1"><stop offset="0.00" stop-color="#9b2626"/><stop offset="0.05" stop-color="#ad3737"/><stop offset="0.10" stop-color="#bc4949"/><stop offset="0.15" stop-color="#cb5b5b"/><stop offset="0.20" stop-color="#d67272"/><stop offset="0.25" stop-color="#de8c8c"/><stop offset="0.30" stop-color="#e6a6a6"/><stop offset="0.35" stop-color="#ebbbba"/><stop offset="0.40" stop-color="#eecdcc"/><stop offset="0.45" stop-color="#f1dfdd"/><stop offset="0.50" stop-color="#f4f1ef"/><stop offset="0.55" stop-color="#e1e3f0"/><stop offset="0.60" stop-color="#cdd3ec"/><stop offset="0.65" stop-color="#b8c2e6"/><stop offset="0.70" stop-color="#a2b2e0"/><stop offset="0.75" stop-color="#8a9fd6"/><stop offset="0.80" stop-color="#728bcb"/><stop offset="0.85" stop-color="#5977bf"/><stop offset="0.90" stop-color="#4769b1"/><stop offset="0.95" stop-color="#355ba2"/><stop offset="1.00" stop-color="#234d93"/></linearGradient></defs>
<rect x="488.3" y="250.9" width="7.3" height="36.00" fill="url(#lg1)"/>
<text x="498.10" y="256.80" font-size="7.0" fill="#333" stroke="#333" stroke-width="0.15">2</text>
<text x="498.10" y="264.40" font-size="7.0" fill="#333" stroke="#333" stroke-width="0.15">1</text>
<text x="498.10" y="272.40" font-size="7.0" fill="#333" stroke="#333" stroke-width="0.15">0</text>
<text x="497.80" y="278.90" font-size="7.0" textLength="6.9" lengthAdjust="spacingAndGlyphs" fill="#333" stroke="#333" stroke-width="0.15">−1</text>
<text x="497.80" y="286.20" font-size="7.0" textLength="6.9" lengthAdjust="spacingAndGlyphs" fill="#333" stroke="#333" stroke-width="0.15">−2</text>
<defs><linearGradient id="lg2" x1="0" y1="0" x2="0" y2="1"><stop offset="0.00" stop-color="#4a1010"/><stop offset="0.05" stop-color="#731b1b"/><stop offset="0.10" stop-color="#a02828"/><stop offset="0.15" stop-color="#b23d3d"/><stop offset="0.20" stop-color="#c55353"/><stop offset="0.25" stop-color="#d46c6c"/><stop offset="0.30" stop-color="#de8c8c"/><stop offset="0.35" stop-color="#e8abab"/><stop offset="0.40" stop-color="#edc2c2"/><stop offset="0.45" stop-color="#f0d8d7"/><stop offset="0.50" stop-color="#f4eeec"/><stop offset="0.55" stop-color="#e0e2f0"/><stop offset="0.60" stop-color="#c7ceeb"/><stop offset="0.65" stop-color="#adbae3"/><stop offset="0.70" stop-color="#91a4d9"/><stop offset="0.75" stop-color="#748ccb"/><stop offset="0.80" stop-color="#5775bd"/><stop offset="0.85" stop-color="#4164ab"/><stop offset="0.90" stop-color="#2b539a"/><stop offset="0.95" stop-color="#194183"/><stop offset="1.00" stop-color="#0d2e67"/></linearGradient></defs>
<rect x="488.3" y="295.4" width="7.3" height="48.80" fill="url(#lg2)"/>
<text x="498.10" y="306.30" font-size="7.0" fill="#333" stroke="#333" stroke-width="0.15">2</text>
<text x="498.10" y="314.40" font-size="7.0" fill="#333" stroke="#333" stroke-width="0.15">1</text>
<text x="498.10" y="322.70" font-size="7.0" fill="#333" stroke="#333" stroke-width="0.15">0</text>
<text x="497.80" y="330.70" font-size="7.0" textLength="6.9" lengthAdjust="spacingAndGlyphs" fill="#333" stroke="#333" stroke-width="0.15">−1</text>
<text x="497.80" y="339.10" font-size="7.0" textLength="6.9" lengthAdjust="spacingAndGlyphs" fill="#333" stroke="#333" stroke-width="0.15">−2</text>
<defs><linearGradient id="lg3" x1="0" y1="0" x2="0" y2="1"><stop offset="0.00" stop-color="#6a1919"/><stop offset="0.05" stop-color="#932424"/><stop offset="0.10" stop-color="#ab3535"/><stop offset="0.15" stop-color="#bc4949"/><stop offset="0.20" stop-color="#cd5d5d"/><stop offset="0.25" stop-color="#d77878"/><stop offset="0.30" stop-color="#e19595"/><stop offset="0.35" stop-color="#eab1b1"/><stop offset="0.40" stop-color="#edc4c4"/><stop offset="0.45" stop-color="#f0d8d7"/><stop offset="0.50" stop-color="#f4ecea"/><stop offset="0.55" stop-color="#e4e5f0"/><stop offset="0.60" stop-color="#cdd3ed"/><stop offset="0.65" stop-color="#b6c1e6"/><stop offset="0.70" stop-color="#9eafdf"/><stop offset="0.75" stop-color="#8399d3"/><stop offset="0.80" stop-color="#6883c6"/><stop offset="0.85" stop-color="#5070b8"/><stop offset="0.90" stop-color="#3c61a8"/><stop offset="0.95" stop-color="#285198"/><stop offset="1.00" stop-color="#194182"/></linearGradient></defs>
<rect x="488.3" y="351.9" width="7.3" height="40.90" fill="url(#lg3)"/>
<text x="498.10" y="360.30" font-size="7.0" fill="#333" stroke="#333" stroke-width="0.15">2</text>
<text x="498.10" y="367.90" font-size="7.0" fill="#333" stroke="#333" stroke-width="0.15">1</text>
<text x="498.10" y="375.20" font-size="7.0" fill="#333" stroke="#333" stroke-width="0.15">0</text>
<text x="497.80" y="382.90" font-size="7.0" textLength="6.9" lengthAdjust="spacingAndGlyphs" fill="#333" stroke="#333" stroke-width="0.15">−1</text>
<text x="497.80" y="390.50" font-size="7.0" textLength="6.9" lengthAdjust="spacingAndGlyphs" fill="#333" stroke="#333" stroke-width="0.15">−2</text>
<text x="233.10" y="404.00" font-size="7.0" textLength="28.1" lengthAdjust="spacingAndGlyphs" fill="#222" stroke="#222" stroke-width="0.15">condition</text>
<rect x="270.1" y="398.9" width="5.3" height="5.2" fill="#bf6912"/>
<text x="278.80" y="404.00" font-size="7.0" textLength="33.2" lengthAdjust="spacingAndGlyphs" fill="#222" stroke="#222" stroke-width="0.15">Uninfected</text>
<rect x="318.0" y="398.9" width="5.3" height="5.2" fill="#68b232"/>
<text x="326.40" y="404.00" font-size="7.0" textLength="24.3" lengthAdjust="spacingAndGlyphs" fill="#222" stroke="#222" stroke-width="0.15">Infected</text>
<rect x="0.5" y="0.5" width="519" height="411" fill="none" stroke="#5c5c5c" stroke-width="1"/>
</svg></div></body></html>
